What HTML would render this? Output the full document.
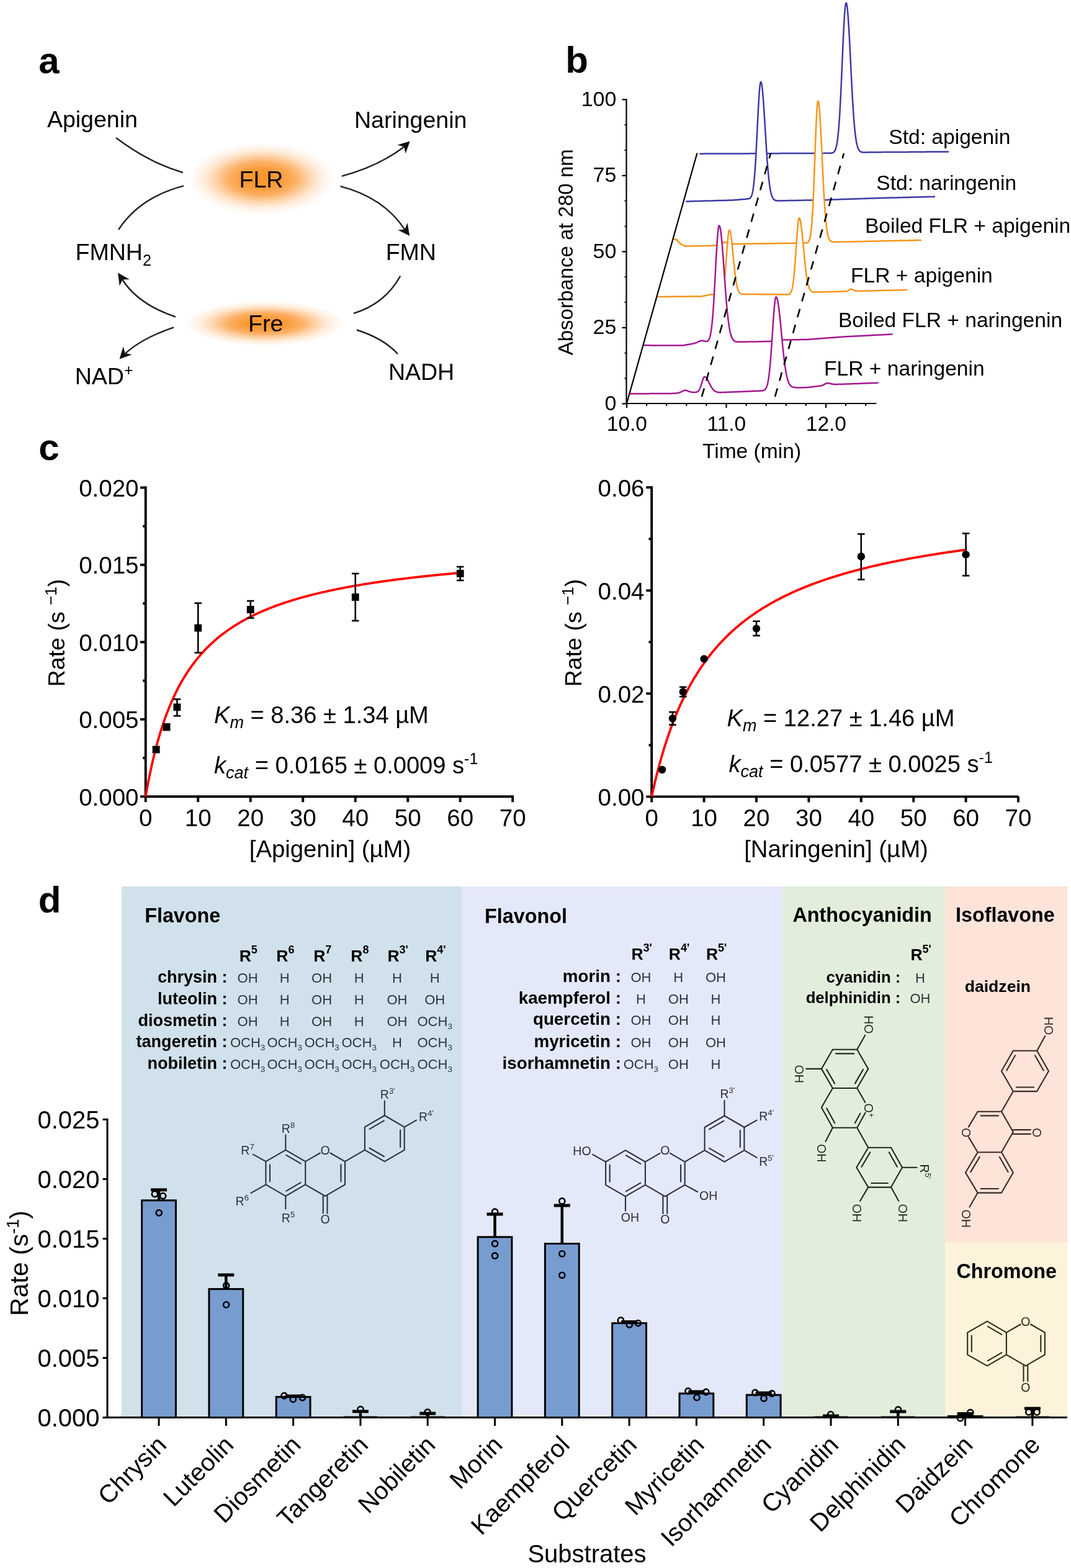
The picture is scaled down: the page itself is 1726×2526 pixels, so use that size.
<!DOCTYPE html>
<html><head><meta charset="utf-8"><title>Figure</title>
<style>
html,body{margin:0;padding:0;background:#fff;}
svg{display:block;}
text{font-family:"Liberation Sans", Arial, Helvetica, sans-serif;}
</style></head><body>
<svg width="1726" height="2526" viewBox="0 0 1726 2526">
<rect x="0" y="0" width="1726" height="2526" fill="#fff"/>
<defs>
<radialGradient id="gl" cx="0.5" cy="0.5" r="0.5">
<stop offset="0" stop-color="#fa952c" stop-opacity="1"/>
<stop offset="0.25" stop-color="#fa962e" stop-opacity="0.95"/>
<stop offset="0.45" stop-color="#fa9834" stop-opacity="0.76"/>
<stop offset="0.6" stop-color="#fb9c3e" stop-opacity="0.47"/>
<stop offset="0.75" stop-color="#fca450" stop-opacity="0.22"/>
<stop offset="0.9" stop-color="#fdb470" stop-opacity="0.07"/>
<stop offset="1" stop-color="#ffffff" stop-opacity="0"/>
</radialGradient>
</defs>
<ellipse cx="422" cy="288" rx="122" ry="60" fill="url(#gl)"/>
<ellipse cx="427" cy="521" rx="134" ry="38" fill="url(#gl)"/>
<text x="62.2" y="118.0" font-size="60" font-weight="bold">a</text>
<text x="75.9" y="205.3" font-size="37.5">Apigenin</text>
<text x="571.0" y="206.0" font-size="37.5">Naringenin</text>
<text x="385.5" y="301.8" font-size="37.5">FLR</text>
<text x="621.7" y="419.0" font-size="37.5">FMN</text>
<text x="121.6" y="418.9" font-size="37.5">FMNH<tspan font-size="25" dy="9">2</tspan></text>
<text x="400.0" y="533.5" font-size="37.5">Fre</text>
<text x="120.7" y="618.6" font-size="37.5">NAD<tspan font-size="25" dy="-14">+</tspan></text>
<text x="625.9" y="612.0" font-size="37.5">NADH</text>
<path d="M187,222 Q240,262 294.7,278" stroke="#222" stroke-width="2.4" fill="none" />
<path d="M296,299.4 Q225,318 191,370" stroke="#222" stroke-width="2.4" fill="none" />
<path d="M550.7,283.8 Q610,268 652,236" stroke="#222" stroke-width="2.4" fill="none" />
<path d="M660.7,227.4 L653.5,247.4 L651.3,236.4 L640.3,233.5 Z" fill="#111"/>
<path d="M548.5,300.2 Q618,318 652.5,370" stroke="#222" stroke-width="2.4" fill="none" />
<path d="M660.2,379.9 L641.1,370.5 L652.4,369.5 L656.5,358.9 Z" fill="#111"/>
<path d="M645.2,444.7 Q620,490 569.9,504.8" stroke="#222" stroke-width="2.4" fill="none" />
<path d="M574.8,531.5 Q618,545 641.1,570.3" stroke="#222" stroke-width="2.4" fill="none" />
<path d="M282.9,510.5 Q222,490 197,450" stroke="#222" stroke-width="2.4" fill="none" />
<path d="M190.0,439.6 L208.6,450.0 L197.3,450.4 L192.7,460.7 Z" fill="#111"/>
<path d="M280.1,527.4 Q228,545 201,570.5" stroke="#222" stroke-width="2.4" fill="none" />
<path d="M192.5,578.4 L198.7,558.0 L201.5,569.0 L212.6,571.3 Z" fill="#111"/>
<text x="911.3" y="117.0" font-size="60" font-weight="bold">b</text>
<path d="M1127.5,247.7 L1128.0,247.7 L1128.5,247.7 L1129.0,247.7 L1129.5,247.7 L1130.0,247.7 L1130.5,247.7 L1131.0,247.7 L1131.5,247.7 L1132.0,247.7 L1132.5,247.7 L1133.0,247.7 L1133.5,247.7 L1134.0,247.7 L1134.5,247.7 L1135.0,247.7 L1135.5,247.7 L1136.0,247.6 L1136.5,247.6 L1137.0,247.6 L1137.5,247.6 L1138.0,247.6 L1138.5,247.6 L1139.0,247.6 L1139.5,247.6 L1140.0,247.6 L1140.5,247.6 L1141.0,247.6 L1141.5,247.6 L1142.0,247.6 L1142.5,247.6 L1143.0,247.6 L1143.5,247.6 L1144.0,247.6 L1144.5,247.6 L1145.0,247.6 L1145.5,247.6 L1146.0,247.6 L1146.5,247.6 L1147.0,247.6 L1147.5,247.6 L1148.0,247.6 L1148.5,247.6 L1149.0,247.6 L1149.5,247.6 L1150.0,247.6 L1150.5,247.6 L1151.0,247.6 L1151.5,247.6 L1152.0,247.6 L1152.5,247.6 L1153.0,247.6 L1153.5,247.6 L1154.0,247.6 L1154.5,247.6 L1155.0,247.6 L1155.5,247.6 L1156.0,247.6 L1156.5,247.6 L1157.0,247.6 L1157.5,247.6 L1158.0,247.6 L1158.5,247.6 L1159.0,247.6 L1159.5,247.6 L1160.0,247.5 L1160.5,247.5 L1161.0,247.5 L1161.5,247.5 L1162.0,247.5 L1162.5,247.5 L1163.0,247.5 L1163.5,247.5 L1164.0,247.5 L1164.5,247.5 L1165.0,247.5 L1165.5,247.5 L1166.0,247.5 L1166.5,247.5 L1167.0,247.5 L1167.5,247.5 L1168.0,247.5 L1168.5,247.5 L1169.0,247.5 L1169.5,247.5 L1170.0,247.5 L1170.5,247.5 L1171.0,247.5 L1171.5,247.5 L1172.0,247.5 L1172.5,247.5 L1173.0,247.5 L1173.5,247.5 L1174.0,247.5 L1174.5,247.5 L1175.0,247.5 L1175.5,247.5 L1176.0,247.5 L1176.5,247.5 L1177.0,247.5 L1177.5,247.5 L1178.0,247.5 L1178.5,247.5 L1179.0,247.5 L1179.5,247.5 L1180.0,247.5 L1180.5,247.5 L1181.0,247.5 L1181.5,247.5 L1182.0,247.5 L1182.5,247.5 L1183.0,247.5 L1183.5,247.5 L1184.0,247.4 L1184.5,247.4 L1185.0,247.4 L1185.5,247.4 L1186.0,247.4 L1186.5,247.4 L1187.0,247.4 L1187.5,247.4 L1188.0,247.4 L1188.5,247.4 L1189.0,247.4 L1189.5,247.4 L1190.0,247.4 L1190.5,247.4 L1191.0,247.4 L1191.5,247.4 L1192.0,247.4 L1192.5,247.4 L1193.0,247.4 L1193.5,247.4 L1194.0,247.4 L1194.5,247.4 L1195.0,247.4 L1195.5,247.4 L1196.0,247.4 L1196.5,247.4 L1197.0,247.4 L1197.5,247.4 L1198.0,247.4 L1198.5,247.4 L1199.0,247.4 L1199.5,247.4 L1200.0,247.4 L1200.5,247.4 L1201.0,247.4 L1201.5,247.4 L1202.0,247.4 L1202.5,247.4 L1203.0,247.4 L1203.5,247.4 L1204.0,247.4 L1204.5,247.4 L1205.0,247.4 L1205.5,247.4 L1206.0,247.4 L1206.5,247.4 L1207.0,247.4 L1207.5,247.4 L1208.0,247.3 L1208.5,247.3 L1209.0,247.3 L1209.5,247.3 L1210.0,247.3 L1210.5,247.3 L1211.0,247.3 L1211.5,247.3 L1212.0,247.3 L1212.5,247.3 L1213.0,247.3 L1213.5,247.3 L1214.0,247.3 L1214.5,247.3 L1215.0,247.3 L1215.5,247.3 L1216.0,247.3 L1216.5,247.3 L1217.0,247.3 L1217.5,247.3 L1218.0,247.3 L1218.5,247.3 L1219.0,247.3 L1219.5,247.3 L1220.0,247.3 L1220.5,247.3 L1221.0,247.3 L1221.5,247.3 L1222.0,247.3 L1222.5,247.3 L1223.0,247.3 L1223.5,247.3 L1224.0,247.3 L1224.5,247.3 L1225.0,247.3 L1225.5,247.3 L1226.0,247.3 L1226.5,247.3 L1227.0,247.3 L1227.5,247.3 L1228.0,247.3 L1228.5,247.3 L1229.0,247.3 L1229.5,247.3 L1230.0,247.3 L1230.5,247.3 L1231.0,247.3 L1231.5,247.3 L1232.0,247.2 L1232.5,247.2 L1233.0,247.2 L1233.5,247.2 L1234.0,247.2 L1234.5,247.2 L1235.0,247.2 L1235.5,247.2 L1236.0,247.2 L1236.5,247.2 L1237.0,247.2 L1237.5,247.2 L1238.0,247.2 L1238.5,247.2 L1239.0,247.2 L1239.5,247.2 L1240.0,247.2 L1240.5,247.2 L1241.0,247.2 L1241.5,247.2 L1242.0,247.2 L1242.5,247.2 L1243.0,247.2 L1243.5,247.2 L1244.0,247.2 L1244.5,247.2 L1245.0,247.2 L1245.5,247.2 L1246.0,247.2 L1246.5,247.2 L1247.0,247.2 L1247.5,247.2 L1248.0,247.2 L1248.5,247.2 L1249.0,247.2 L1249.5,247.2 L1250.0,247.2 L1250.5,247.2 L1251.0,247.2 L1251.5,247.2 L1252.0,247.2 L1252.5,247.2 L1253.0,247.2 L1253.5,247.2 L1254.0,247.2 L1254.5,247.2 L1255.0,247.2 L1255.5,247.2 L1256.0,247.2 L1256.5,247.1 L1257.0,247.1 L1257.5,247.1 L1258.0,247.1 L1258.5,247.1 L1259.0,247.1 L1259.5,247.1 L1260.0,247.1 L1260.5,247.1 L1261.0,247.1 L1261.5,247.1 L1262.0,247.1 L1262.5,247.1 L1263.0,247.1 L1263.5,247.1 L1264.0,247.1 L1264.5,247.1 L1265.0,247.1 L1265.5,247.1 L1266.0,247.1 L1266.5,247.1 L1267.0,247.1 L1267.5,247.1 L1268.0,247.1 L1268.5,247.1 L1269.0,247.1 L1269.5,247.1 L1270.0,247.1 L1270.5,247.1 L1271.0,247.1 L1271.5,247.1 L1272.0,247.1 L1272.5,247.1 L1273.0,247.1 L1273.5,247.1 L1274.0,247.1 L1274.5,247.1 L1275.0,247.1 L1275.5,247.1 L1276.0,247.1 L1276.5,247.1 L1277.0,247.1 L1277.5,247.1 L1278.0,247.1 L1278.5,247.1 L1279.0,247.1 L1279.5,247.1 L1280.0,247.1 L1280.5,247.0 L1281.0,247.0 L1281.5,247.0 L1282.0,247.0 L1282.5,247.0 L1283.0,247.0 L1283.5,247.0 L1284.0,247.0 L1284.5,247.0 L1285.0,247.0 L1285.5,247.0 L1286.0,247.0 L1286.5,247.0 L1287.0,247.0 L1287.5,247.0 L1288.0,247.0 L1288.5,247.0 L1289.0,247.0 L1289.5,247.0 L1290.0,247.0 L1290.5,247.0 L1291.0,247.0 L1291.5,247.0 L1292.0,247.0 L1292.5,247.0 L1293.0,247.0 L1293.5,247.0 L1294.0,247.0 L1294.5,247.0 L1295.0,247.0 L1295.5,247.0 L1296.0,247.0 L1296.5,247.0 L1297.0,247.0 L1297.5,247.0 L1298.0,247.0 L1298.5,247.0 L1299.0,247.0 L1299.5,247.0 L1300.0,247.0 L1300.5,247.0 L1301.0,247.0 L1301.5,247.0 L1302.0,247.0 L1302.5,247.0 L1303.0,247.0 L1303.5,247.0 L1304.0,247.0 L1304.5,246.9 L1305.0,246.9 L1305.5,246.9 L1306.0,246.9 L1306.5,246.9 L1307.0,246.9 L1307.5,246.9 L1308.0,246.9 L1308.5,246.9 L1309.0,246.9 L1309.5,246.9 L1310.0,246.9 L1310.5,246.9 L1311.0,246.9 L1311.5,246.9 L1312.0,246.9 L1312.5,246.9 L1313.0,246.9 L1313.5,246.9 L1314.0,246.9 L1314.5,246.9 L1315.0,246.9 L1315.5,246.9 L1316.0,246.9 L1316.5,246.9 L1317.0,246.9 L1317.5,246.9 L1318.0,246.9 L1318.5,246.9 L1319.0,246.9 L1319.5,246.9 L1320.0,246.9 L1320.5,246.9 L1321.0,246.9 L1321.5,246.9 L1322.0,246.9 L1322.5,246.9 L1323.0,246.9 L1323.5,246.9 L1324.0,246.9 L1324.5,246.9 L1325.0,246.9 L1325.5,246.9 L1326.0,246.9 L1326.5,246.9 L1327.0,246.9 L1327.5,246.9 L1328.0,246.8 L1328.5,246.8 L1329.0,246.8 L1329.5,246.8 L1330.0,246.8 L1330.5,246.8 L1331.0,246.8 L1331.5,246.8 L1332.0,246.8 L1332.5,246.8 L1333.0,246.8 L1333.5,246.8 L1334.0,246.8 L1334.5,246.8 L1335.0,246.8 L1335.5,246.8 L1336.0,246.8 L1336.5,246.8 L1337.0,246.8 L1337.5,246.8 L1338.0,246.7 L1338.5,246.7 L1339.0,246.7 L1339.5,246.6 L1340.0,246.6 L1340.5,246.5 L1341.0,246.4 L1341.5,246.2 L1342.0,246.1 L1342.5,245.9 L1343.0,245.6 L1343.5,245.2 L1344.0,244.8 L1344.5,244.2 L1345.0,243.6 L1345.5,242.8 L1346.0,241.8 L1346.5,240.6 L1347.0,239.1 L1347.5,237.4 L1348.0,235.3 L1348.5,232.9 L1349.0,230.1 L1349.5,226.8 L1350.0,223.1 L1350.5,218.7 L1351.0,213.8 L1351.5,208.3 L1352.0,202.2 L1352.5,195.3 L1353.0,187.8 L1353.5,179.7 L1354.0,170.8 L1354.5,161.4 L1355.0,151.3 L1355.5,140.7 L1356.0,129.7 L1356.5,118.4 L1357.0,106.9 L1357.5,95.2 L1358.0,83.7 L1358.5,72.3 L1359.0,61.3 L1359.5,50.9 L1360.0,41.2 L1360.5,32.3 L1361.0,24.5 L1361.5,17.8 L1362.0,12.4 L1362.5,8.4 L1363.0,5.8 L1363.5,4.7 L1364.0,5.1 L1364.5,6.6 L1365.0,9.2 L1365.5,12.9 L1366.0,17.7 L1366.5,23.5 L1367.0,30.1 L1367.5,37.6 L1368.0,45.7 L1368.5,54.5 L1369.0,63.8 L1369.5,73.4 L1370.0,83.4 L1370.5,93.5 L1371.0,103.6 L1371.5,113.7 L1372.0,123.7 L1372.5,133.5 L1373.0,143.0 L1373.5,152.1 L1374.0,160.9 L1374.5,169.2 L1375.0,177.0 L1375.5,184.3 L1376.0,191.1 L1376.5,197.4 L1377.0,203.1 L1377.5,208.4 L1378.0,213.2 L1378.5,217.5 L1379.0,221.3 L1379.5,224.7 L1380.0,227.8 L1380.5,230.4 L1381.0,232.8 L1381.5,234.8 L1382.0,236.5 L1382.5,238.0 L1383.0,239.3 L1383.5,240.4 L1384.0,241.3 L1384.5,242.1 L1385.0,242.8 L1385.5,243.3 L1386.0,243.7 L1386.5,244.1 L1387.0,244.4 L1387.5,244.6 L1388.0,244.8 L1388.5,245.0 L1389.0,245.1 L1389.5,245.2 L1390.0,245.3 L1390.5,245.3 L1391.0,245.4 L1391.5,245.4 L1392.0,245.4 L1392.5,245.4 L1393.0,245.4 L1393.5,245.4 L1394.0,245.4 L1394.5,245.4 L1395.0,245.4 L1395.5,245.4 L1396.0,245.4 L1396.5,245.4 L1397.0,245.4 L1397.5,245.4 L1398.0,245.3 L1398.5,245.3 L1399.0,245.3 L1399.5,245.3 L1400.0,245.3 L1400.5,245.3 L1401.0,245.3 L1401.5,245.3 L1402.0,245.3 L1402.5,245.3 L1403.0,245.3 L1403.5,245.3 L1404.0,245.3 L1404.5,245.3 L1405.0,245.3 L1405.5,245.3 L1406.0,245.3 L1406.5,245.3 L1407.0,245.3 L1407.5,245.2 L1408.0,245.2 L1408.5,245.2 L1409.0,245.2 L1409.5,245.2 L1410.0,245.2 L1410.5,245.2 L1411.0,245.2 L1411.5,245.2 L1412.0,245.2 L1412.5,245.2 L1413.0,245.2 L1413.5,245.2 L1414.0,245.2 L1414.5,245.2 L1415.0,245.2 L1415.5,245.2 L1416.0,245.2 L1416.5,245.2 L1417.0,245.2 L1417.5,245.2 L1418.0,245.2 L1418.5,245.2 L1419.0,245.2 L1419.5,245.2 L1420.0,245.2 L1420.5,245.2 L1421.0,245.2 L1421.5,245.1 L1422.0,245.1 L1422.5,245.1 L1423.0,245.1 L1423.5,245.1 L1424.0,245.1 L1424.5,245.1 L1425.0,245.1 L1425.5,245.1 L1426.0,245.1 L1426.5,245.1 L1427.0,245.1 L1427.5,245.1 L1428.0,245.1 L1428.5,245.1 L1429.0,245.1 L1429.5,245.1 L1430.0,245.1 L1430.5,245.1 L1431.0,245.1 L1431.5,245.1 L1432.0,245.1 L1432.5,245.1 L1433.0,245.1 L1433.5,245.1 L1434.0,245.1 L1434.5,245.1 L1435.0,245.1 L1435.5,245.1 L1436.0,245.0 L1436.5,245.0 L1437.0,245.0 L1437.5,245.0 L1438.0,245.0 L1438.5,245.0 L1439.0,245.0 L1439.5,245.0 L1440.0,245.0 L1440.5,245.0 L1441.0,245.0 L1441.5,245.0 L1442.0,245.0 L1442.5,245.0 L1443.0,245.0 L1443.5,245.0 L1444.0,245.0 L1444.5,245.0 L1445.0,245.0 L1445.5,245.0 L1446.0,245.0 L1446.5,245.0 L1447.0,245.0 L1447.5,245.0 L1448.0,245.0 L1448.5,245.0 L1449.0,245.0 L1449.5,245.0 L1450.0,245.0 L1450.5,244.9 L1451.0,244.9 L1451.5,244.9 L1452.0,244.9 L1452.5,244.9 L1453.0,244.9 L1453.5,244.9 L1454.0,244.9 L1454.5,244.9 L1455.0,244.9 L1455.5,244.9 L1456.0,244.9 L1456.5,244.9 L1457.0,244.9 L1457.5,244.9 L1458.0,244.9 L1458.5,244.9 L1459.0,244.9 L1459.5,244.9 L1460.0,244.9 L1460.5,244.9 L1461.0,244.9 L1461.5,244.9 L1462.0,244.9 L1462.5,244.9 L1463.0,244.9 L1463.5,244.9 L1464.0,244.9 L1464.5,244.9 L1465.0,244.8 L1465.5,244.8 L1466.0,244.8 L1466.5,244.8 L1467.0,244.8 L1467.5,244.8 L1468.0,244.8 L1468.5,244.8 L1469.0,244.8 L1469.5,244.8 L1470.0,244.8 L1470.5,244.8 L1471.0,244.8 L1471.5,244.8 L1472.0,244.8 L1472.5,244.8 L1473.0,244.8 L1473.5,244.8 L1474.0,244.8 L1474.5,244.8 L1475.0,244.8 L1475.5,244.8 L1476.0,244.8 L1476.5,244.8 L1477.0,244.8 L1477.5,244.8 L1478.0,244.8 L1478.5,244.8 L1479.0,244.7 L1479.5,244.7 L1480.0,244.7 L1480.5,244.7 L1481.0,244.7 L1481.5,244.7 L1482.0,244.7 L1482.5,244.7 L1483.0,244.7 L1483.5,244.7 L1484.0,244.7 L1484.5,244.7 L1485.0,244.7 L1485.5,244.7 L1486.0,244.7 L1486.5,244.7 L1487.0,244.7 L1487.5,244.7 L1488.0,244.7 L1488.5,244.7 L1489.0,244.7 L1489.5,244.7 L1490.0,244.7 L1490.5,244.7 L1491.0,244.7 L1491.5,244.7 L1492.0,244.7 L1492.5,244.7 L1493.0,244.7 L1493.5,244.6 L1494.0,244.6 L1494.5,244.6 L1495.0,244.6 L1495.5,244.6 L1496.0,244.6 L1496.5,244.6 L1497.0,244.6 L1497.5,244.6 L1498.0,244.6 L1498.5,244.6 L1499.0,244.6 L1499.5,244.6 L1500.0,244.6 L1500.5,244.6 L1501.0,244.6 L1501.5,244.6 L1502.0,244.6 L1502.5,244.6 L1503.0,244.6 L1503.5,244.6 L1504.0,244.6 L1504.5,244.6 L1505.0,244.6 L1505.5,244.6 L1506.0,244.6 L1506.5,244.6 L1507.0,244.6 L1507.5,244.6 L1508.0,244.5 L1508.5,244.5 L1509.0,244.5 L1509.5,244.5 L1510.0,244.5 L1510.5,244.5 L1511.0,244.5 L1511.5,244.5 L1512.0,244.5 L1512.5,244.5 L1513.0,244.5 L1513.5,244.5 L1514.0,244.5 L1514.5,244.5 L1515.0,244.5 L1515.5,244.5 L1516.0,244.5 L1516.5,244.5 L1517.0,244.5 L1517.5,244.5 L1518.0,244.5 L1518.5,244.5 L1519.0,244.5 L1519.5,244.5 L1520.0,244.5 L1520.5,244.5 L1521.0,244.5 L1521.5,244.5 L1522.0,244.4 L1522.5,244.4 L1523.0,244.4 L1523.5,244.4 L1524.0,244.4 L1524.5,244.4 L1525.0,244.4 L1525.5,244.4 L1526.0,244.4 L1526.5,244.4 L1527.0,244.4 L1527.5,244.4 L1528.0,244.4 L1528.5,244.4 L1529.0,244.4 L1529.0,652 L1127.5,652 Z" fill="#fff" stroke="none"/>
<path d="M1127.5,247.7 L1128.0,247.7 L1128.5,247.7 L1129.0,247.7 L1129.5,247.7 L1130.0,247.7 L1130.5,247.7 L1131.0,247.7 L1131.5,247.7 L1132.0,247.7 L1132.5,247.7 L1133.0,247.7 L1133.5,247.7 L1134.0,247.7 L1134.5,247.7 L1135.0,247.7 L1135.5,247.7 L1136.0,247.6 L1136.5,247.6 L1137.0,247.6 L1137.5,247.6 L1138.0,247.6 L1138.5,247.6 L1139.0,247.6 L1139.5,247.6 L1140.0,247.6 L1140.5,247.6 L1141.0,247.6 L1141.5,247.6 L1142.0,247.6 L1142.5,247.6 L1143.0,247.6 L1143.5,247.6 L1144.0,247.6 L1144.5,247.6 L1145.0,247.6 L1145.5,247.6 L1146.0,247.6 L1146.5,247.6 L1147.0,247.6 L1147.5,247.6 L1148.0,247.6 L1148.5,247.6 L1149.0,247.6 L1149.5,247.6 L1150.0,247.6 L1150.5,247.6 L1151.0,247.6 L1151.5,247.6 L1152.0,247.6 L1152.5,247.6 L1153.0,247.6 L1153.5,247.6 L1154.0,247.6 L1154.5,247.6 L1155.0,247.6 L1155.5,247.6 L1156.0,247.6 L1156.5,247.6 L1157.0,247.6 L1157.5,247.6 L1158.0,247.6 L1158.5,247.6 L1159.0,247.6 L1159.5,247.6 L1160.0,247.5 L1160.5,247.5 L1161.0,247.5 L1161.5,247.5 L1162.0,247.5 L1162.5,247.5 L1163.0,247.5 L1163.5,247.5 L1164.0,247.5 L1164.5,247.5 L1165.0,247.5 L1165.5,247.5 L1166.0,247.5 L1166.5,247.5 L1167.0,247.5 L1167.5,247.5 L1168.0,247.5 L1168.5,247.5 L1169.0,247.5 L1169.5,247.5 L1170.0,247.5 L1170.5,247.5 L1171.0,247.5 L1171.5,247.5 L1172.0,247.5 L1172.5,247.5 L1173.0,247.5 L1173.5,247.5 L1174.0,247.5 L1174.5,247.5 L1175.0,247.5 L1175.5,247.5 L1176.0,247.5 L1176.5,247.5 L1177.0,247.5 L1177.5,247.5 L1178.0,247.5 L1178.5,247.5 L1179.0,247.5 L1179.5,247.5 L1180.0,247.5 L1180.5,247.5 L1181.0,247.5 L1181.5,247.5 L1182.0,247.5 L1182.5,247.5 L1183.0,247.5 L1183.5,247.5 L1184.0,247.4 L1184.5,247.4 L1185.0,247.4 L1185.5,247.4 L1186.0,247.4 L1186.5,247.4 L1187.0,247.4 L1187.5,247.4 L1188.0,247.4 L1188.5,247.4 L1189.0,247.4 L1189.5,247.4 L1190.0,247.4 L1190.5,247.4 L1191.0,247.4 L1191.5,247.4 L1192.0,247.4 L1192.5,247.4 L1193.0,247.4 L1193.5,247.4 L1194.0,247.4 L1194.5,247.4 L1195.0,247.4 L1195.5,247.4 L1196.0,247.4 L1196.5,247.4 L1197.0,247.4 L1197.5,247.4 L1198.0,247.4 L1198.5,247.4 L1199.0,247.4 L1199.5,247.4 L1200.0,247.4 L1200.5,247.4 L1201.0,247.4 L1201.5,247.4 L1202.0,247.4 L1202.5,247.4 L1203.0,247.4 L1203.5,247.4 L1204.0,247.4 L1204.5,247.4 L1205.0,247.4 L1205.5,247.4 L1206.0,247.4 L1206.5,247.4 L1207.0,247.4 L1207.5,247.4 L1208.0,247.3 L1208.5,247.3 L1209.0,247.3 L1209.5,247.3 L1210.0,247.3 L1210.5,247.3 L1211.0,247.3 L1211.5,247.3 L1212.0,247.3 L1212.5,247.3 L1213.0,247.3 L1213.5,247.3 L1214.0,247.3 L1214.5,247.3 L1215.0,247.3 L1215.5,247.3 L1216.0,247.3 L1216.5,247.3 L1217.0,247.3 L1217.5,247.3 L1218.0,247.3 L1218.5,247.3 L1219.0,247.3 L1219.5,247.3 L1220.0,247.3 L1220.5,247.3 L1221.0,247.3 L1221.5,247.3 L1222.0,247.3 L1222.5,247.3 L1223.0,247.3 L1223.5,247.3 L1224.0,247.3 L1224.5,247.3 L1225.0,247.3 L1225.5,247.3 L1226.0,247.3 L1226.5,247.3 L1227.0,247.3 L1227.5,247.3 L1228.0,247.3 L1228.5,247.3 L1229.0,247.3 L1229.5,247.3 L1230.0,247.3 L1230.5,247.3 L1231.0,247.3 L1231.5,247.3 L1232.0,247.2 L1232.5,247.2 L1233.0,247.2 L1233.5,247.2 L1234.0,247.2 L1234.5,247.2 L1235.0,247.2 L1235.5,247.2 L1236.0,247.2 L1236.5,247.2 L1237.0,247.2 L1237.5,247.2 L1238.0,247.2 L1238.5,247.2 L1239.0,247.2 L1239.5,247.2 L1240.0,247.2 L1240.5,247.2 L1241.0,247.2 L1241.5,247.2 L1242.0,247.2 L1242.5,247.2 L1243.0,247.2 L1243.5,247.2 L1244.0,247.2 L1244.5,247.2 L1245.0,247.2 L1245.5,247.2 L1246.0,247.2 L1246.5,247.2 L1247.0,247.2 L1247.5,247.2 L1248.0,247.2 L1248.5,247.2 L1249.0,247.2 L1249.5,247.2 L1250.0,247.2 L1250.5,247.2 L1251.0,247.2 L1251.5,247.2 L1252.0,247.2 L1252.5,247.2 L1253.0,247.2 L1253.5,247.2 L1254.0,247.2 L1254.5,247.2 L1255.0,247.2 L1255.5,247.2 L1256.0,247.2 L1256.5,247.1 L1257.0,247.1 L1257.5,247.1 L1258.0,247.1 L1258.5,247.1 L1259.0,247.1 L1259.5,247.1 L1260.0,247.1 L1260.5,247.1 L1261.0,247.1 L1261.5,247.1 L1262.0,247.1 L1262.5,247.1 L1263.0,247.1 L1263.5,247.1 L1264.0,247.1 L1264.5,247.1 L1265.0,247.1 L1265.5,247.1 L1266.0,247.1 L1266.5,247.1 L1267.0,247.1 L1267.5,247.1 L1268.0,247.1 L1268.5,247.1 L1269.0,247.1 L1269.5,247.1 L1270.0,247.1 L1270.5,247.1 L1271.0,247.1 L1271.5,247.1 L1272.0,247.1 L1272.5,247.1 L1273.0,247.1 L1273.5,247.1 L1274.0,247.1 L1274.5,247.1 L1275.0,247.1 L1275.5,247.1 L1276.0,247.1 L1276.5,247.1 L1277.0,247.1 L1277.5,247.1 L1278.0,247.1 L1278.5,247.1 L1279.0,247.1 L1279.5,247.1 L1280.0,247.1 L1280.5,247.0 L1281.0,247.0 L1281.5,247.0 L1282.0,247.0 L1282.5,247.0 L1283.0,247.0 L1283.5,247.0 L1284.0,247.0 L1284.5,247.0 L1285.0,247.0 L1285.5,247.0 L1286.0,247.0 L1286.5,247.0 L1287.0,247.0 L1287.5,247.0 L1288.0,247.0 L1288.5,247.0 L1289.0,247.0 L1289.5,247.0 L1290.0,247.0 L1290.5,247.0 L1291.0,247.0 L1291.5,247.0 L1292.0,247.0 L1292.5,247.0 L1293.0,247.0 L1293.5,247.0 L1294.0,247.0 L1294.5,247.0 L1295.0,247.0 L1295.5,247.0 L1296.0,247.0 L1296.5,247.0 L1297.0,247.0 L1297.5,247.0 L1298.0,247.0 L1298.5,247.0 L1299.0,247.0 L1299.5,247.0 L1300.0,247.0 L1300.5,247.0 L1301.0,247.0 L1301.5,247.0 L1302.0,247.0 L1302.5,247.0 L1303.0,247.0 L1303.5,247.0 L1304.0,247.0 L1304.5,246.9 L1305.0,246.9 L1305.5,246.9 L1306.0,246.9 L1306.5,246.9 L1307.0,246.9 L1307.5,246.9 L1308.0,246.9 L1308.5,246.9 L1309.0,246.9 L1309.5,246.9 L1310.0,246.9 L1310.5,246.9 L1311.0,246.9 L1311.5,246.9 L1312.0,246.9 L1312.5,246.9 L1313.0,246.9 L1313.5,246.9 L1314.0,246.9 L1314.5,246.9 L1315.0,246.9 L1315.5,246.9 L1316.0,246.9 L1316.5,246.9 L1317.0,246.9 L1317.5,246.9 L1318.0,246.9 L1318.5,246.9 L1319.0,246.9 L1319.5,246.9 L1320.0,246.9 L1320.5,246.9 L1321.0,246.9 L1321.5,246.9 L1322.0,246.9 L1322.5,246.9 L1323.0,246.9 L1323.5,246.9 L1324.0,246.9 L1324.5,246.9 L1325.0,246.9 L1325.5,246.9 L1326.0,246.9 L1326.5,246.9 L1327.0,246.9 L1327.5,246.9 L1328.0,246.8 L1328.5,246.8 L1329.0,246.8 L1329.5,246.8 L1330.0,246.8 L1330.5,246.8 L1331.0,246.8 L1331.5,246.8 L1332.0,246.8 L1332.5,246.8 L1333.0,246.8 L1333.5,246.8 L1334.0,246.8 L1334.5,246.8 L1335.0,246.8 L1335.5,246.8 L1336.0,246.8 L1336.5,246.8 L1337.0,246.8 L1337.5,246.8 L1338.0,246.7 L1338.5,246.7 L1339.0,246.7 L1339.5,246.6 L1340.0,246.6 L1340.5,246.5 L1341.0,246.4 L1341.5,246.2 L1342.0,246.1 L1342.5,245.9 L1343.0,245.6 L1343.5,245.2 L1344.0,244.8 L1344.5,244.2 L1345.0,243.6 L1345.5,242.8 L1346.0,241.8 L1346.5,240.6 L1347.0,239.1 L1347.5,237.4 L1348.0,235.3 L1348.5,232.9 L1349.0,230.1 L1349.5,226.8 L1350.0,223.1 L1350.5,218.7 L1351.0,213.8 L1351.5,208.3 L1352.0,202.2 L1352.5,195.3 L1353.0,187.8 L1353.5,179.7 L1354.0,170.8 L1354.5,161.4 L1355.0,151.3 L1355.5,140.7 L1356.0,129.7 L1356.5,118.4 L1357.0,106.9 L1357.5,95.2 L1358.0,83.7 L1358.5,72.3 L1359.0,61.3 L1359.5,50.9 L1360.0,41.2 L1360.5,32.3 L1361.0,24.5 L1361.5,17.8 L1362.0,12.4 L1362.5,8.4 L1363.0,5.8 L1363.5,4.7 L1364.0,5.1 L1364.5,6.6 L1365.0,9.2 L1365.5,12.9 L1366.0,17.7 L1366.5,23.5 L1367.0,30.1 L1367.5,37.6 L1368.0,45.7 L1368.5,54.5 L1369.0,63.8 L1369.5,73.4 L1370.0,83.4 L1370.5,93.5 L1371.0,103.6 L1371.5,113.7 L1372.0,123.7 L1372.5,133.5 L1373.0,143.0 L1373.5,152.1 L1374.0,160.9 L1374.5,169.2 L1375.0,177.0 L1375.5,184.3 L1376.0,191.1 L1376.5,197.4 L1377.0,203.1 L1377.5,208.4 L1378.0,213.2 L1378.5,217.5 L1379.0,221.3 L1379.5,224.7 L1380.0,227.8 L1380.5,230.4 L1381.0,232.8 L1381.5,234.8 L1382.0,236.5 L1382.5,238.0 L1383.0,239.3 L1383.5,240.4 L1384.0,241.3 L1384.5,242.1 L1385.0,242.8 L1385.5,243.3 L1386.0,243.7 L1386.5,244.1 L1387.0,244.4 L1387.5,244.6 L1388.0,244.8 L1388.5,245.0 L1389.0,245.1 L1389.5,245.2 L1390.0,245.3 L1390.5,245.3 L1391.0,245.4 L1391.5,245.4 L1392.0,245.4 L1392.5,245.4 L1393.0,245.4 L1393.5,245.4 L1394.0,245.4 L1394.5,245.4 L1395.0,245.4 L1395.5,245.4 L1396.0,245.4 L1396.5,245.4 L1397.0,245.4 L1397.5,245.4 L1398.0,245.3 L1398.5,245.3 L1399.0,245.3 L1399.5,245.3 L1400.0,245.3 L1400.5,245.3 L1401.0,245.3 L1401.5,245.3 L1402.0,245.3 L1402.5,245.3 L1403.0,245.3 L1403.5,245.3 L1404.0,245.3 L1404.5,245.3 L1405.0,245.3 L1405.5,245.3 L1406.0,245.3 L1406.5,245.3 L1407.0,245.3 L1407.5,245.2 L1408.0,245.2 L1408.5,245.2 L1409.0,245.2 L1409.5,245.2 L1410.0,245.2 L1410.5,245.2 L1411.0,245.2 L1411.5,245.2 L1412.0,245.2 L1412.5,245.2 L1413.0,245.2 L1413.5,245.2 L1414.0,245.2 L1414.5,245.2 L1415.0,245.2 L1415.5,245.2 L1416.0,245.2 L1416.5,245.2 L1417.0,245.2 L1417.5,245.2 L1418.0,245.2 L1418.5,245.2 L1419.0,245.2 L1419.5,245.2 L1420.0,245.2 L1420.5,245.2 L1421.0,245.2 L1421.5,245.1 L1422.0,245.1 L1422.5,245.1 L1423.0,245.1 L1423.5,245.1 L1424.0,245.1 L1424.5,245.1 L1425.0,245.1 L1425.5,245.1 L1426.0,245.1 L1426.5,245.1 L1427.0,245.1 L1427.5,245.1 L1428.0,245.1 L1428.5,245.1 L1429.0,245.1 L1429.5,245.1 L1430.0,245.1 L1430.5,245.1 L1431.0,245.1 L1431.5,245.1 L1432.0,245.1 L1432.5,245.1 L1433.0,245.1 L1433.5,245.1 L1434.0,245.1 L1434.5,245.1 L1435.0,245.1 L1435.5,245.1 L1436.0,245.0 L1436.5,245.0 L1437.0,245.0 L1437.5,245.0 L1438.0,245.0 L1438.5,245.0 L1439.0,245.0 L1439.5,245.0 L1440.0,245.0 L1440.5,245.0 L1441.0,245.0 L1441.5,245.0 L1442.0,245.0 L1442.5,245.0 L1443.0,245.0 L1443.5,245.0 L1444.0,245.0 L1444.5,245.0 L1445.0,245.0 L1445.5,245.0 L1446.0,245.0 L1446.5,245.0 L1447.0,245.0 L1447.5,245.0 L1448.0,245.0 L1448.5,245.0 L1449.0,245.0 L1449.5,245.0 L1450.0,245.0 L1450.5,244.9 L1451.0,244.9 L1451.5,244.9 L1452.0,244.9 L1452.5,244.9 L1453.0,244.9 L1453.5,244.9 L1454.0,244.9 L1454.5,244.9 L1455.0,244.9 L1455.5,244.9 L1456.0,244.9 L1456.5,244.9 L1457.0,244.9 L1457.5,244.9 L1458.0,244.9 L1458.5,244.9 L1459.0,244.9 L1459.5,244.9 L1460.0,244.9 L1460.5,244.9 L1461.0,244.9 L1461.5,244.9 L1462.0,244.9 L1462.5,244.9 L1463.0,244.9 L1463.5,244.9 L1464.0,244.9 L1464.5,244.9 L1465.0,244.8 L1465.5,244.8 L1466.0,244.8 L1466.5,244.8 L1467.0,244.8 L1467.5,244.8 L1468.0,244.8 L1468.5,244.8 L1469.0,244.8 L1469.5,244.8 L1470.0,244.8 L1470.5,244.8 L1471.0,244.8 L1471.5,244.8 L1472.0,244.8 L1472.5,244.8 L1473.0,244.8 L1473.5,244.8 L1474.0,244.8 L1474.5,244.8 L1475.0,244.8 L1475.5,244.8 L1476.0,244.8 L1476.5,244.8 L1477.0,244.8 L1477.5,244.8 L1478.0,244.8 L1478.5,244.8 L1479.0,244.7 L1479.5,244.7 L1480.0,244.7 L1480.5,244.7 L1481.0,244.7 L1481.5,244.7 L1482.0,244.7 L1482.5,244.7 L1483.0,244.7 L1483.5,244.7 L1484.0,244.7 L1484.5,244.7 L1485.0,244.7 L1485.5,244.7 L1486.0,244.7 L1486.5,244.7 L1487.0,244.7 L1487.5,244.7 L1488.0,244.7 L1488.5,244.7 L1489.0,244.7 L1489.5,244.7 L1490.0,244.7 L1490.5,244.7 L1491.0,244.7 L1491.5,244.7 L1492.0,244.7 L1492.5,244.7 L1493.0,244.7 L1493.5,244.6 L1494.0,244.6 L1494.5,244.6 L1495.0,244.6 L1495.5,244.6 L1496.0,244.6 L1496.5,244.6 L1497.0,244.6 L1497.5,244.6 L1498.0,244.6 L1498.5,244.6 L1499.0,244.6 L1499.5,244.6 L1500.0,244.6 L1500.5,244.6 L1501.0,244.6 L1501.5,244.6 L1502.0,244.6 L1502.5,244.6 L1503.0,244.6 L1503.5,244.6 L1504.0,244.6 L1504.5,244.6 L1505.0,244.6 L1505.5,244.6 L1506.0,244.6 L1506.5,244.6 L1507.0,244.6 L1507.5,244.6 L1508.0,244.5 L1508.5,244.5 L1509.0,244.5 L1509.5,244.5 L1510.0,244.5 L1510.5,244.5 L1511.0,244.5 L1511.5,244.5 L1512.0,244.5 L1512.5,244.5 L1513.0,244.5 L1513.5,244.5 L1514.0,244.5 L1514.5,244.5 L1515.0,244.5 L1515.5,244.5 L1516.0,244.5 L1516.5,244.5 L1517.0,244.5 L1517.5,244.5 L1518.0,244.5 L1518.5,244.5 L1519.0,244.5 L1519.5,244.5 L1520.0,244.5 L1520.5,244.5 L1521.0,244.5 L1521.5,244.5 L1522.0,244.4 L1522.5,244.4 L1523.0,244.4 L1523.5,244.4 L1524.0,244.4 L1524.5,244.4 L1525.0,244.4 L1525.5,244.4 L1526.0,244.4 L1526.5,244.4 L1527.0,244.4 L1527.5,244.4 L1528.0,244.4 L1528.5,244.4 L1529.0,244.4" fill="none" stroke="#3c3aa6" stroke-width="2.5" stroke-linejoin="round"/>
<path d="M1105.0,324.5 L1105.5,324.5 L1106.0,324.5 L1106.5,324.5 L1107.0,324.4 L1107.5,324.4 L1108.0,324.4 L1108.5,324.4 L1109.0,324.4 L1109.5,324.4 L1110.0,324.4 L1110.5,324.4 L1111.0,324.3 L1111.5,324.3 L1112.0,324.3 L1112.5,324.3 L1113.0,324.3 L1113.5,324.3 L1114.0,324.3 L1114.5,324.2 L1115.0,324.2 L1115.5,324.2 L1116.0,324.2 L1116.5,324.2 L1117.0,324.2 L1117.5,324.2 L1118.0,324.2 L1118.5,324.1 L1119.0,324.1 L1119.5,324.1 L1120.0,324.1 L1120.5,324.1 L1121.0,324.1 L1121.5,324.1 L1122.0,324.0 L1122.5,324.0 L1123.0,324.0 L1123.5,324.0 L1124.0,324.0 L1124.5,324.0 L1125.0,324.0 L1125.5,324.0 L1126.0,323.9 L1126.5,323.9 L1127.0,323.9 L1127.5,323.9 L1128.0,323.9 L1128.5,323.9 L1129.0,323.9 L1129.5,323.8 L1130.0,323.8 L1130.5,323.8 L1131.0,323.8 L1131.5,323.8 L1132.0,323.8 L1132.5,323.8 L1133.0,323.8 L1133.5,323.7 L1134.0,323.7 L1134.5,323.7 L1135.0,323.7 L1135.5,323.7 L1136.0,323.7 L1136.5,323.7 L1137.0,323.6 L1137.5,323.6 L1138.0,323.6 L1138.5,323.6 L1139.0,323.6 L1139.5,323.6 L1140.0,323.6 L1140.5,323.6 L1141.0,323.5 L1141.5,323.5 L1142.0,323.5 L1142.5,323.5 L1143.0,323.5 L1143.5,323.5 L1144.0,323.5 L1144.5,323.4 L1145.0,323.4 L1145.5,323.4 L1146.0,323.4 L1146.5,323.4 L1147.0,323.4 L1147.5,323.4 L1148.0,323.4 L1148.5,323.3 L1149.0,323.3 L1149.5,323.3 L1150.0,323.3 L1150.5,323.3 L1151.0,323.3 L1151.5,323.3 L1152.0,323.2 L1152.5,323.2 L1153.0,323.2 L1153.5,323.2 L1154.0,323.2 L1154.5,323.2 L1155.0,323.2 L1155.5,323.2 L1156.0,323.1 L1156.5,323.1 L1157.0,323.1 L1157.5,323.1 L1158.0,323.1 L1158.5,323.1 L1159.0,323.1 L1159.5,323.0 L1160.0,323.0 L1160.5,323.0 L1161.0,323.0 L1161.5,323.0 L1162.0,323.0 L1162.5,323.0 L1163.0,323.0 L1163.5,322.9 L1164.0,322.9 L1164.5,322.9 L1165.0,322.9 L1165.5,322.9 L1166.0,322.9 L1166.5,322.9 L1167.0,322.8 L1167.5,322.8 L1168.0,322.8 L1168.5,322.8 L1169.0,322.8 L1169.5,322.8 L1170.0,322.8 L1170.5,322.8 L1171.0,322.7 L1171.5,322.7 L1172.0,322.7 L1172.5,322.7 L1173.0,322.7 L1173.5,322.7 L1174.0,322.7 L1174.5,322.6 L1175.0,322.6 L1175.5,322.6 L1176.0,322.6 L1176.5,322.6 L1177.0,322.6 L1177.5,322.6 L1178.0,322.6 L1178.5,322.5 L1179.0,322.5 L1179.5,322.5 L1180.0,322.5 L1180.5,322.5 L1181.0,322.4 L1181.5,322.4 L1182.0,322.3 L1182.5,322.3 L1183.0,322.3 L1183.5,322.2 L1184.0,322.2 L1184.5,322.1 L1185.0,322.1 L1185.5,322.1 L1186.0,322.0 L1186.5,322.0 L1187.0,321.9 L1187.5,321.9 L1188.0,321.9 L1188.5,321.8 L1189.0,321.8 L1189.5,321.7 L1190.0,321.7 L1190.5,321.7 L1191.0,321.6 L1191.5,321.6 L1192.0,321.5 L1192.5,321.5 L1193.0,321.5 L1193.5,321.4 L1194.0,321.4 L1194.5,321.3 L1195.0,321.3 L1195.5,321.3 L1196.0,321.2 L1196.5,321.2 L1197.0,321.1 L1197.5,321.1 L1198.0,321.1 L1198.5,321.0 L1199.0,321.0 L1199.5,320.9 L1200.0,320.9 L1200.5,320.9 L1201.0,320.8 L1201.5,320.8 L1202.0,320.7 L1202.5,320.7 L1203.0,320.6 L1203.5,320.6 L1204.0,320.5 L1204.5,320.4 L1205.0,320.3 L1205.5,320.3 L1206.0,320.3 L1206.5,320.2 L1207.0,320.1 L1207.5,319.9 L1208.0,319.7 L1208.5,319.4 L1209.0,319.0 L1209.5,318.5 L1210.0,317.8 L1210.5,316.9 L1211.0,315.9 L1211.5,314.6 L1212.0,313.0 L1212.5,311.0 L1213.0,308.7 L1213.5,306.0 L1214.0,302.7 L1214.5,298.9 L1215.0,294.5 L1215.5,289.5 L1216.0,283.9 L1216.5,277.6 L1217.0,270.6 L1217.5,262.9 L1218.0,254.6 L1218.5,245.8 L1219.0,236.4 L1219.5,226.6 L1220.0,216.5 L1220.5,206.3 L1221.0,196.1 L1221.5,186.0 L1222.0,176.3 L1222.5,167.1 L1223.0,158.7 L1223.5,151.1 L1224.0,144.7 L1224.5,139.4 L1225.0,135.5 L1225.5,133.0 L1226.0,131.9 L1226.5,132.2 L1227.0,133.5 L1227.5,135.8 L1228.0,138.9 L1228.5,142.9 L1229.0,147.7 L1229.5,153.3 L1230.0,159.5 L1230.5,166.3 L1231.0,173.5 L1231.5,181.2 L1232.0,189.1 L1232.5,197.2 L1233.0,205.5 L1233.5,213.7 L1234.0,221.9 L1234.5,230.0 L1235.0,237.8 L1235.5,245.4 L1236.0,252.7 L1236.5,259.6 L1237.0,266.1 L1237.5,272.2 L1238.0,277.9 L1238.5,283.2 L1239.0,288.0 L1239.5,292.4 L1240.0,296.4 L1240.5,300.0 L1241.0,303.2 L1241.5,306.0 L1242.0,308.6 L1242.5,310.8 L1243.0,312.7 L1243.5,314.4 L1244.0,315.9 L1244.5,317.1 L1245.0,318.2 L1245.5,319.1 L1246.0,319.9 L1246.5,320.5 L1247.0,321.1 L1247.5,321.6 L1248.0,321.9 L1248.5,322.3 L1249.0,322.5 L1249.5,322.8 L1250.0,322.9 L1250.5,323.1 L1251.0,323.1 L1251.5,323.2 L1252.0,323.3 L1252.5,323.3 L1253.0,323.3 L1253.5,323.3 L1254.0,323.4 L1254.5,323.4 L1255.0,323.4 L1255.5,323.4 L1256.0,323.4 L1256.5,323.4 L1257.0,323.4 L1257.5,323.4 L1258.0,323.3 L1258.5,323.3 L1259.0,323.3 L1259.5,323.3 L1260.0,323.3 L1260.5,323.3 L1261.0,323.3 L1261.5,323.3 L1262.0,323.3 L1262.5,323.3 L1263.0,323.3 L1263.5,323.2 L1264.0,323.2 L1264.5,323.2 L1265.0,323.2 L1265.5,323.2 L1266.0,323.2 L1266.5,323.2 L1267.0,323.2 L1267.5,323.2 L1268.0,323.2 L1268.5,323.2 L1269.0,323.1 L1269.5,323.1 L1270.0,323.1 L1270.5,323.1 L1271.0,323.1 L1271.5,323.1 L1272.0,323.1 L1272.5,323.1 L1273.0,323.1 L1273.5,323.1 L1274.0,323.0 L1274.5,323.0 L1275.0,323.0 L1275.5,323.0 L1276.0,323.0 L1276.5,323.0 L1277.0,323.0 L1277.5,323.0 L1278.0,323.0 L1278.5,323.0 L1279.0,323.0 L1279.5,322.9 L1280.0,322.9 L1280.5,322.9 L1281.0,322.9 L1281.5,322.9 L1282.0,322.9 L1282.5,322.9 L1283.0,322.9 L1283.5,322.9 L1284.0,322.9 L1284.5,322.9 L1285.0,322.8 L1285.5,322.8 L1286.0,322.8 L1286.5,322.8 L1287.0,322.8 L1287.5,322.8 L1288.0,322.8 L1288.5,322.8 L1289.0,322.8 L1289.5,322.8 L1290.0,322.8 L1290.5,322.7 L1291.0,322.7 L1291.5,322.7 L1292.0,322.7 L1292.5,322.7 L1293.0,322.7 L1293.5,322.7 L1294.0,322.7 L1294.5,322.7 L1295.0,322.7 L1295.5,322.6 L1296.0,322.6 L1296.5,322.6 L1297.0,322.6 L1297.5,322.6 L1298.0,322.6 L1298.5,322.6 L1299.0,322.6 L1299.5,322.6 L1300.0,322.6 L1300.5,322.6 L1301.0,322.5 L1301.5,322.5 L1302.0,322.5 L1302.5,322.5 L1303.0,322.5 L1303.5,322.5 L1304.0,322.5 L1304.5,322.5 L1305.0,322.5 L1305.5,322.5 L1306.0,322.4 L1306.5,322.4 L1307.0,322.4 L1307.5,322.4 L1308.0,322.4 L1308.5,322.4 L1309.0,322.4 L1309.5,322.4 L1310.0,322.4 L1310.5,322.4 L1311.0,322.4 L1311.5,322.3 L1312.0,322.3 L1312.5,322.3 L1313.0,322.3 L1313.5,322.3 L1314.0,322.3 L1314.5,322.3 L1315.0,322.3 L1315.5,322.3 L1316.0,322.3 L1316.5,322.3 L1317.0,322.2 L1317.5,322.2 L1318.0,322.2 L1318.5,322.2 L1319.0,322.2 L1319.5,322.2 L1320.0,322.2 L1320.5,322.2 L1321.0,322.2 L1321.5,322.2 L1322.0,322.1 L1322.5,322.1 L1323.0,322.1 L1323.5,322.1 L1324.0,322.1 L1324.5,322.1 L1325.0,322.1 L1325.5,322.1 L1326.0,322.1 L1326.5,322.1 L1327.0,322.1 L1327.5,322.0 L1328.0,322.0 L1328.5,322.0 L1329.0,322.0 L1329.5,322.0 L1330.0,322.0 L1330.5,322.0 L1331.0,322.0 L1331.5,321.9 L1332.0,321.9 L1332.5,321.9 L1333.0,321.9 L1333.5,321.9 L1334.0,321.9 L1334.5,321.9 L1335.0,321.8 L1335.5,321.8 L1336.0,321.8 L1336.5,321.8 L1337.0,321.8 L1337.5,321.8 L1338.0,321.7 L1338.5,321.7 L1339.0,321.7 L1339.5,321.7 L1340.0,321.7 L1340.5,321.6 L1341.0,321.6 L1341.5,321.6 L1342.0,321.6 L1342.5,321.6 L1343.0,321.6 L1343.5,321.6 L1344.0,321.5 L1344.5,321.5 L1345.0,321.5 L1345.5,321.5 L1346.0,321.5 L1346.5,321.4 L1347.0,321.4 L1347.5,321.4 L1348.0,321.4 L1348.5,321.4 L1349.0,321.4 L1349.5,321.4 L1350.0,321.3 L1350.5,321.3 L1351.0,321.3 L1351.5,321.3 L1352.0,321.3 L1352.5,321.2 L1353.0,321.2 L1353.5,321.2 L1354.0,321.2 L1354.5,321.2 L1355.0,321.2 L1355.5,321.1 L1356.0,321.1 L1356.5,321.1 L1357.0,321.1 L1357.5,321.1 L1358.0,321.1 L1358.5,321.1 L1359.0,321.0 L1359.5,321.0 L1360.0,321.0 L1360.5,321.0 L1361.0,321.0 L1361.5,320.9 L1362.0,320.9 L1362.5,320.9 L1363.0,320.9 L1363.5,320.9 L1364.0,320.9 L1364.5,320.9 L1365.0,320.8 L1365.5,320.8 L1366.0,320.8 L1366.5,320.8 L1367.0,320.8 L1367.5,320.8 L1368.0,320.7 L1368.5,320.7 L1369.0,320.7 L1369.5,320.7 L1370.0,320.7 L1370.5,320.6 L1371.0,320.6 L1371.5,320.6 L1372.0,320.6 L1372.5,320.6 L1373.0,320.6 L1373.5,320.6 L1374.0,320.5 L1374.5,320.5 L1375.0,320.5 L1375.5,320.5 L1376.0,320.5 L1376.5,320.4 L1377.0,320.4 L1377.5,320.4 L1378.0,320.4 L1378.5,320.4 L1379.0,320.4 L1379.5,320.4 L1380.0,320.3 L1380.5,320.3 L1381.0,320.3 L1381.5,320.3 L1382.0,320.3 L1382.5,320.2 L1383.0,320.2 L1383.5,320.2 L1384.0,320.2 L1384.5,320.2 L1385.0,320.2 L1385.5,320.1 L1386.0,320.1 L1386.5,320.1 L1387.0,320.1 L1387.5,320.1 L1388.0,320.1 L1388.5,320.1 L1389.0,320.0 L1389.5,320.0 L1390.0,320.0 L1390.5,320.0 L1391.0,320.0 L1391.5,319.9 L1392.0,319.9 L1392.5,319.9 L1393.0,319.9 L1393.5,319.9 L1394.0,319.9 L1394.5,319.9 L1395.0,319.8 L1395.5,319.8 L1396.0,319.8 L1396.5,319.8 L1397.0,319.8 L1397.5,319.8 L1398.0,319.7 L1398.5,319.7 L1399.0,319.7 L1399.5,319.7 L1400.0,319.7 L1400.5,319.6 L1401.0,319.6 L1401.5,319.6 L1402.0,319.6 L1402.5,319.6 L1403.0,319.6 L1403.5,319.6 L1404.0,319.5 L1404.5,319.5 L1405.0,319.5 L1405.5,319.5 L1406.0,319.5 L1406.5,319.4 L1407.0,319.4 L1407.5,319.4 L1408.0,319.4 L1408.5,319.4 L1409.0,319.4 L1409.5,319.4 L1410.0,319.3 L1410.5,319.3 L1411.0,319.3 L1411.5,319.3 L1412.0,319.3 L1412.5,319.2 L1413.0,319.2 L1413.5,319.2 L1414.0,319.2 L1414.5,319.2 L1415.0,319.2 L1415.5,319.1 L1416.0,319.1 L1416.5,319.1 L1417.0,319.1 L1417.5,319.1 L1418.0,319.1 L1418.5,319.1 L1419.0,319.0 L1419.5,319.0 L1420.0,319.0 L1420.5,319.0 L1421.0,319.0 L1421.5,319.0 L1422.0,318.9 L1422.5,318.9 L1423.0,318.9 L1423.5,318.9 L1424.0,318.9 L1424.5,318.9 L1425.0,318.9 L1425.5,318.9 L1426.0,318.8 L1426.5,318.8 L1427.0,318.8 L1427.5,318.8 L1428.0,318.8 L1428.5,318.8 L1429.0,318.8 L1429.5,318.8 L1430.0,318.7 L1430.5,318.7 L1431.0,318.7 L1431.5,318.7 L1432.0,318.7 L1432.5,318.7 L1433.0,318.7 L1433.5,318.7 L1434.0,318.6 L1434.5,318.6 L1435.0,318.6 L1435.5,318.6 L1436.0,318.6 L1436.5,318.6 L1437.0,318.6 L1437.5,318.6 L1438.0,318.5 L1438.5,318.5 L1439.0,318.5 L1439.5,318.5 L1440.0,318.5 L1440.5,318.5 L1441.0,318.5 L1441.5,318.5 L1442.0,318.4 L1442.5,318.4 L1443.0,318.4 L1443.5,318.4 L1444.0,318.4 L1444.5,318.4 L1445.0,318.4 L1445.5,318.4 L1446.0,318.3 L1446.5,318.3 L1447.0,318.3 L1447.5,318.3 L1448.0,318.3 L1448.5,318.3 L1449.0,318.3 L1449.5,318.3 L1450.0,318.2 L1450.5,318.2 L1451.0,318.2 L1451.5,318.2 L1452.0,318.2 L1452.5,318.2 L1453.0,318.2 L1453.5,318.2 L1454.0,318.1 L1454.5,318.1 L1455.0,318.1 L1455.5,318.1 L1456.0,318.1 L1456.5,318.1 L1457.0,318.1 L1457.5,318.1 L1458.0,318.0 L1458.5,318.0 L1459.0,318.0 L1459.5,318.0 L1460.0,318.0 L1460.5,318.0 L1461.0,318.0 L1461.5,318.0 L1462.0,317.9 L1462.5,317.9 L1463.0,317.9 L1463.5,317.9 L1464.0,317.9 L1464.5,317.9 L1465.0,317.9 L1465.5,317.8 L1466.0,317.8 L1466.5,317.8 L1467.0,317.8 L1467.5,317.8 L1468.0,317.8 L1468.5,317.8 L1469.0,317.8 L1469.5,317.7 L1470.0,317.7 L1470.5,317.7 L1471.0,317.7 L1471.5,317.7 L1472.0,317.7 L1472.5,317.7 L1473.0,317.7 L1473.5,317.6 L1474.0,317.6 L1474.5,317.6 L1475.0,317.6 L1475.5,317.6 L1476.0,317.6 L1476.5,317.6 L1477.0,317.6 L1477.5,317.5 L1478.0,317.5 L1478.5,317.5 L1479.0,317.5 L1479.5,317.5 L1480.0,317.5 L1480.5,317.5 L1481.0,317.5 L1481.5,317.4 L1482.0,317.4 L1482.5,317.4 L1483.0,317.4 L1483.5,317.4 L1484.0,317.4 L1484.5,317.4 L1485.0,317.4 L1485.5,317.3 L1486.0,317.3 L1486.5,317.3 L1487.0,317.3 L1487.5,317.3 L1488.0,317.3 L1488.5,317.3 L1489.0,317.3 L1489.5,317.2 L1490.0,317.2 L1490.5,317.2 L1491.0,317.2 L1491.5,317.2 L1492.0,317.2 L1492.5,317.2 L1493.0,317.2 L1493.5,317.1 L1494.0,317.1 L1494.5,317.1 L1495.0,317.1 L1495.5,317.1 L1496.0,317.1 L1496.5,317.1 L1497.0,317.1 L1497.5,317.0 L1498.0,317.0 L1498.5,317.0 L1499.0,317.0 L1499.5,317.0 L1500.0,317.0 L1500.5,317.0 L1501.0,317.0 L1501.5,316.9 L1502.0,316.9 L1502.5,316.9 L1503.0,316.9 L1503.5,316.9 L1504.0,316.9 L1504.5,316.9 L1505.0,316.9 L1505.5,316.8 L1506.0,316.8 L1506.5,316.8 L1507.0,316.8 L1507.0,652 L1105.0,652 Z" fill="#fff" stroke="none"/>
<path d="M1105.0,324.5 L1105.5,324.5 L1106.0,324.5 L1106.5,324.5 L1107.0,324.4 L1107.5,324.4 L1108.0,324.4 L1108.5,324.4 L1109.0,324.4 L1109.5,324.4 L1110.0,324.4 L1110.5,324.4 L1111.0,324.3 L1111.5,324.3 L1112.0,324.3 L1112.5,324.3 L1113.0,324.3 L1113.5,324.3 L1114.0,324.3 L1114.5,324.2 L1115.0,324.2 L1115.5,324.2 L1116.0,324.2 L1116.5,324.2 L1117.0,324.2 L1117.5,324.2 L1118.0,324.2 L1118.5,324.1 L1119.0,324.1 L1119.5,324.1 L1120.0,324.1 L1120.5,324.1 L1121.0,324.1 L1121.5,324.1 L1122.0,324.0 L1122.5,324.0 L1123.0,324.0 L1123.5,324.0 L1124.0,324.0 L1124.5,324.0 L1125.0,324.0 L1125.5,324.0 L1126.0,323.9 L1126.5,323.9 L1127.0,323.9 L1127.5,323.9 L1128.0,323.9 L1128.5,323.9 L1129.0,323.9 L1129.5,323.8 L1130.0,323.8 L1130.5,323.8 L1131.0,323.8 L1131.5,323.8 L1132.0,323.8 L1132.5,323.8 L1133.0,323.8 L1133.5,323.7 L1134.0,323.7 L1134.5,323.7 L1135.0,323.7 L1135.5,323.7 L1136.0,323.7 L1136.5,323.7 L1137.0,323.6 L1137.5,323.6 L1138.0,323.6 L1138.5,323.6 L1139.0,323.6 L1139.5,323.6 L1140.0,323.6 L1140.5,323.6 L1141.0,323.5 L1141.5,323.5 L1142.0,323.5 L1142.5,323.5 L1143.0,323.5 L1143.5,323.5 L1144.0,323.5 L1144.5,323.4 L1145.0,323.4 L1145.5,323.4 L1146.0,323.4 L1146.5,323.4 L1147.0,323.4 L1147.5,323.4 L1148.0,323.4 L1148.5,323.3 L1149.0,323.3 L1149.5,323.3 L1150.0,323.3 L1150.5,323.3 L1151.0,323.3 L1151.5,323.3 L1152.0,323.2 L1152.5,323.2 L1153.0,323.2 L1153.5,323.2 L1154.0,323.2 L1154.5,323.2 L1155.0,323.2 L1155.5,323.2 L1156.0,323.1 L1156.5,323.1 L1157.0,323.1 L1157.5,323.1 L1158.0,323.1 L1158.5,323.1 L1159.0,323.1 L1159.5,323.0 L1160.0,323.0 L1160.5,323.0 L1161.0,323.0 L1161.5,323.0 L1162.0,323.0 L1162.5,323.0 L1163.0,323.0 L1163.5,322.9 L1164.0,322.9 L1164.5,322.9 L1165.0,322.9 L1165.5,322.9 L1166.0,322.9 L1166.5,322.9 L1167.0,322.8 L1167.5,322.8 L1168.0,322.8 L1168.5,322.8 L1169.0,322.8 L1169.5,322.8 L1170.0,322.8 L1170.5,322.8 L1171.0,322.7 L1171.5,322.7 L1172.0,322.7 L1172.5,322.7 L1173.0,322.7 L1173.5,322.7 L1174.0,322.7 L1174.5,322.6 L1175.0,322.6 L1175.5,322.6 L1176.0,322.6 L1176.5,322.6 L1177.0,322.6 L1177.5,322.6 L1178.0,322.6 L1178.5,322.5 L1179.0,322.5 L1179.5,322.5 L1180.0,322.5 L1180.5,322.5 L1181.0,322.4 L1181.5,322.4 L1182.0,322.3 L1182.5,322.3 L1183.0,322.3 L1183.5,322.2 L1184.0,322.2 L1184.5,322.1 L1185.0,322.1 L1185.5,322.1 L1186.0,322.0 L1186.5,322.0 L1187.0,321.9 L1187.5,321.9 L1188.0,321.9 L1188.5,321.8 L1189.0,321.8 L1189.5,321.7 L1190.0,321.7 L1190.5,321.7 L1191.0,321.6 L1191.5,321.6 L1192.0,321.5 L1192.5,321.5 L1193.0,321.5 L1193.5,321.4 L1194.0,321.4 L1194.5,321.3 L1195.0,321.3 L1195.5,321.3 L1196.0,321.2 L1196.5,321.2 L1197.0,321.1 L1197.5,321.1 L1198.0,321.1 L1198.5,321.0 L1199.0,321.0 L1199.5,320.9 L1200.0,320.9 L1200.5,320.9 L1201.0,320.8 L1201.5,320.8 L1202.0,320.7 L1202.5,320.7 L1203.0,320.6 L1203.5,320.6 L1204.0,320.5 L1204.5,320.4 L1205.0,320.3 L1205.5,320.3 L1206.0,320.3 L1206.5,320.2 L1207.0,320.1 L1207.5,319.9 L1208.0,319.7 L1208.5,319.4 L1209.0,319.0 L1209.5,318.5 L1210.0,317.8 L1210.5,316.9 L1211.0,315.9 L1211.5,314.6 L1212.0,313.0 L1212.5,311.0 L1213.0,308.7 L1213.5,306.0 L1214.0,302.7 L1214.5,298.9 L1215.0,294.5 L1215.5,289.5 L1216.0,283.9 L1216.5,277.6 L1217.0,270.6 L1217.5,262.9 L1218.0,254.6 L1218.5,245.8 L1219.0,236.4 L1219.5,226.6 L1220.0,216.5 L1220.5,206.3 L1221.0,196.1 L1221.5,186.0 L1222.0,176.3 L1222.5,167.1 L1223.0,158.7 L1223.5,151.1 L1224.0,144.7 L1224.5,139.4 L1225.0,135.5 L1225.5,133.0 L1226.0,131.9 L1226.5,132.2 L1227.0,133.5 L1227.5,135.8 L1228.0,138.9 L1228.5,142.9 L1229.0,147.7 L1229.5,153.3 L1230.0,159.5 L1230.5,166.3 L1231.0,173.5 L1231.5,181.2 L1232.0,189.1 L1232.5,197.2 L1233.0,205.5 L1233.5,213.7 L1234.0,221.9 L1234.5,230.0 L1235.0,237.8 L1235.5,245.4 L1236.0,252.7 L1236.5,259.6 L1237.0,266.1 L1237.5,272.2 L1238.0,277.9 L1238.5,283.2 L1239.0,288.0 L1239.5,292.4 L1240.0,296.4 L1240.5,300.0 L1241.0,303.2 L1241.5,306.0 L1242.0,308.6 L1242.5,310.8 L1243.0,312.7 L1243.5,314.4 L1244.0,315.9 L1244.5,317.1 L1245.0,318.2 L1245.5,319.1 L1246.0,319.9 L1246.5,320.5 L1247.0,321.1 L1247.5,321.6 L1248.0,321.9 L1248.5,322.3 L1249.0,322.5 L1249.5,322.8 L1250.0,322.9 L1250.5,323.1 L1251.0,323.1 L1251.5,323.2 L1252.0,323.3 L1252.5,323.3 L1253.0,323.3 L1253.5,323.3 L1254.0,323.4 L1254.5,323.4 L1255.0,323.4 L1255.5,323.4 L1256.0,323.4 L1256.5,323.4 L1257.0,323.4 L1257.5,323.4 L1258.0,323.3 L1258.5,323.3 L1259.0,323.3 L1259.5,323.3 L1260.0,323.3 L1260.5,323.3 L1261.0,323.3 L1261.5,323.3 L1262.0,323.3 L1262.5,323.3 L1263.0,323.3 L1263.5,323.2 L1264.0,323.2 L1264.5,323.2 L1265.0,323.2 L1265.5,323.2 L1266.0,323.2 L1266.5,323.2 L1267.0,323.2 L1267.5,323.2 L1268.0,323.2 L1268.5,323.2 L1269.0,323.1 L1269.5,323.1 L1270.0,323.1 L1270.5,323.1 L1271.0,323.1 L1271.5,323.1 L1272.0,323.1 L1272.5,323.1 L1273.0,323.1 L1273.5,323.1 L1274.0,323.0 L1274.5,323.0 L1275.0,323.0 L1275.5,323.0 L1276.0,323.0 L1276.5,323.0 L1277.0,323.0 L1277.5,323.0 L1278.0,323.0 L1278.5,323.0 L1279.0,323.0 L1279.5,322.9 L1280.0,322.9 L1280.5,322.9 L1281.0,322.9 L1281.5,322.9 L1282.0,322.9 L1282.5,322.9 L1283.0,322.9 L1283.5,322.9 L1284.0,322.9 L1284.5,322.9 L1285.0,322.8 L1285.5,322.8 L1286.0,322.8 L1286.5,322.8 L1287.0,322.8 L1287.5,322.8 L1288.0,322.8 L1288.5,322.8 L1289.0,322.8 L1289.5,322.8 L1290.0,322.8 L1290.5,322.7 L1291.0,322.7 L1291.5,322.7 L1292.0,322.7 L1292.5,322.7 L1293.0,322.7 L1293.5,322.7 L1294.0,322.7 L1294.5,322.7 L1295.0,322.7 L1295.5,322.6 L1296.0,322.6 L1296.5,322.6 L1297.0,322.6 L1297.5,322.6 L1298.0,322.6 L1298.5,322.6 L1299.0,322.6 L1299.5,322.6 L1300.0,322.6 L1300.5,322.6 L1301.0,322.5 L1301.5,322.5 L1302.0,322.5 L1302.5,322.5 L1303.0,322.5 L1303.5,322.5 L1304.0,322.5 L1304.5,322.5 L1305.0,322.5 L1305.5,322.5 L1306.0,322.4 L1306.5,322.4 L1307.0,322.4 L1307.5,322.4 L1308.0,322.4 L1308.5,322.4 L1309.0,322.4 L1309.5,322.4 L1310.0,322.4 L1310.5,322.4 L1311.0,322.4 L1311.5,322.3 L1312.0,322.3 L1312.5,322.3 L1313.0,322.3 L1313.5,322.3 L1314.0,322.3 L1314.5,322.3 L1315.0,322.3 L1315.5,322.3 L1316.0,322.3 L1316.5,322.3 L1317.0,322.2 L1317.5,322.2 L1318.0,322.2 L1318.5,322.2 L1319.0,322.2 L1319.5,322.2 L1320.0,322.2 L1320.5,322.2 L1321.0,322.2 L1321.5,322.2 L1322.0,322.1 L1322.5,322.1 L1323.0,322.1 L1323.5,322.1 L1324.0,322.1 L1324.5,322.1 L1325.0,322.1 L1325.5,322.1 L1326.0,322.1 L1326.5,322.1 L1327.0,322.1 L1327.5,322.0 L1328.0,322.0 L1328.5,322.0 L1329.0,322.0 L1329.5,322.0 L1330.0,322.0 L1330.5,322.0 L1331.0,322.0 L1331.5,321.9 L1332.0,321.9 L1332.5,321.9 L1333.0,321.9 L1333.5,321.9 L1334.0,321.9 L1334.5,321.9 L1335.0,321.8 L1335.5,321.8 L1336.0,321.8 L1336.5,321.8 L1337.0,321.8 L1337.5,321.8 L1338.0,321.7 L1338.5,321.7 L1339.0,321.7 L1339.5,321.7 L1340.0,321.7 L1340.5,321.6 L1341.0,321.6 L1341.5,321.6 L1342.0,321.6 L1342.5,321.6 L1343.0,321.6 L1343.5,321.6 L1344.0,321.5 L1344.5,321.5 L1345.0,321.5 L1345.5,321.5 L1346.0,321.5 L1346.5,321.4 L1347.0,321.4 L1347.5,321.4 L1348.0,321.4 L1348.5,321.4 L1349.0,321.4 L1349.5,321.4 L1350.0,321.3 L1350.5,321.3 L1351.0,321.3 L1351.5,321.3 L1352.0,321.3 L1352.5,321.2 L1353.0,321.2 L1353.5,321.2 L1354.0,321.2 L1354.5,321.2 L1355.0,321.2 L1355.5,321.1 L1356.0,321.1 L1356.5,321.1 L1357.0,321.1 L1357.5,321.1 L1358.0,321.1 L1358.5,321.1 L1359.0,321.0 L1359.5,321.0 L1360.0,321.0 L1360.5,321.0 L1361.0,321.0 L1361.5,320.9 L1362.0,320.9 L1362.5,320.9 L1363.0,320.9 L1363.5,320.9 L1364.0,320.9 L1364.5,320.9 L1365.0,320.8 L1365.5,320.8 L1366.0,320.8 L1366.5,320.8 L1367.0,320.8 L1367.5,320.8 L1368.0,320.7 L1368.5,320.7 L1369.0,320.7 L1369.5,320.7 L1370.0,320.7 L1370.5,320.6 L1371.0,320.6 L1371.5,320.6 L1372.0,320.6 L1372.5,320.6 L1373.0,320.6 L1373.5,320.6 L1374.0,320.5 L1374.5,320.5 L1375.0,320.5 L1375.5,320.5 L1376.0,320.5 L1376.5,320.4 L1377.0,320.4 L1377.5,320.4 L1378.0,320.4 L1378.5,320.4 L1379.0,320.4 L1379.5,320.4 L1380.0,320.3 L1380.5,320.3 L1381.0,320.3 L1381.5,320.3 L1382.0,320.3 L1382.5,320.2 L1383.0,320.2 L1383.5,320.2 L1384.0,320.2 L1384.5,320.2 L1385.0,320.2 L1385.5,320.1 L1386.0,320.1 L1386.5,320.1 L1387.0,320.1 L1387.5,320.1 L1388.0,320.1 L1388.5,320.1 L1389.0,320.0 L1389.5,320.0 L1390.0,320.0 L1390.5,320.0 L1391.0,320.0 L1391.5,319.9 L1392.0,319.9 L1392.5,319.9 L1393.0,319.9 L1393.5,319.9 L1394.0,319.9 L1394.5,319.9 L1395.0,319.8 L1395.5,319.8 L1396.0,319.8 L1396.5,319.8 L1397.0,319.8 L1397.5,319.8 L1398.0,319.7 L1398.5,319.7 L1399.0,319.7 L1399.5,319.7 L1400.0,319.7 L1400.5,319.6 L1401.0,319.6 L1401.5,319.6 L1402.0,319.6 L1402.5,319.6 L1403.0,319.6 L1403.5,319.6 L1404.0,319.5 L1404.5,319.5 L1405.0,319.5 L1405.5,319.5 L1406.0,319.5 L1406.5,319.4 L1407.0,319.4 L1407.5,319.4 L1408.0,319.4 L1408.5,319.4 L1409.0,319.4 L1409.5,319.4 L1410.0,319.3 L1410.5,319.3 L1411.0,319.3 L1411.5,319.3 L1412.0,319.3 L1412.5,319.2 L1413.0,319.2 L1413.5,319.2 L1414.0,319.2 L1414.5,319.2 L1415.0,319.2 L1415.5,319.1 L1416.0,319.1 L1416.5,319.1 L1417.0,319.1 L1417.5,319.1 L1418.0,319.1 L1418.5,319.1 L1419.0,319.0 L1419.5,319.0 L1420.0,319.0 L1420.5,319.0 L1421.0,319.0 L1421.5,319.0 L1422.0,318.9 L1422.5,318.9 L1423.0,318.9 L1423.5,318.9 L1424.0,318.9 L1424.5,318.9 L1425.0,318.9 L1425.5,318.9 L1426.0,318.8 L1426.5,318.8 L1427.0,318.8 L1427.5,318.8 L1428.0,318.8 L1428.5,318.8 L1429.0,318.8 L1429.5,318.8 L1430.0,318.7 L1430.5,318.7 L1431.0,318.7 L1431.5,318.7 L1432.0,318.7 L1432.5,318.7 L1433.0,318.7 L1433.5,318.7 L1434.0,318.6 L1434.5,318.6 L1435.0,318.6 L1435.5,318.6 L1436.0,318.6 L1436.5,318.6 L1437.0,318.6 L1437.5,318.6 L1438.0,318.5 L1438.5,318.5 L1439.0,318.5 L1439.5,318.5 L1440.0,318.5 L1440.5,318.5 L1441.0,318.5 L1441.5,318.5 L1442.0,318.4 L1442.5,318.4 L1443.0,318.4 L1443.5,318.4 L1444.0,318.4 L1444.5,318.4 L1445.0,318.4 L1445.5,318.4 L1446.0,318.3 L1446.5,318.3 L1447.0,318.3 L1447.5,318.3 L1448.0,318.3 L1448.5,318.3 L1449.0,318.3 L1449.5,318.3 L1450.0,318.2 L1450.5,318.2 L1451.0,318.2 L1451.5,318.2 L1452.0,318.2 L1452.5,318.2 L1453.0,318.2 L1453.5,318.2 L1454.0,318.1 L1454.5,318.1 L1455.0,318.1 L1455.5,318.1 L1456.0,318.1 L1456.5,318.1 L1457.0,318.1 L1457.5,318.1 L1458.0,318.0 L1458.5,318.0 L1459.0,318.0 L1459.5,318.0 L1460.0,318.0 L1460.5,318.0 L1461.0,318.0 L1461.5,318.0 L1462.0,317.9 L1462.5,317.9 L1463.0,317.9 L1463.5,317.9 L1464.0,317.9 L1464.5,317.9 L1465.0,317.9 L1465.5,317.8 L1466.0,317.8 L1466.5,317.8 L1467.0,317.8 L1467.5,317.8 L1468.0,317.8 L1468.5,317.8 L1469.0,317.8 L1469.5,317.7 L1470.0,317.7 L1470.5,317.7 L1471.0,317.7 L1471.5,317.7 L1472.0,317.7 L1472.5,317.7 L1473.0,317.7 L1473.5,317.6 L1474.0,317.6 L1474.5,317.6 L1475.0,317.6 L1475.5,317.6 L1476.0,317.6 L1476.5,317.6 L1477.0,317.6 L1477.5,317.5 L1478.0,317.5 L1478.5,317.5 L1479.0,317.5 L1479.5,317.5 L1480.0,317.5 L1480.5,317.5 L1481.0,317.5 L1481.5,317.4 L1482.0,317.4 L1482.5,317.4 L1483.0,317.4 L1483.5,317.4 L1484.0,317.4 L1484.5,317.4 L1485.0,317.4 L1485.5,317.3 L1486.0,317.3 L1486.5,317.3 L1487.0,317.3 L1487.5,317.3 L1488.0,317.3 L1488.5,317.3 L1489.0,317.3 L1489.5,317.2 L1490.0,317.2 L1490.5,317.2 L1491.0,317.2 L1491.5,317.2 L1492.0,317.2 L1492.5,317.2 L1493.0,317.2 L1493.5,317.1 L1494.0,317.1 L1494.5,317.1 L1495.0,317.1 L1495.5,317.1 L1496.0,317.1 L1496.5,317.1 L1497.0,317.1 L1497.5,317.0 L1498.0,317.0 L1498.5,317.0 L1499.0,317.0 L1499.5,317.0 L1500.0,317.0 L1500.5,317.0 L1501.0,317.0 L1501.5,316.9 L1502.0,316.9 L1502.5,316.9 L1503.0,316.9 L1503.5,316.9 L1504.0,316.9 L1504.5,316.9 L1505.0,316.9 L1505.5,316.8 L1506.0,316.8 L1506.5,316.8 L1507.0,316.8" fill="none" stroke="#3c3aa6" stroke-width="2.5" stroke-linejoin="round"/>
<path d="M1084.0,384.5 L1084.5,384.6 L1085.0,384.8 L1085.5,384.9 L1086.0,385.0 L1086.5,385.1 L1087.0,385.2 L1087.5,385.4 L1088.0,385.5 L1088.5,385.6 L1089.0,385.8 L1089.5,385.9 L1090.0,386.0 L1090.5,386.5 L1091.0,387.0 L1091.5,387.5 L1092.0,388.0 L1092.5,388.5 L1093.0,389.0 L1093.5,389.5 L1094.0,390.0 L1094.5,390.5 L1095.0,391.0 L1095.5,391.5 L1096.0,392.0 L1096.5,392.5 L1097.0,393.0 L1097.5,393.2 L1098.0,393.5 L1098.5,393.8 L1099.0,394.0 L1099.5,394.2 L1100.0,394.5 L1100.5,394.8 L1101.0,395.0 L1101.5,395.2 L1102.0,395.5 L1102.5,395.8 L1103.0,396.0 L1103.5,396.2 L1104.0,396.5 L1104.5,396.5 L1105.0,396.5 L1105.5,396.5 L1106.0,396.5 L1106.5,396.5 L1107.0,396.5 L1107.5,396.5 L1108.0,396.5 L1108.5,396.4 L1109.0,396.4 L1109.5,396.4 L1110.0,396.4 L1110.5,396.4 L1111.0,396.4 L1111.5,396.4 L1112.0,396.4 L1112.5,396.4 L1113.0,396.4 L1113.5,396.4 L1114.0,396.4 L1114.5,396.4 L1115.0,396.4 L1115.5,396.4 L1116.0,396.4 L1116.5,396.3 L1117.0,396.3 L1117.5,396.3 L1118.0,396.3 L1118.5,396.3 L1119.0,396.3 L1119.5,396.3 L1120.0,396.3 L1120.5,396.3 L1121.0,396.3 L1121.5,396.3 L1122.0,396.3 L1122.5,396.3 L1123.0,396.3 L1123.5,396.3 L1124.0,396.3 L1124.5,396.2 L1125.0,396.2 L1125.5,396.2 L1126.0,396.2 L1126.5,396.2 L1127.0,396.2 L1127.5,396.2 L1128.0,396.2 L1128.5,396.2 L1129.0,396.2 L1129.5,396.2 L1130.0,396.2 L1130.5,396.2 L1131.0,396.2 L1131.5,396.2 L1132.0,396.2 L1132.5,396.2 L1133.0,396.1 L1133.5,396.1 L1134.0,396.1 L1134.5,396.1 L1135.0,396.1 L1135.5,396.1 L1136.0,396.1 L1136.5,396.1 L1137.0,396.1 L1137.5,396.1 L1138.0,396.1 L1138.5,396.1 L1139.0,396.1 L1139.5,396.1 L1140.0,396.1 L1140.5,396.1 L1141.0,396.0 L1141.5,396.0 L1142.0,396.0 L1142.5,396.0 L1143.0,396.0 L1143.5,396.0 L1144.0,396.0 L1144.5,396.0 L1145.0,396.0 L1145.5,395.9 L1146.0,395.9 L1146.5,395.8 L1147.0,395.8 L1147.5,395.7 L1148.0,395.7 L1148.5,395.6 L1149.0,395.6 L1149.5,395.5 L1150.0,395.5 L1150.5,395.4 L1151.0,395.4 L1151.5,395.3 L1152.0,395.3 L1152.5,395.2 L1153.0,395.2 L1153.5,395.1 L1154.0,395.1 L1154.5,395.0 L1155.0,395.0 L1155.5,394.9 L1156.0,394.9 L1156.5,394.8 L1157.0,394.8 L1157.5,394.7 L1158.0,394.7 L1158.5,394.6 L1159.0,394.6 L1159.5,394.5 L1160.0,394.4 L1160.5,394.3 L1161.0,394.2 L1161.5,394.0 L1162.0,393.8 L1162.5,393.6 L1163.0,393.3 L1163.5,393.0 L1164.0,392.6 L1164.5,392.2 L1165.0,391.8 L1165.5,391.3 L1166.0,390.9 L1166.5,390.6 L1167.0,390.3 L1167.5,390.1 L1168.0,390.0 L1168.5,390.0 L1169.0,390.2 L1169.5,390.4 L1170.0,390.7 L1170.5,391.0 L1171.0,391.4 L1171.5,391.8 L1172.0,392.1 L1172.5,392.5 L1173.0,392.7 L1173.5,392.9 L1174.0,393.1 L1174.5,393.2 L1175.0,393.3 L1175.5,393.4 L1176.0,393.4 L1176.5,393.4 L1177.0,393.4 L1177.5,393.4 L1178.0,393.4 L1178.5,393.4 L1179.0,393.4 L1179.5,393.3 L1180.0,393.3 L1180.5,393.3 L1181.0,393.2 L1181.5,393.2 L1182.0,393.2 L1182.5,393.1 L1183.0,393.1 L1183.5,393.1 L1184.0,393.1 L1184.5,393.0 L1185.0,393.0 L1185.5,393.0 L1186.0,393.0 L1186.5,393.0 L1187.0,393.0 L1187.5,393.0 L1188.0,393.0 L1188.5,393.0 L1189.0,392.9 L1189.5,392.9 L1190.0,392.9 L1190.5,392.9 L1191.0,392.9 L1191.5,392.9 L1192.0,392.9 L1192.5,392.9 L1193.0,392.9 L1193.5,392.9 L1194.0,392.9 L1194.5,392.9 L1195.0,392.9 L1195.5,392.9 L1196.0,392.9 L1196.5,392.9 L1197.0,392.8 L1197.5,392.8 L1198.0,392.8 L1198.5,392.8 L1199.0,392.8 L1199.5,392.8 L1200.0,392.8 L1200.5,392.8 L1201.0,392.8 L1201.5,392.8 L1202.0,392.8 L1202.5,392.8 L1203.0,392.8 L1203.5,392.8 L1204.0,392.8 L1204.5,392.7 L1205.0,392.7 L1205.5,392.7 L1206.0,392.7 L1206.5,392.7 L1207.0,392.7 L1207.5,392.7 L1208.0,392.7 L1208.5,392.7 L1209.0,392.7 L1209.5,392.7 L1210.0,392.7 L1210.5,392.7 L1211.0,392.7 L1211.5,392.7 L1212.0,392.6 L1212.5,392.6 L1213.0,392.6 L1213.5,392.6 L1214.0,392.6 L1214.5,392.6 L1215.0,392.6 L1215.5,392.6 L1216.0,392.6 L1216.5,392.6 L1217.0,392.6 L1217.5,392.6 L1218.0,392.6 L1218.5,392.6 L1219.0,392.6 L1219.5,392.6 L1220.0,392.5 L1220.5,392.5 L1221.0,392.5 L1221.5,392.5 L1222.0,392.5 L1222.5,392.5 L1223.0,392.5 L1223.5,392.5 L1224.0,392.5 L1224.5,392.5 L1225.0,392.5 L1225.5,392.5 L1226.0,392.5 L1226.5,392.5 L1227.0,392.5 L1227.5,392.4 L1228.0,392.4 L1228.5,392.4 L1229.0,392.4 L1229.5,392.4 L1230.0,392.4 L1230.5,392.4 L1231.0,392.4 L1231.5,392.4 L1232.0,392.4 L1232.5,392.4 L1233.0,392.4 L1233.5,392.4 L1234.0,392.4 L1234.5,392.4 L1235.0,392.3 L1235.5,392.3 L1236.0,392.3 L1236.5,392.3 L1237.0,392.3 L1237.5,392.3 L1238.0,392.3 L1238.5,392.3 L1239.0,392.3 L1239.5,392.3 L1240.0,392.3 L1240.5,392.3 L1241.0,392.3 L1241.5,392.3 L1242.0,392.3 L1242.5,392.2 L1243.0,392.2 L1243.5,392.2 L1244.0,392.2 L1244.5,392.2 L1245.0,392.2 L1245.5,392.2 L1246.0,392.2 L1246.5,392.2 L1247.0,392.2 L1247.5,392.2 L1248.0,392.2 L1248.5,392.2 L1249.0,392.2 L1249.5,392.2 L1250.0,392.2 L1250.5,392.1 L1251.0,392.1 L1251.5,392.1 L1252.0,392.1 L1252.5,392.1 L1253.0,392.1 L1253.5,392.1 L1254.0,392.1 L1254.5,392.1 L1255.0,392.1 L1255.5,392.1 L1256.0,392.1 L1256.5,392.1 L1257.0,392.1 L1257.5,392.1 L1258.0,392.0 L1258.5,392.0 L1259.0,392.0 L1259.5,392.0 L1260.0,392.0 L1260.5,392.0 L1261.0,392.0 L1261.5,392.0 L1262.0,392.0 L1262.5,392.0 L1263.0,392.0 L1263.5,392.0 L1264.0,392.0 L1264.5,392.0 L1265.0,392.0 L1265.5,391.9 L1266.0,391.9 L1266.5,391.9 L1267.0,391.9 L1267.5,391.9 L1268.0,391.9 L1268.5,391.9 L1269.0,391.9 L1269.5,391.9 L1270.0,391.9 L1270.5,391.9 L1271.0,391.9 L1271.5,391.9 L1272.0,391.9 L1272.5,391.9 L1273.0,391.9 L1273.5,391.8 L1274.0,391.8 L1274.5,391.8 L1275.0,391.8 L1275.5,391.8 L1276.0,391.8 L1276.5,391.8 L1277.0,391.8 L1277.5,391.8 L1278.0,391.8 L1278.5,391.8 L1279.0,391.8 L1279.5,391.8 L1280.0,391.8 L1280.5,391.8 L1281.0,391.7 L1281.5,391.7 L1282.0,391.7 L1282.5,391.7 L1283.0,391.7 L1283.5,391.7 L1284.0,391.7 L1284.5,391.7 L1285.0,391.7 L1285.5,391.7 L1286.0,391.7 L1286.5,391.7 L1287.0,391.7 L1287.5,391.7 L1288.0,391.7 L1288.5,391.6 L1289.0,391.6 L1289.5,391.6 L1290.0,391.6 L1290.5,391.6 L1291.0,391.6 L1291.5,391.6 L1292.0,391.6 L1292.5,391.6 L1293.0,391.6 L1293.5,391.6 L1294.0,391.6 L1294.5,391.6 L1295.0,391.6 L1295.5,391.6 L1296.0,391.5 L1296.5,391.5 L1297.0,391.5 L1297.5,391.5 L1298.0,391.5 L1298.5,391.4 L1299.0,391.4 L1299.5,391.3 L1300.0,391.2 L1300.5,391.1 L1301.0,390.9 L1301.5,390.6 L1302.0,390.3 L1302.5,389.9 L1303.0,389.3 L1303.5,388.5 L1304.0,387.5 L1304.5,386.3 L1305.0,384.7 L1305.5,382.7 L1306.0,380.2 L1306.5,377.2 L1307.0,373.5 L1307.5,369.1 L1308.0,363.9 L1308.5,357.8 L1309.0,350.7 L1309.5,342.7 L1310.0,333.6 L1310.5,323.6 L1311.0,312.6 L1311.5,300.6 L1312.0,288.0 L1312.5,274.7 L1313.0,261.0 L1313.5,247.2 L1314.0,233.5 L1314.5,220.1 L1315.0,207.6 L1315.5,196.0 L1316.0,185.8 L1316.5,177.2 L1317.0,170.4 L1317.5,165.7 L1318.0,163.2 L1318.5,162.9 L1319.0,164.1 L1319.5,166.6 L1320.0,170.4 L1320.5,175.4 L1321.0,181.6 L1321.5,188.7 L1322.0,196.8 L1322.5,205.6 L1323.0,215.1 L1323.5,225.1 L1324.0,235.4 L1324.5,245.9 L1325.0,256.5 L1325.5,267.1 L1326.0,277.5 L1326.5,287.6 L1327.0,297.4 L1327.5,306.7 L1328.0,315.6 L1328.5,323.9 L1329.0,331.6 L1329.5,338.7 L1330.0,345.3 L1330.5,351.2 L1331.0,356.5 L1331.5,361.3 L1332.0,365.6 L1332.5,369.3 L1333.0,372.6 L1333.5,375.4 L1334.0,377.9 L1334.5,380.0 L1335.0,381.8 L1335.5,383.3 L1336.0,384.6 L1336.5,385.6 L1337.0,386.5 L1337.5,387.2 L1338.0,387.8 L1338.5,388.2 L1339.0,388.6 L1339.5,388.9 L1340.0,389.1 L1340.5,389.3 L1341.0,389.5 L1341.5,389.6 L1342.0,389.7 L1342.5,389.7 L1343.0,389.8 L1343.5,389.8 L1344.0,389.8 L1344.5,389.8 L1345.0,389.8 L1345.5,389.8 L1346.0,389.8 L1346.5,389.8 L1347.0,389.8 L1347.5,389.8 L1348.0,389.8 L1348.5,389.8 L1349.0,389.8 L1349.5,389.8 L1350.0,389.8 L1350.5,389.8 L1351.0,389.8 L1351.5,389.8 L1352.0,389.7 L1352.5,389.7 L1353.0,389.7 L1353.5,389.7 L1354.0,389.7 L1354.5,389.7 L1355.0,389.7 L1355.5,389.7 L1356.0,389.7 L1356.5,389.6 L1357.0,389.6 L1357.5,389.6 L1358.0,389.6 L1358.5,389.6 L1359.0,389.6 L1359.5,389.6 L1360.0,389.6 L1360.5,389.6 L1361.0,389.6 L1361.5,389.5 L1362.0,389.5 L1362.5,389.5 L1363.0,389.5 L1363.5,389.5 L1364.0,389.5 L1364.5,389.5 L1365.0,389.5 L1365.5,389.5 L1366.0,389.4 L1366.5,389.4 L1367.0,389.4 L1367.5,389.4 L1368.0,389.4 L1368.5,389.4 L1369.0,389.4 L1369.5,389.4 L1370.0,389.4 L1370.5,389.3 L1371.0,389.3 L1371.5,389.3 L1372.0,389.3 L1372.5,389.3 L1373.0,389.3 L1373.5,389.3 L1374.0,389.3 L1374.5,389.3 L1375.0,389.3 L1375.5,389.2 L1376.0,389.2 L1376.5,389.2 L1377.0,389.2 L1377.5,389.2 L1378.0,389.2 L1378.5,389.2 L1379.0,389.2 L1379.5,389.2 L1380.0,389.1 L1380.5,389.1 L1381.0,389.1 L1381.5,389.1 L1382.0,389.1 L1382.5,389.1 L1383.0,389.1 L1383.5,389.1 L1384.0,389.1 L1384.5,389.0 L1385.0,389.0 L1385.5,389.0 L1386.0,389.0 L1386.5,389.0 L1387.0,389.0 L1387.5,389.0 L1388.0,389.0 L1388.5,389.0 L1389.0,389.0 L1389.5,388.9 L1390.0,388.9 L1390.5,388.9 L1391.0,388.9 L1391.5,388.9 L1392.0,388.9 L1392.5,388.9 L1393.0,388.9 L1393.5,388.9 L1394.0,388.8 L1394.5,388.8 L1395.0,388.8 L1395.5,388.8 L1396.0,388.8 L1396.5,388.8 L1397.0,388.8 L1397.5,388.8 L1398.0,388.8 L1398.5,388.7 L1399.0,388.7 L1399.5,388.7 L1400.0,388.7 L1400.5,388.7 L1401.0,388.7 L1401.5,388.7 L1402.0,388.7 L1402.5,388.7 L1403.0,388.7 L1403.5,388.6 L1404.0,388.6 L1404.5,388.6 L1405.0,388.6 L1405.5,388.6 L1406.0,388.6 L1406.5,388.6 L1407.0,388.6 L1407.5,388.6 L1408.0,388.5 L1408.5,388.5 L1409.0,388.5 L1409.5,388.5 L1410.0,388.5 L1410.5,388.5 L1411.0,388.5 L1411.5,388.5 L1412.0,388.5 L1412.5,388.4 L1413.0,388.4 L1413.5,388.4 L1414.0,388.4 L1414.5,388.4 L1415.0,388.4 L1415.5,388.4 L1416.0,388.4 L1416.5,388.4 L1417.0,388.4 L1417.5,388.3 L1418.0,388.3 L1418.5,388.3 L1419.0,388.3 L1419.5,388.3 L1420.0,388.3 L1420.5,388.3 L1421.0,388.3 L1421.5,388.3 L1422.0,388.2 L1422.5,388.2 L1423.0,388.2 L1423.5,388.2 L1424.0,388.2 L1424.5,388.2 L1425.0,388.2 L1425.5,388.2 L1426.0,388.2 L1426.5,388.2 L1427.0,388.1 L1427.5,388.1 L1428.0,388.1 L1428.5,388.1 L1429.0,388.1 L1429.5,388.1 L1430.0,388.1 L1430.5,388.1 L1431.0,388.1 L1431.5,388.0 L1432.0,388.0 L1432.5,388.0 L1433.0,388.0 L1433.5,388.0 L1434.0,388.0 L1434.5,388.0 L1435.0,388.0 L1435.5,388.0 L1436.0,387.9 L1436.5,387.9 L1437.0,387.9 L1437.5,387.9 L1438.0,387.9 L1438.5,387.9 L1439.0,387.9 L1439.5,387.9 L1440.0,387.9 L1440.5,387.9 L1441.0,387.8 L1441.5,387.8 L1442.0,387.8 L1442.5,387.8 L1443.0,387.8 L1443.5,387.8 L1444.0,387.8 L1444.5,387.8 L1445.0,387.8 L1445.5,387.7 L1446.0,387.7 L1446.5,387.7 L1447.0,387.7 L1447.5,387.7 L1448.0,387.7 L1448.5,387.7 L1449.0,387.7 L1449.5,387.7 L1450.0,387.6 L1450.5,387.6 L1451.0,387.6 L1451.5,387.6 L1452.0,387.6 L1452.5,387.6 L1453.0,387.6 L1453.5,387.6 L1454.0,387.6 L1454.5,387.6 L1455.0,387.5 L1455.5,387.5 L1456.0,387.5 L1456.5,387.5 L1457.0,387.5 L1457.5,387.5 L1458.0,387.5 L1458.5,387.5 L1459.0,387.5 L1459.5,387.4 L1460.0,387.4 L1460.5,387.4 L1461.0,387.4 L1461.5,387.4 L1462.0,387.4 L1462.5,387.4 L1463.0,387.4 L1463.5,387.4 L1464.0,387.3 L1464.5,387.3 L1465.0,387.3 L1465.5,387.3 L1466.0,387.3 L1466.5,387.3 L1467.0,387.3 L1467.5,387.3 L1468.0,387.3 L1468.5,387.3 L1469.0,387.2 L1469.5,387.2 L1470.0,387.2 L1470.5,387.2 L1471.0,387.2 L1471.5,387.2 L1472.0,387.2 L1472.5,387.2 L1473.0,387.2 L1473.5,387.1 L1474.0,387.1 L1474.5,387.1 L1475.0,387.1 L1475.5,387.1 L1476.0,387.1 L1476.5,387.1 L1477.0,387.1 L1477.5,387.1 L1478.0,387.0 L1478.5,387.0 L1479.0,387.0 L1479.5,387.0 L1480.0,387.0 L1480.5,387.0 L1481.0,387.0 L1481.5,387.0 L1482.0,387.0 L1482.5,387.0 L1483.0,386.9 L1483.5,386.9 L1484.0,386.9 L1484.5,386.9 L1485.0,386.9 L1485.0,652 L1084.0,652 Z" fill="#fff" stroke="none"/>
<path d="M1084.0,384.5 L1084.5,384.6 L1085.0,384.8 L1085.5,384.9 L1086.0,385.0 L1086.5,385.1 L1087.0,385.2 L1087.5,385.4 L1088.0,385.5 L1088.5,385.6 L1089.0,385.8 L1089.5,385.9 L1090.0,386.0 L1090.5,386.5 L1091.0,387.0 L1091.5,387.5 L1092.0,388.0 L1092.5,388.5 L1093.0,389.0 L1093.5,389.5 L1094.0,390.0 L1094.5,390.5 L1095.0,391.0 L1095.5,391.5 L1096.0,392.0 L1096.5,392.5 L1097.0,393.0 L1097.5,393.2 L1098.0,393.5 L1098.5,393.8 L1099.0,394.0 L1099.5,394.2 L1100.0,394.5 L1100.5,394.8 L1101.0,395.0 L1101.5,395.2 L1102.0,395.5 L1102.5,395.8 L1103.0,396.0 L1103.5,396.2 L1104.0,396.5 L1104.5,396.5 L1105.0,396.5 L1105.5,396.5 L1106.0,396.5 L1106.5,396.5 L1107.0,396.5 L1107.5,396.5 L1108.0,396.5 L1108.5,396.4 L1109.0,396.4 L1109.5,396.4 L1110.0,396.4 L1110.5,396.4 L1111.0,396.4 L1111.5,396.4 L1112.0,396.4 L1112.5,396.4 L1113.0,396.4 L1113.5,396.4 L1114.0,396.4 L1114.5,396.4 L1115.0,396.4 L1115.5,396.4 L1116.0,396.4 L1116.5,396.3 L1117.0,396.3 L1117.5,396.3 L1118.0,396.3 L1118.5,396.3 L1119.0,396.3 L1119.5,396.3 L1120.0,396.3 L1120.5,396.3 L1121.0,396.3 L1121.5,396.3 L1122.0,396.3 L1122.5,396.3 L1123.0,396.3 L1123.5,396.3 L1124.0,396.3 L1124.5,396.2 L1125.0,396.2 L1125.5,396.2 L1126.0,396.2 L1126.5,396.2 L1127.0,396.2 L1127.5,396.2 L1128.0,396.2 L1128.5,396.2 L1129.0,396.2 L1129.5,396.2 L1130.0,396.2 L1130.5,396.2 L1131.0,396.2 L1131.5,396.2 L1132.0,396.2 L1132.5,396.2 L1133.0,396.1 L1133.5,396.1 L1134.0,396.1 L1134.5,396.1 L1135.0,396.1 L1135.5,396.1 L1136.0,396.1 L1136.5,396.1 L1137.0,396.1 L1137.5,396.1 L1138.0,396.1 L1138.5,396.1 L1139.0,396.1 L1139.5,396.1 L1140.0,396.1 L1140.5,396.1 L1141.0,396.0 L1141.5,396.0 L1142.0,396.0 L1142.5,396.0 L1143.0,396.0 L1143.5,396.0 L1144.0,396.0 L1144.5,396.0 L1145.0,396.0 L1145.5,395.9 L1146.0,395.9 L1146.5,395.8 L1147.0,395.8 L1147.5,395.7 L1148.0,395.7 L1148.5,395.6 L1149.0,395.6 L1149.5,395.5 L1150.0,395.5 L1150.5,395.4 L1151.0,395.4 L1151.5,395.3 L1152.0,395.3 L1152.5,395.2 L1153.0,395.2 L1153.5,395.1 L1154.0,395.1 L1154.5,395.0 L1155.0,395.0 L1155.5,394.9 L1156.0,394.9 L1156.5,394.8 L1157.0,394.8 L1157.5,394.7 L1158.0,394.7 L1158.5,394.6 L1159.0,394.6 L1159.5,394.5 L1160.0,394.4 L1160.5,394.3 L1161.0,394.2 L1161.5,394.0 L1162.0,393.8 L1162.5,393.6 L1163.0,393.3 L1163.5,393.0 L1164.0,392.6 L1164.5,392.2 L1165.0,391.8 L1165.5,391.3 L1166.0,390.9 L1166.5,390.6 L1167.0,390.3 L1167.5,390.1 L1168.0,390.0 L1168.5,390.0 L1169.0,390.2 L1169.5,390.4 L1170.0,390.7 L1170.5,391.0 L1171.0,391.4 L1171.5,391.8 L1172.0,392.1 L1172.5,392.5 L1173.0,392.7 L1173.5,392.9 L1174.0,393.1 L1174.5,393.2 L1175.0,393.3 L1175.5,393.4 L1176.0,393.4 L1176.5,393.4 L1177.0,393.4 L1177.5,393.4 L1178.0,393.4 L1178.5,393.4 L1179.0,393.4 L1179.5,393.3 L1180.0,393.3 L1180.5,393.3 L1181.0,393.2 L1181.5,393.2 L1182.0,393.2 L1182.5,393.1 L1183.0,393.1 L1183.5,393.1 L1184.0,393.1 L1184.5,393.0 L1185.0,393.0 L1185.5,393.0 L1186.0,393.0 L1186.5,393.0 L1187.0,393.0 L1187.5,393.0 L1188.0,393.0 L1188.5,393.0 L1189.0,392.9 L1189.5,392.9 L1190.0,392.9 L1190.5,392.9 L1191.0,392.9 L1191.5,392.9 L1192.0,392.9 L1192.5,392.9 L1193.0,392.9 L1193.5,392.9 L1194.0,392.9 L1194.5,392.9 L1195.0,392.9 L1195.5,392.9 L1196.0,392.9 L1196.5,392.9 L1197.0,392.8 L1197.5,392.8 L1198.0,392.8 L1198.5,392.8 L1199.0,392.8 L1199.5,392.8 L1200.0,392.8 L1200.5,392.8 L1201.0,392.8 L1201.5,392.8 L1202.0,392.8 L1202.5,392.8 L1203.0,392.8 L1203.5,392.8 L1204.0,392.8 L1204.5,392.7 L1205.0,392.7 L1205.5,392.7 L1206.0,392.7 L1206.5,392.7 L1207.0,392.7 L1207.5,392.7 L1208.0,392.7 L1208.5,392.7 L1209.0,392.7 L1209.5,392.7 L1210.0,392.7 L1210.5,392.7 L1211.0,392.7 L1211.5,392.7 L1212.0,392.6 L1212.5,392.6 L1213.0,392.6 L1213.5,392.6 L1214.0,392.6 L1214.5,392.6 L1215.0,392.6 L1215.5,392.6 L1216.0,392.6 L1216.5,392.6 L1217.0,392.6 L1217.5,392.6 L1218.0,392.6 L1218.5,392.6 L1219.0,392.6 L1219.5,392.6 L1220.0,392.5 L1220.5,392.5 L1221.0,392.5 L1221.5,392.5 L1222.0,392.5 L1222.5,392.5 L1223.0,392.5 L1223.5,392.5 L1224.0,392.5 L1224.5,392.5 L1225.0,392.5 L1225.5,392.5 L1226.0,392.5 L1226.5,392.5 L1227.0,392.5 L1227.5,392.4 L1228.0,392.4 L1228.5,392.4 L1229.0,392.4 L1229.5,392.4 L1230.0,392.4 L1230.5,392.4 L1231.0,392.4 L1231.5,392.4 L1232.0,392.4 L1232.5,392.4 L1233.0,392.4 L1233.5,392.4 L1234.0,392.4 L1234.5,392.4 L1235.0,392.3 L1235.5,392.3 L1236.0,392.3 L1236.5,392.3 L1237.0,392.3 L1237.5,392.3 L1238.0,392.3 L1238.5,392.3 L1239.0,392.3 L1239.5,392.3 L1240.0,392.3 L1240.5,392.3 L1241.0,392.3 L1241.5,392.3 L1242.0,392.3 L1242.5,392.2 L1243.0,392.2 L1243.5,392.2 L1244.0,392.2 L1244.5,392.2 L1245.0,392.2 L1245.5,392.2 L1246.0,392.2 L1246.5,392.2 L1247.0,392.2 L1247.5,392.2 L1248.0,392.2 L1248.5,392.2 L1249.0,392.2 L1249.5,392.2 L1250.0,392.2 L1250.5,392.1 L1251.0,392.1 L1251.5,392.1 L1252.0,392.1 L1252.5,392.1 L1253.0,392.1 L1253.5,392.1 L1254.0,392.1 L1254.5,392.1 L1255.0,392.1 L1255.5,392.1 L1256.0,392.1 L1256.5,392.1 L1257.0,392.1 L1257.5,392.1 L1258.0,392.0 L1258.5,392.0 L1259.0,392.0 L1259.5,392.0 L1260.0,392.0 L1260.5,392.0 L1261.0,392.0 L1261.5,392.0 L1262.0,392.0 L1262.5,392.0 L1263.0,392.0 L1263.5,392.0 L1264.0,392.0 L1264.5,392.0 L1265.0,392.0 L1265.5,391.9 L1266.0,391.9 L1266.5,391.9 L1267.0,391.9 L1267.5,391.9 L1268.0,391.9 L1268.5,391.9 L1269.0,391.9 L1269.5,391.9 L1270.0,391.9 L1270.5,391.9 L1271.0,391.9 L1271.5,391.9 L1272.0,391.9 L1272.5,391.9 L1273.0,391.9 L1273.5,391.8 L1274.0,391.8 L1274.5,391.8 L1275.0,391.8 L1275.5,391.8 L1276.0,391.8 L1276.5,391.8 L1277.0,391.8 L1277.5,391.8 L1278.0,391.8 L1278.5,391.8 L1279.0,391.8 L1279.5,391.8 L1280.0,391.8 L1280.5,391.8 L1281.0,391.7 L1281.5,391.7 L1282.0,391.7 L1282.5,391.7 L1283.0,391.7 L1283.5,391.7 L1284.0,391.7 L1284.5,391.7 L1285.0,391.7 L1285.5,391.7 L1286.0,391.7 L1286.5,391.7 L1287.0,391.7 L1287.5,391.7 L1288.0,391.7 L1288.5,391.6 L1289.0,391.6 L1289.5,391.6 L1290.0,391.6 L1290.5,391.6 L1291.0,391.6 L1291.5,391.6 L1292.0,391.6 L1292.5,391.6 L1293.0,391.6 L1293.5,391.6 L1294.0,391.6 L1294.5,391.6 L1295.0,391.6 L1295.5,391.6 L1296.0,391.5 L1296.5,391.5 L1297.0,391.5 L1297.5,391.5 L1298.0,391.5 L1298.5,391.4 L1299.0,391.4 L1299.5,391.3 L1300.0,391.2 L1300.5,391.1 L1301.0,390.9 L1301.5,390.6 L1302.0,390.3 L1302.5,389.9 L1303.0,389.3 L1303.5,388.5 L1304.0,387.5 L1304.5,386.3 L1305.0,384.7 L1305.5,382.7 L1306.0,380.2 L1306.5,377.2 L1307.0,373.5 L1307.5,369.1 L1308.0,363.9 L1308.5,357.8 L1309.0,350.7 L1309.5,342.7 L1310.0,333.6 L1310.5,323.6 L1311.0,312.6 L1311.5,300.6 L1312.0,288.0 L1312.5,274.7 L1313.0,261.0 L1313.5,247.2 L1314.0,233.5 L1314.5,220.1 L1315.0,207.6 L1315.5,196.0 L1316.0,185.8 L1316.5,177.2 L1317.0,170.4 L1317.5,165.7 L1318.0,163.2 L1318.5,162.9 L1319.0,164.1 L1319.5,166.6 L1320.0,170.4 L1320.5,175.4 L1321.0,181.6 L1321.5,188.7 L1322.0,196.8 L1322.5,205.6 L1323.0,215.1 L1323.5,225.1 L1324.0,235.4 L1324.5,245.9 L1325.0,256.5 L1325.5,267.1 L1326.0,277.5 L1326.5,287.6 L1327.0,297.4 L1327.5,306.7 L1328.0,315.6 L1328.5,323.9 L1329.0,331.6 L1329.5,338.7 L1330.0,345.3 L1330.5,351.2 L1331.0,356.5 L1331.5,361.3 L1332.0,365.6 L1332.5,369.3 L1333.0,372.6 L1333.5,375.4 L1334.0,377.9 L1334.5,380.0 L1335.0,381.8 L1335.5,383.3 L1336.0,384.6 L1336.5,385.6 L1337.0,386.5 L1337.5,387.2 L1338.0,387.8 L1338.5,388.2 L1339.0,388.6 L1339.5,388.9 L1340.0,389.1 L1340.5,389.3 L1341.0,389.5 L1341.5,389.6 L1342.0,389.7 L1342.5,389.7 L1343.0,389.8 L1343.5,389.8 L1344.0,389.8 L1344.5,389.8 L1345.0,389.8 L1345.5,389.8 L1346.0,389.8 L1346.5,389.8 L1347.0,389.8 L1347.5,389.8 L1348.0,389.8 L1348.5,389.8 L1349.0,389.8 L1349.5,389.8 L1350.0,389.8 L1350.5,389.8 L1351.0,389.8 L1351.5,389.8 L1352.0,389.7 L1352.5,389.7 L1353.0,389.7 L1353.5,389.7 L1354.0,389.7 L1354.5,389.7 L1355.0,389.7 L1355.5,389.7 L1356.0,389.7 L1356.5,389.6 L1357.0,389.6 L1357.5,389.6 L1358.0,389.6 L1358.5,389.6 L1359.0,389.6 L1359.5,389.6 L1360.0,389.6 L1360.5,389.6 L1361.0,389.6 L1361.5,389.5 L1362.0,389.5 L1362.5,389.5 L1363.0,389.5 L1363.5,389.5 L1364.0,389.5 L1364.5,389.5 L1365.0,389.5 L1365.5,389.5 L1366.0,389.4 L1366.5,389.4 L1367.0,389.4 L1367.5,389.4 L1368.0,389.4 L1368.5,389.4 L1369.0,389.4 L1369.5,389.4 L1370.0,389.4 L1370.5,389.3 L1371.0,389.3 L1371.5,389.3 L1372.0,389.3 L1372.5,389.3 L1373.0,389.3 L1373.5,389.3 L1374.0,389.3 L1374.5,389.3 L1375.0,389.3 L1375.5,389.2 L1376.0,389.2 L1376.5,389.2 L1377.0,389.2 L1377.5,389.2 L1378.0,389.2 L1378.5,389.2 L1379.0,389.2 L1379.5,389.2 L1380.0,389.1 L1380.5,389.1 L1381.0,389.1 L1381.5,389.1 L1382.0,389.1 L1382.5,389.1 L1383.0,389.1 L1383.5,389.1 L1384.0,389.1 L1384.5,389.0 L1385.0,389.0 L1385.5,389.0 L1386.0,389.0 L1386.5,389.0 L1387.0,389.0 L1387.5,389.0 L1388.0,389.0 L1388.5,389.0 L1389.0,389.0 L1389.5,388.9 L1390.0,388.9 L1390.5,388.9 L1391.0,388.9 L1391.5,388.9 L1392.0,388.9 L1392.5,388.9 L1393.0,388.9 L1393.5,388.9 L1394.0,388.8 L1394.5,388.8 L1395.0,388.8 L1395.5,388.8 L1396.0,388.8 L1396.5,388.8 L1397.0,388.8 L1397.5,388.8 L1398.0,388.8 L1398.5,388.7 L1399.0,388.7 L1399.5,388.7 L1400.0,388.7 L1400.5,388.7 L1401.0,388.7 L1401.5,388.7 L1402.0,388.7 L1402.5,388.7 L1403.0,388.7 L1403.5,388.6 L1404.0,388.6 L1404.5,388.6 L1405.0,388.6 L1405.5,388.6 L1406.0,388.6 L1406.5,388.6 L1407.0,388.6 L1407.5,388.6 L1408.0,388.5 L1408.5,388.5 L1409.0,388.5 L1409.5,388.5 L1410.0,388.5 L1410.5,388.5 L1411.0,388.5 L1411.5,388.5 L1412.0,388.5 L1412.5,388.4 L1413.0,388.4 L1413.5,388.4 L1414.0,388.4 L1414.5,388.4 L1415.0,388.4 L1415.5,388.4 L1416.0,388.4 L1416.5,388.4 L1417.0,388.4 L1417.5,388.3 L1418.0,388.3 L1418.5,388.3 L1419.0,388.3 L1419.5,388.3 L1420.0,388.3 L1420.5,388.3 L1421.0,388.3 L1421.5,388.3 L1422.0,388.2 L1422.5,388.2 L1423.0,388.2 L1423.5,388.2 L1424.0,388.2 L1424.5,388.2 L1425.0,388.2 L1425.5,388.2 L1426.0,388.2 L1426.5,388.2 L1427.0,388.1 L1427.5,388.1 L1428.0,388.1 L1428.5,388.1 L1429.0,388.1 L1429.5,388.1 L1430.0,388.1 L1430.5,388.1 L1431.0,388.1 L1431.5,388.0 L1432.0,388.0 L1432.5,388.0 L1433.0,388.0 L1433.5,388.0 L1434.0,388.0 L1434.5,388.0 L1435.0,388.0 L1435.5,388.0 L1436.0,387.9 L1436.5,387.9 L1437.0,387.9 L1437.5,387.9 L1438.0,387.9 L1438.5,387.9 L1439.0,387.9 L1439.5,387.9 L1440.0,387.9 L1440.5,387.9 L1441.0,387.8 L1441.5,387.8 L1442.0,387.8 L1442.5,387.8 L1443.0,387.8 L1443.5,387.8 L1444.0,387.8 L1444.5,387.8 L1445.0,387.8 L1445.5,387.7 L1446.0,387.7 L1446.5,387.7 L1447.0,387.7 L1447.5,387.7 L1448.0,387.7 L1448.5,387.7 L1449.0,387.7 L1449.5,387.7 L1450.0,387.6 L1450.5,387.6 L1451.0,387.6 L1451.5,387.6 L1452.0,387.6 L1452.5,387.6 L1453.0,387.6 L1453.5,387.6 L1454.0,387.6 L1454.5,387.6 L1455.0,387.5 L1455.5,387.5 L1456.0,387.5 L1456.5,387.5 L1457.0,387.5 L1457.5,387.5 L1458.0,387.5 L1458.5,387.5 L1459.0,387.5 L1459.5,387.4 L1460.0,387.4 L1460.5,387.4 L1461.0,387.4 L1461.5,387.4 L1462.0,387.4 L1462.5,387.4 L1463.0,387.4 L1463.5,387.4 L1464.0,387.3 L1464.5,387.3 L1465.0,387.3 L1465.5,387.3 L1466.0,387.3 L1466.5,387.3 L1467.0,387.3 L1467.5,387.3 L1468.0,387.3 L1468.5,387.3 L1469.0,387.2 L1469.5,387.2 L1470.0,387.2 L1470.5,387.2 L1471.0,387.2 L1471.5,387.2 L1472.0,387.2 L1472.5,387.2 L1473.0,387.2 L1473.5,387.1 L1474.0,387.1 L1474.5,387.1 L1475.0,387.1 L1475.5,387.1 L1476.0,387.1 L1476.5,387.1 L1477.0,387.1 L1477.5,387.1 L1478.0,387.0 L1478.5,387.0 L1479.0,387.0 L1479.5,387.0 L1480.0,387.0 L1480.5,387.0 L1481.0,387.0 L1481.5,387.0 L1482.0,387.0 L1482.5,387.0 L1483.0,386.9 L1483.5,386.9 L1484.0,386.9 L1484.5,386.9 L1485.0,386.9" fill="none" stroke="#f7941d" stroke-width="2.5" stroke-linejoin="round"/>
<path d="M1058.7,478.0 L1059.2,478.0 L1059.7,478.0 L1060.2,478.0 L1060.7,478.0 L1061.2,478.0 L1061.7,478.0 L1062.2,478.0 L1062.7,478.0 L1063.2,478.0 L1063.7,478.0 L1064.2,478.0 L1064.7,478.0 L1065.2,478.0 L1065.7,478.0 L1066.2,477.9 L1066.7,477.9 L1067.2,477.9 L1067.7,477.9 L1068.2,477.9 L1068.7,477.9 L1069.2,477.9 L1069.7,477.9 L1070.2,477.9 L1070.7,477.9 L1071.2,477.9 L1071.7,477.9 L1072.2,477.9 L1072.7,477.9 L1073.2,477.9 L1073.7,477.9 L1074.2,477.9 L1074.7,477.9 L1075.2,477.9 L1075.7,477.9 L1076.2,477.9 L1076.7,477.9 L1077.2,477.9 L1077.7,477.9 L1078.2,477.9 L1078.7,477.9 L1079.2,477.9 L1079.7,477.9 L1080.2,477.8 L1080.7,477.8 L1081.2,477.8 L1081.7,477.8 L1082.2,477.8 L1082.7,477.8 L1083.2,477.8 L1083.7,477.8 L1084.2,477.8 L1084.7,477.8 L1085.2,477.8 L1085.7,477.8 L1086.2,477.8 L1086.7,477.8 L1087.2,477.8 L1087.7,477.8 L1088.2,477.8 L1088.7,477.8 L1089.2,477.8 L1089.7,477.8 L1090.2,477.8 L1090.7,477.8 L1091.2,477.8 L1091.7,477.8 L1092.2,477.8 L1092.7,477.8 L1093.2,477.8 L1093.7,477.8 L1094.2,477.8 L1094.7,477.7 L1095.2,477.7 L1095.7,477.7 L1096.2,477.7 L1096.7,477.7 L1097.2,477.7 L1097.7,477.7 L1098.2,477.7 L1098.7,477.7 L1099.2,477.7 L1099.7,477.7 L1100.2,477.7 L1100.7,477.7 L1101.2,477.7 L1101.7,477.7 L1102.2,477.7 L1102.7,477.7 L1103.2,477.7 L1103.7,477.7 L1104.2,477.7 L1104.7,477.7 L1105.2,477.7 L1105.7,477.7 L1106.2,477.7 L1106.7,477.7 L1107.2,477.7 L1107.7,477.7 L1108.2,477.7 L1108.7,477.6 L1109.2,477.6 L1109.7,477.6 L1110.2,477.6 L1110.7,477.6 L1111.2,477.6 L1111.7,477.6 L1112.2,477.6 L1112.7,477.6 L1113.2,477.6 L1113.7,477.6 L1114.2,477.6 L1114.7,477.6 L1115.2,477.6 L1115.7,477.6 L1116.2,477.6 L1116.7,477.6 L1117.2,477.6 L1117.7,477.6 L1118.2,477.6 L1118.7,477.6 L1119.2,477.6 L1119.7,477.6 L1120.2,477.6 L1120.7,477.6 L1121.2,477.6 L1121.7,477.6 L1122.2,477.6 L1122.7,477.6 L1123.2,477.5 L1123.7,477.5 L1124.2,477.5 L1124.7,477.5 L1125.2,477.5 L1125.7,477.5 L1126.2,477.5 L1126.7,477.5 L1127.2,477.5 L1127.7,477.5 L1128.2,477.5 L1128.7,477.5 L1129.2,477.5 L1129.7,477.5 L1130.2,477.5 L1130.7,477.4 L1131.2,477.3 L1131.7,477.2 L1132.2,477.1 L1132.7,477.0 L1133.2,476.9 L1133.7,476.8 L1134.2,476.7 L1134.7,476.6 L1135.2,476.5 L1135.7,476.4 L1136.2,476.3 L1136.7,476.2 L1137.2,476.1 L1137.7,476.1 L1138.2,476.0 L1138.7,475.9 L1139.2,475.8 L1139.7,475.7 L1140.2,475.6 L1140.7,475.5 L1141.2,475.4 L1141.7,475.3 L1142.2,475.2 L1142.7,475.1 L1143.2,475.0 L1143.7,474.9 L1144.2,474.8 L1144.7,474.7 L1145.2,474.6 L1145.7,474.6 L1146.2,474.5 L1146.7,474.5 L1147.2,474.5 L1147.7,474.5 L1148.2,474.5 L1148.7,474.5 L1149.2,474.5 L1149.7,474.5 L1150.2,474.5 L1150.7,474.5 L1151.2,474.5 L1151.7,474.4 L1152.2,474.4 L1152.7,474.4 L1153.2,474.4 L1153.7,474.4 L1154.2,474.4 L1154.7,474.4 L1155.2,474.4 L1155.7,474.4 L1156.2,474.4 L1156.7,474.4 L1157.2,474.4 L1157.7,474.3 L1158.2,474.3 L1158.7,474.3 L1159.2,474.2 L1159.7,474.1 L1160.2,474.0 L1160.7,473.8 L1161.2,473.5 L1161.7,473.2 L1162.2,472.8 L1162.7,472.2 L1163.2,471.4 L1163.7,470.5 L1164.2,469.3 L1164.7,467.8 L1165.2,465.9 L1165.7,463.6 L1166.2,460.9 L1166.7,457.7 L1167.2,454.0 L1167.7,449.7 L1168.2,444.9 L1168.7,439.6 L1169.2,433.8 L1169.7,427.5 L1170.2,421.0 L1170.7,414.2 L1171.2,407.4 L1171.7,400.7 L1172.2,394.2 L1172.7,388.3 L1173.2,382.9 L1173.7,378.4 L1174.2,374.8 L1174.7,372.3 L1175.2,370.9 L1175.7,370.8 L1176.2,371.4 L1176.7,372.8 L1177.2,374.8 L1177.7,377.4 L1178.2,380.7 L1178.7,384.4 L1179.2,388.6 L1179.7,393.2 L1180.2,398.0 L1180.7,403.1 L1181.2,408.3 L1181.7,413.5 L1182.2,418.7 L1182.7,423.8 L1183.2,428.7 L1183.7,433.5 L1184.2,438.0 L1184.7,442.2 L1185.2,446.1 L1185.7,449.7 L1186.2,453.0 L1186.7,456.0 L1187.2,458.7 L1187.7,461.0 L1188.2,463.1 L1188.7,464.9 L1189.2,466.5 L1189.7,467.8 L1190.2,468.9 L1190.7,469.9 L1191.2,470.7 L1191.7,471.4 L1192.2,471.9 L1192.7,472.4 L1193.2,472.7 L1193.7,473.0 L1194.2,473.2 L1194.7,473.4 L1195.2,473.6 L1195.7,473.7 L1196.2,473.8 L1196.7,473.8 L1197.2,473.9 L1197.7,473.9 L1198.2,473.9 L1198.7,474.0 L1199.2,474.0 L1199.7,474.0 L1200.2,474.0 L1200.7,474.0 L1201.2,474.0 L1201.7,474.0 L1202.2,474.0 L1202.7,474.0 L1203.2,474.0 L1203.7,474.0 L1204.2,474.0 L1204.7,474.0 L1205.2,474.0 L1205.7,474.0 L1206.2,474.0 L1206.7,474.0 L1207.2,474.0 L1207.7,474.1 L1208.2,474.1 L1208.7,474.1 L1209.2,474.1 L1209.7,474.1 L1210.2,474.1 L1210.7,474.1 L1211.2,474.1 L1211.7,474.1 L1212.2,474.1 L1212.7,474.1 L1213.2,474.1 L1213.7,474.1 L1214.2,474.1 L1214.7,474.1 L1215.2,474.1 L1215.7,474.1 L1216.2,474.1 L1216.7,474.1 L1217.2,474.1 L1217.7,474.1 L1218.2,474.1 L1218.7,474.1 L1219.2,474.1 L1219.7,474.1 L1220.2,474.1 L1220.7,474.1 L1221.2,474.1 L1221.7,474.2 L1222.2,474.2 L1222.7,474.2 L1223.2,474.2 L1223.7,474.2 L1224.2,474.2 L1224.7,474.2 L1225.2,474.2 L1225.7,474.2 L1226.2,474.2 L1226.7,474.2 L1227.2,474.2 L1227.7,474.2 L1228.2,474.2 L1228.7,474.2 L1229.2,474.2 L1229.7,474.2 L1230.2,474.2 L1230.7,474.2 L1231.2,474.2 L1231.7,474.2 L1232.2,474.2 L1232.7,474.2 L1233.2,474.2 L1233.7,474.2 L1234.2,474.2 L1234.7,474.2 L1235.2,474.2 L1235.7,474.2 L1236.2,474.3 L1236.7,474.3 L1237.2,474.3 L1237.7,474.3 L1238.2,474.3 L1238.7,474.3 L1239.2,474.3 L1239.7,474.3 L1240.2,474.3 L1240.7,474.3 L1241.2,474.3 L1241.7,474.3 L1242.2,474.3 L1242.7,474.3 L1243.2,474.3 L1243.7,474.3 L1244.2,474.3 L1244.7,474.3 L1245.2,474.3 L1245.7,474.3 L1246.2,474.3 L1246.7,474.3 L1247.2,474.3 L1247.7,474.3 L1248.2,474.3 L1248.7,474.3 L1249.2,474.3 L1249.7,474.3 L1250.2,474.3 L1250.7,474.4 L1251.2,474.4 L1251.7,474.4 L1252.2,474.4 L1252.7,474.4 L1253.2,474.4 L1253.7,474.4 L1254.2,474.4 L1254.7,474.4 L1255.2,474.4 L1255.7,474.4 L1256.2,474.4 L1256.7,474.4 L1257.2,474.4 L1257.7,474.4 L1258.2,474.4 L1258.7,474.4 L1259.2,474.4 L1259.7,474.4 L1260.2,474.4 L1260.7,474.4 L1261.2,474.4 L1261.7,474.4 L1262.2,474.4 L1262.7,474.4 L1263.2,474.4 L1263.7,474.4 L1264.2,474.4 L1264.7,474.4 L1265.2,474.4 L1265.7,474.5 L1266.2,474.5 L1266.7,474.4 L1267.2,474.4 L1267.7,474.4 L1268.2,474.4 L1268.7,474.4 L1269.2,474.4 L1269.7,474.3 L1270.2,474.3 L1270.7,474.2 L1271.2,474.1 L1271.7,473.9 L1272.2,473.7 L1272.7,473.3 L1273.2,472.9 L1273.7,472.3 L1274.2,471.6 L1274.7,470.7 L1275.2,469.6 L1275.7,468.2 L1276.2,466.5 L1276.7,464.5 L1277.2,462.2 L1277.7,459.3 L1278.2,456.0 L1278.7,452.2 L1279.2,447.9 L1279.7,443.0 L1280.2,437.6 L1280.7,431.7 L1281.2,425.3 L1281.7,418.5 L1282.2,411.4 L1282.7,404.1 L1283.2,396.7 L1283.7,389.3 L1284.2,382.2 L1284.7,375.4 L1285.2,369.2 L1285.7,363.7 L1286.2,359.1 L1286.7,355.5 L1287.2,352.9 L1287.7,351.5 L1288.2,351.3 L1288.7,351.9 L1289.2,353.0 L1289.7,354.8 L1290.2,357.2 L1290.7,360.2 L1291.2,363.7 L1291.7,367.6 L1292.2,371.9 L1292.7,376.6 L1293.2,381.5 L1293.7,386.7 L1294.2,391.9 L1294.7,397.3 L1295.2,402.7 L1295.7,408.0 L1296.2,413.2 L1296.7,418.3 L1297.2,423.1 L1297.7,427.8 L1298.2,432.2 L1298.7,436.4 L1299.2,440.3 L1299.7,443.9 L1300.2,447.2 L1300.7,450.2 L1301.2,453.0 L1301.7,455.5 L1302.2,457.7 L1302.7,459.6 L1303.2,461.3 L1303.7,462.9 L1304.2,464.2 L1304.7,465.3 L1305.2,466.3 L1305.7,467.1 L1306.2,467.8 L1306.7,468.4 L1307.2,468.9 L1307.7,469.3 L1308.2,469.6 L1308.7,469.9 L1309.2,470.1 L1309.7,470.3 L1310.2,470.4 L1310.7,470.5 L1311.2,470.6 L1311.7,470.6 L1312.2,470.7 L1312.7,470.7 L1313.2,470.7 L1313.7,470.7 L1314.2,470.7 L1314.7,470.7 L1315.2,470.7 L1315.7,470.7 L1316.2,470.7 L1316.7,470.6 L1317.2,470.6 L1317.7,470.6 L1318.2,470.6 L1318.7,470.6 L1319.2,470.5 L1319.7,470.5 L1320.2,470.5 L1320.7,470.5 L1321.2,470.5 L1321.7,470.5 L1322.2,470.4 L1322.7,470.4 L1323.2,470.4 L1323.7,470.4 L1324.2,470.4 L1324.7,470.4 L1325.2,470.4 L1325.7,470.4 L1326.2,470.3 L1326.7,470.3 L1327.2,470.3 L1327.7,470.3 L1328.2,470.3 L1328.7,470.3 L1329.2,470.3 L1329.7,470.3 L1330.2,470.2 L1330.7,470.2 L1331.2,470.2 L1331.7,470.2 L1332.2,470.2 L1332.7,470.2 L1333.2,470.2 L1333.7,470.2 L1334.2,470.2 L1334.7,470.1 L1335.2,470.1 L1335.7,470.1 L1336.2,470.1 L1336.7,470.1 L1337.2,470.1 L1337.7,470.1 L1338.2,470.1 L1338.7,470.0 L1339.2,470.0 L1339.7,470.0 L1340.2,470.0 L1340.7,470.0 L1341.2,470.0 L1341.7,470.0 L1342.2,470.0 L1342.7,469.9 L1343.2,469.9 L1343.7,469.9 L1344.2,469.9 L1344.7,469.9 L1345.2,469.9 L1345.7,469.9 L1346.2,469.9 L1346.7,469.8 L1347.2,469.8 L1347.7,469.8 L1348.2,469.8 L1348.7,469.8 L1349.2,469.8 L1349.7,469.8 L1350.2,469.8 L1350.7,469.7 L1351.2,469.7 L1351.7,469.7 L1352.2,469.7 L1352.7,469.7 L1353.2,469.7 L1353.7,469.7 L1354.2,469.7 L1354.7,469.6 L1355.2,469.6 L1355.7,469.6 L1356.2,469.6 L1356.7,469.6 L1357.2,469.6 L1357.7,469.6 L1358.2,469.6 L1358.7,469.5 L1359.2,469.5 L1359.7,469.5 L1360.2,469.5 L1360.7,469.5 L1361.2,469.5 L1361.7,469.4 L1362.2,469.4 L1362.7,469.4 L1363.2,469.3 L1363.7,469.2 L1364.2,469.1 L1364.7,469.0 L1365.2,468.8 L1365.7,468.6 L1366.2,468.4 L1366.7,468.1 L1367.2,467.8 L1367.7,467.4 L1368.2,467.1 L1368.7,466.7 L1369.2,466.4 L1369.7,466.1 L1370.2,465.9 L1370.7,465.8 L1371.2,465.7 L1371.7,465.8 L1372.2,465.9 L1372.7,466.0 L1373.2,466.2 L1373.7,466.4 L1374.2,466.6 L1374.7,466.9 L1375.2,467.1 L1375.7,467.4 L1376.2,467.6 L1376.7,467.8 L1377.2,468.0 L1377.7,468.2 L1378.2,468.4 L1378.7,468.5 L1379.2,468.6 L1379.7,468.7 L1380.2,468.8 L1380.7,468.8 L1381.2,468.9 L1381.7,468.9 L1382.2,468.9 L1382.7,468.9 L1383.2,468.9 L1383.7,468.9 L1384.2,468.9 L1384.7,468.9 L1385.2,468.9 L1385.7,468.9 L1386.2,468.9 L1386.7,468.9 L1387.2,468.8 L1387.7,468.8 L1388.2,468.8 L1388.7,468.8 L1389.2,468.8 L1389.7,468.8 L1390.2,468.8 L1390.7,468.8 L1391.2,468.7 L1391.7,468.7 L1392.2,468.7 L1392.7,468.7 L1393.2,468.7 L1393.7,468.7 L1394.2,468.7 L1394.7,468.7 L1395.2,468.7 L1395.7,468.6 L1396.2,468.6 L1396.7,468.6 L1397.2,468.6 L1397.7,468.6 L1398.2,468.6 L1398.7,468.6 L1399.2,468.6 L1399.7,468.5 L1400.2,468.5 L1400.7,468.5 L1401.2,468.5 L1401.7,468.5 L1402.2,468.5 L1402.7,468.5 L1403.2,468.5 L1403.7,468.4 L1404.2,468.4 L1404.7,468.4 L1405.2,468.4 L1405.7,468.4 L1406.2,468.4 L1406.7,468.4 L1407.2,468.4 L1407.7,468.3 L1408.2,468.3 L1408.7,468.3 L1409.2,468.3 L1409.7,468.3 L1410.2,468.3 L1410.7,468.3 L1411.2,468.3 L1411.7,468.2 L1412.2,468.2 L1412.7,468.2 L1413.2,468.2 L1413.7,468.2 L1414.2,468.2 L1414.7,468.2 L1415.2,468.2 L1415.7,468.1 L1416.2,468.1 L1416.7,468.1 L1417.2,468.1 L1417.7,468.1 L1418.2,468.1 L1418.7,468.1 L1419.2,468.1 L1419.7,468.0 L1420.2,468.0 L1420.7,468.0 L1421.2,468.0 L1421.7,468.0 L1422.2,468.0 L1422.7,468.0 L1423.2,468.0 L1423.7,467.9 L1424.2,467.9 L1424.7,467.9 L1425.2,467.9 L1425.7,467.9 L1426.2,467.9 L1426.7,467.9 L1427.2,467.9 L1427.7,467.9 L1428.2,467.8 L1428.7,467.8 L1429.2,467.8 L1429.7,467.8 L1430.2,467.8 L1430.7,467.8 L1431.2,467.8 L1431.7,467.8 L1432.2,467.7 L1432.7,467.7 L1433.2,467.7 L1433.7,467.7 L1434.2,467.7 L1434.7,467.7 L1435.2,467.7 L1435.7,467.7 L1436.2,467.6 L1436.7,467.6 L1437.2,467.6 L1437.7,467.6 L1438.2,467.6 L1438.7,467.6 L1439.2,467.6 L1439.7,467.6 L1440.2,467.5 L1440.7,467.5 L1441.2,467.5 L1441.7,467.5 L1442.2,467.5 L1442.7,467.5 L1443.2,467.5 L1443.7,467.5 L1444.2,467.4 L1444.7,467.4 L1445.2,467.4 L1445.7,467.4 L1446.2,467.4 L1446.7,467.4 L1447.2,467.4 L1447.7,467.4 L1448.2,467.3 L1448.7,467.3 L1449.2,467.3 L1449.7,467.3 L1450.2,467.3 L1450.7,467.3 L1451.2,467.3 L1451.7,467.3 L1452.2,467.2 L1452.7,467.2 L1453.2,467.2 L1453.7,467.2 L1454.2,467.2 L1454.7,467.2 L1455.2,467.2 L1455.7,467.2 L1456.2,467.2 L1456.7,467.1 L1457.2,467.1 L1457.7,467.1 L1458.2,467.1 L1458.7,467.1 L1459.2,467.1 L1459.7,467.1 L1460.2,467.1 L1460.7,467.0 L1461.2,467.0 L1461.7,467.0 L1462.2,467.0 L1462.3,652 L1058.7,652 Z" fill="#fff" stroke="none"/>
<path d="M1058.7,478.0 L1059.2,478.0 L1059.7,478.0 L1060.2,478.0 L1060.7,478.0 L1061.2,478.0 L1061.7,478.0 L1062.2,478.0 L1062.7,478.0 L1063.2,478.0 L1063.7,478.0 L1064.2,478.0 L1064.7,478.0 L1065.2,478.0 L1065.7,478.0 L1066.2,477.9 L1066.7,477.9 L1067.2,477.9 L1067.7,477.9 L1068.2,477.9 L1068.7,477.9 L1069.2,477.9 L1069.7,477.9 L1070.2,477.9 L1070.7,477.9 L1071.2,477.9 L1071.7,477.9 L1072.2,477.9 L1072.7,477.9 L1073.2,477.9 L1073.7,477.9 L1074.2,477.9 L1074.7,477.9 L1075.2,477.9 L1075.7,477.9 L1076.2,477.9 L1076.7,477.9 L1077.2,477.9 L1077.7,477.9 L1078.2,477.9 L1078.7,477.9 L1079.2,477.9 L1079.7,477.9 L1080.2,477.8 L1080.7,477.8 L1081.2,477.8 L1081.7,477.8 L1082.2,477.8 L1082.7,477.8 L1083.2,477.8 L1083.7,477.8 L1084.2,477.8 L1084.7,477.8 L1085.2,477.8 L1085.7,477.8 L1086.2,477.8 L1086.7,477.8 L1087.2,477.8 L1087.7,477.8 L1088.2,477.8 L1088.7,477.8 L1089.2,477.8 L1089.7,477.8 L1090.2,477.8 L1090.7,477.8 L1091.2,477.8 L1091.7,477.8 L1092.2,477.8 L1092.7,477.8 L1093.2,477.8 L1093.7,477.8 L1094.2,477.8 L1094.7,477.7 L1095.2,477.7 L1095.7,477.7 L1096.2,477.7 L1096.7,477.7 L1097.2,477.7 L1097.7,477.7 L1098.2,477.7 L1098.7,477.7 L1099.2,477.7 L1099.7,477.7 L1100.2,477.7 L1100.7,477.7 L1101.2,477.7 L1101.7,477.7 L1102.2,477.7 L1102.7,477.7 L1103.2,477.7 L1103.7,477.7 L1104.2,477.7 L1104.7,477.7 L1105.2,477.7 L1105.7,477.7 L1106.2,477.7 L1106.7,477.7 L1107.2,477.7 L1107.7,477.7 L1108.2,477.7 L1108.7,477.6 L1109.2,477.6 L1109.7,477.6 L1110.2,477.6 L1110.7,477.6 L1111.2,477.6 L1111.7,477.6 L1112.2,477.6 L1112.7,477.6 L1113.2,477.6 L1113.7,477.6 L1114.2,477.6 L1114.7,477.6 L1115.2,477.6 L1115.7,477.6 L1116.2,477.6 L1116.7,477.6 L1117.2,477.6 L1117.7,477.6 L1118.2,477.6 L1118.7,477.6 L1119.2,477.6 L1119.7,477.6 L1120.2,477.6 L1120.7,477.6 L1121.2,477.6 L1121.7,477.6 L1122.2,477.6 L1122.7,477.6 L1123.2,477.5 L1123.7,477.5 L1124.2,477.5 L1124.7,477.5 L1125.2,477.5 L1125.7,477.5 L1126.2,477.5 L1126.7,477.5 L1127.2,477.5 L1127.7,477.5 L1128.2,477.5 L1128.7,477.5 L1129.2,477.5 L1129.7,477.5 L1130.2,477.5 L1130.7,477.4 L1131.2,477.3 L1131.7,477.2 L1132.2,477.1 L1132.7,477.0 L1133.2,476.9 L1133.7,476.8 L1134.2,476.7 L1134.7,476.6 L1135.2,476.5 L1135.7,476.4 L1136.2,476.3 L1136.7,476.2 L1137.2,476.1 L1137.7,476.1 L1138.2,476.0 L1138.7,475.9 L1139.2,475.8 L1139.7,475.7 L1140.2,475.6 L1140.7,475.5 L1141.2,475.4 L1141.7,475.3 L1142.2,475.2 L1142.7,475.1 L1143.2,475.0 L1143.7,474.9 L1144.2,474.8 L1144.7,474.7 L1145.2,474.6 L1145.7,474.6 L1146.2,474.5 L1146.7,474.5 L1147.2,474.5 L1147.7,474.5 L1148.2,474.5 L1148.7,474.5 L1149.2,474.5 L1149.7,474.5 L1150.2,474.5 L1150.7,474.5 L1151.2,474.5 L1151.7,474.4 L1152.2,474.4 L1152.7,474.4 L1153.2,474.4 L1153.7,474.4 L1154.2,474.4 L1154.7,474.4 L1155.2,474.4 L1155.7,474.4 L1156.2,474.4 L1156.7,474.4 L1157.2,474.4 L1157.7,474.3 L1158.2,474.3 L1158.7,474.3 L1159.2,474.2 L1159.7,474.1 L1160.2,474.0 L1160.7,473.8 L1161.2,473.5 L1161.7,473.2 L1162.2,472.8 L1162.7,472.2 L1163.2,471.4 L1163.7,470.5 L1164.2,469.3 L1164.7,467.8 L1165.2,465.9 L1165.7,463.6 L1166.2,460.9 L1166.7,457.7 L1167.2,454.0 L1167.7,449.7 L1168.2,444.9 L1168.7,439.6 L1169.2,433.8 L1169.7,427.5 L1170.2,421.0 L1170.7,414.2 L1171.2,407.4 L1171.7,400.7 L1172.2,394.2 L1172.7,388.3 L1173.2,382.9 L1173.7,378.4 L1174.2,374.8 L1174.7,372.3 L1175.2,370.9 L1175.7,370.8 L1176.2,371.4 L1176.7,372.8 L1177.2,374.8 L1177.7,377.4 L1178.2,380.7 L1178.7,384.4 L1179.2,388.6 L1179.7,393.2 L1180.2,398.0 L1180.7,403.1 L1181.2,408.3 L1181.7,413.5 L1182.2,418.7 L1182.7,423.8 L1183.2,428.7 L1183.7,433.5 L1184.2,438.0 L1184.7,442.2 L1185.2,446.1 L1185.7,449.7 L1186.2,453.0 L1186.7,456.0 L1187.2,458.7 L1187.7,461.0 L1188.2,463.1 L1188.7,464.9 L1189.2,466.5 L1189.7,467.8 L1190.2,468.9 L1190.7,469.9 L1191.2,470.7 L1191.7,471.4 L1192.2,471.9 L1192.7,472.4 L1193.2,472.7 L1193.7,473.0 L1194.2,473.2 L1194.7,473.4 L1195.2,473.6 L1195.7,473.7 L1196.2,473.8 L1196.7,473.8 L1197.2,473.9 L1197.7,473.9 L1198.2,473.9 L1198.7,474.0 L1199.2,474.0 L1199.7,474.0 L1200.2,474.0 L1200.7,474.0 L1201.2,474.0 L1201.7,474.0 L1202.2,474.0 L1202.7,474.0 L1203.2,474.0 L1203.7,474.0 L1204.2,474.0 L1204.7,474.0 L1205.2,474.0 L1205.7,474.0 L1206.2,474.0 L1206.7,474.0 L1207.2,474.0 L1207.7,474.1 L1208.2,474.1 L1208.7,474.1 L1209.2,474.1 L1209.7,474.1 L1210.2,474.1 L1210.7,474.1 L1211.2,474.1 L1211.7,474.1 L1212.2,474.1 L1212.7,474.1 L1213.2,474.1 L1213.7,474.1 L1214.2,474.1 L1214.7,474.1 L1215.2,474.1 L1215.7,474.1 L1216.2,474.1 L1216.7,474.1 L1217.2,474.1 L1217.7,474.1 L1218.2,474.1 L1218.7,474.1 L1219.2,474.1 L1219.7,474.1 L1220.2,474.1 L1220.7,474.1 L1221.2,474.1 L1221.7,474.2 L1222.2,474.2 L1222.7,474.2 L1223.2,474.2 L1223.7,474.2 L1224.2,474.2 L1224.7,474.2 L1225.2,474.2 L1225.7,474.2 L1226.2,474.2 L1226.7,474.2 L1227.2,474.2 L1227.7,474.2 L1228.2,474.2 L1228.7,474.2 L1229.2,474.2 L1229.7,474.2 L1230.2,474.2 L1230.7,474.2 L1231.2,474.2 L1231.7,474.2 L1232.2,474.2 L1232.7,474.2 L1233.2,474.2 L1233.7,474.2 L1234.2,474.2 L1234.7,474.2 L1235.2,474.2 L1235.7,474.2 L1236.2,474.3 L1236.7,474.3 L1237.2,474.3 L1237.7,474.3 L1238.2,474.3 L1238.7,474.3 L1239.2,474.3 L1239.7,474.3 L1240.2,474.3 L1240.7,474.3 L1241.2,474.3 L1241.7,474.3 L1242.2,474.3 L1242.7,474.3 L1243.2,474.3 L1243.7,474.3 L1244.2,474.3 L1244.7,474.3 L1245.2,474.3 L1245.7,474.3 L1246.2,474.3 L1246.7,474.3 L1247.2,474.3 L1247.7,474.3 L1248.2,474.3 L1248.7,474.3 L1249.2,474.3 L1249.7,474.3 L1250.2,474.3 L1250.7,474.4 L1251.2,474.4 L1251.7,474.4 L1252.2,474.4 L1252.7,474.4 L1253.2,474.4 L1253.7,474.4 L1254.2,474.4 L1254.7,474.4 L1255.2,474.4 L1255.7,474.4 L1256.2,474.4 L1256.7,474.4 L1257.2,474.4 L1257.7,474.4 L1258.2,474.4 L1258.7,474.4 L1259.2,474.4 L1259.7,474.4 L1260.2,474.4 L1260.7,474.4 L1261.2,474.4 L1261.7,474.4 L1262.2,474.4 L1262.7,474.4 L1263.2,474.4 L1263.7,474.4 L1264.2,474.4 L1264.7,474.4 L1265.2,474.4 L1265.7,474.5 L1266.2,474.5 L1266.7,474.4 L1267.2,474.4 L1267.7,474.4 L1268.2,474.4 L1268.7,474.4 L1269.2,474.4 L1269.7,474.3 L1270.2,474.3 L1270.7,474.2 L1271.2,474.1 L1271.7,473.9 L1272.2,473.7 L1272.7,473.3 L1273.2,472.9 L1273.7,472.3 L1274.2,471.6 L1274.7,470.7 L1275.2,469.6 L1275.7,468.2 L1276.2,466.5 L1276.7,464.5 L1277.2,462.2 L1277.7,459.3 L1278.2,456.0 L1278.7,452.2 L1279.2,447.9 L1279.7,443.0 L1280.2,437.6 L1280.7,431.7 L1281.2,425.3 L1281.7,418.5 L1282.2,411.4 L1282.7,404.1 L1283.2,396.7 L1283.7,389.3 L1284.2,382.2 L1284.7,375.4 L1285.2,369.2 L1285.7,363.7 L1286.2,359.1 L1286.7,355.5 L1287.2,352.9 L1287.7,351.5 L1288.2,351.3 L1288.7,351.9 L1289.2,353.0 L1289.7,354.8 L1290.2,357.2 L1290.7,360.2 L1291.2,363.7 L1291.7,367.6 L1292.2,371.9 L1292.7,376.6 L1293.2,381.5 L1293.7,386.7 L1294.2,391.9 L1294.7,397.3 L1295.2,402.7 L1295.7,408.0 L1296.2,413.2 L1296.7,418.3 L1297.2,423.1 L1297.7,427.8 L1298.2,432.2 L1298.7,436.4 L1299.2,440.3 L1299.7,443.9 L1300.2,447.2 L1300.7,450.2 L1301.2,453.0 L1301.7,455.5 L1302.2,457.7 L1302.7,459.6 L1303.2,461.3 L1303.7,462.9 L1304.2,464.2 L1304.7,465.3 L1305.2,466.3 L1305.7,467.1 L1306.2,467.8 L1306.7,468.4 L1307.2,468.9 L1307.7,469.3 L1308.2,469.6 L1308.7,469.9 L1309.2,470.1 L1309.7,470.3 L1310.2,470.4 L1310.7,470.5 L1311.2,470.6 L1311.7,470.6 L1312.2,470.7 L1312.7,470.7 L1313.2,470.7 L1313.7,470.7 L1314.2,470.7 L1314.7,470.7 L1315.2,470.7 L1315.7,470.7 L1316.2,470.7 L1316.7,470.6 L1317.2,470.6 L1317.7,470.6 L1318.2,470.6 L1318.7,470.6 L1319.2,470.5 L1319.7,470.5 L1320.2,470.5 L1320.7,470.5 L1321.2,470.5 L1321.7,470.5 L1322.2,470.4 L1322.7,470.4 L1323.2,470.4 L1323.7,470.4 L1324.2,470.4 L1324.7,470.4 L1325.2,470.4 L1325.7,470.4 L1326.2,470.3 L1326.7,470.3 L1327.2,470.3 L1327.7,470.3 L1328.2,470.3 L1328.7,470.3 L1329.2,470.3 L1329.7,470.3 L1330.2,470.2 L1330.7,470.2 L1331.2,470.2 L1331.7,470.2 L1332.2,470.2 L1332.7,470.2 L1333.2,470.2 L1333.7,470.2 L1334.2,470.2 L1334.7,470.1 L1335.2,470.1 L1335.7,470.1 L1336.2,470.1 L1336.7,470.1 L1337.2,470.1 L1337.7,470.1 L1338.2,470.1 L1338.7,470.0 L1339.2,470.0 L1339.7,470.0 L1340.2,470.0 L1340.7,470.0 L1341.2,470.0 L1341.7,470.0 L1342.2,470.0 L1342.7,469.9 L1343.2,469.9 L1343.7,469.9 L1344.2,469.9 L1344.7,469.9 L1345.2,469.9 L1345.7,469.9 L1346.2,469.9 L1346.7,469.8 L1347.2,469.8 L1347.7,469.8 L1348.2,469.8 L1348.7,469.8 L1349.2,469.8 L1349.7,469.8 L1350.2,469.8 L1350.7,469.7 L1351.2,469.7 L1351.7,469.7 L1352.2,469.7 L1352.7,469.7 L1353.2,469.7 L1353.7,469.7 L1354.2,469.7 L1354.7,469.6 L1355.2,469.6 L1355.7,469.6 L1356.2,469.6 L1356.7,469.6 L1357.2,469.6 L1357.7,469.6 L1358.2,469.6 L1358.7,469.5 L1359.2,469.5 L1359.7,469.5 L1360.2,469.5 L1360.7,469.5 L1361.2,469.5 L1361.7,469.4 L1362.2,469.4 L1362.7,469.4 L1363.2,469.3 L1363.7,469.2 L1364.2,469.1 L1364.7,469.0 L1365.2,468.8 L1365.7,468.6 L1366.2,468.4 L1366.7,468.1 L1367.2,467.8 L1367.7,467.4 L1368.2,467.1 L1368.7,466.7 L1369.2,466.4 L1369.7,466.1 L1370.2,465.9 L1370.7,465.8 L1371.2,465.7 L1371.7,465.8 L1372.2,465.9 L1372.7,466.0 L1373.2,466.2 L1373.7,466.4 L1374.2,466.6 L1374.7,466.9 L1375.2,467.1 L1375.7,467.4 L1376.2,467.6 L1376.7,467.8 L1377.2,468.0 L1377.7,468.2 L1378.2,468.4 L1378.7,468.5 L1379.2,468.6 L1379.7,468.7 L1380.2,468.8 L1380.7,468.8 L1381.2,468.9 L1381.7,468.9 L1382.2,468.9 L1382.7,468.9 L1383.2,468.9 L1383.7,468.9 L1384.2,468.9 L1384.7,468.9 L1385.2,468.9 L1385.7,468.9 L1386.2,468.9 L1386.7,468.9 L1387.2,468.8 L1387.7,468.8 L1388.2,468.8 L1388.7,468.8 L1389.2,468.8 L1389.7,468.8 L1390.2,468.8 L1390.7,468.8 L1391.2,468.7 L1391.7,468.7 L1392.2,468.7 L1392.7,468.7 L1393.2,468.7 L1393.7,468.7 L1394.2,468.7 L1394.7,468.7 L1395.2,468.7 L1395.7,468.6 L1396.2,468.6 L1396.7,468.6 L1397.2,468.6 L1397.7,468.6 L1398.2,468.6 L1398.7,468.6 L1399.2,468.6 L1399.7,468.5 L1400.2,468.5 L1400.7,468.5 L1401.2,468.5 L1401.7,468.5 L1402.2,468.5 L1402.7,468.5 L1403.2,468.5 L1403.7,468.4 L1404.2,468.4 L1404.7,468.4 L1405.2,468.4 L1405.7,468.4 L1406.2,468.4 L1406.7,468.4 L1407.2,468.4 L1407.7,468.3 L1408.2,468.3 L1408.7,468.3 L1409.2,468.3 L1409.7,468.3 L1410.2,468.3 L1410.7,468.3 L1411.2,468.3 L1411.7,468.2 L1412.2,468.2 L1412.7,468.2 L1413.2,468.2 L1413.7,468.2 L1414.2,468.2 L1414.7,468.2 L1415.2,468.2 L1415.7,468.1 L1416.2,468.1 L1416.7,468.1 L1417.2,468.1 L1417.7,468.1 L1418.2,468.1 L1418.7,468.1 L1419.2,468.1 L1419.7,468.0 L1420.2,468.0 L1420.7,468.0 L1421.2,468.0 L1421.7,468.0 L1422.2,468.0 L1422.7,468.0 L1423.2,468.0 L1423.7,467.9 L1424.2,467.9 L1424.7,467.9 L1425.2,467.9 L1425.7,467.9 L1426.2,467.9 L1426.7,467.9 L1427.2,467.9 L1427.7,467.9 L1428.2,467.8 L1428.7,467.8 L1429.2,467.8 L1429.7,467.8 L1430.2,467.8 L1430.7,467.8 L1431.2,467.8 L1431.7,467.8 L1432.2,467.7 L1432.7,467.7 L1433.2,467.7 L1433.7,467.7 L1434.2,467.7 L1434.7,467.7 L1435.2,467.7 L1435.7,467.7 L1436.2,467.6 L1436.7,467.6 L1437.2,467.6 L1437.7,467.6 L1438.2,467.6 L1438.7,467.6 L1439.2,467.6 L1439.7,467.6 L1440.2,467.5 L1440.7,467.5 L1441.2,467.5 L1441.7,467.5 L1442.2,467.5 L1442.7,467.5 L1443.2,467.5 L1443.7,467.5 L1444.2,467.4 L1444.7,467.4 L1445.2,467.4 L1445.7,467.4 L1446.2,467.4 L1446.7,467.4 L1447.2,467.4 L1447.7,467.4 L1448.2,467.3 L1448.7,467.3 L1449.2,467.3 L1449.7,467.3 L1450.2,467.3 L1450.7,467.3 L1451.2,467.3 L1451.7,467.3 L1452.2,467.2 L1452.7,467.2 L1453.2,467.2 L1453.7,467.2 L1454.2,467.2 L1454.7,467.2 L1455.2,467.2 L1455.7,467.2 L1456.2,467.2 L1456.7,467.1 L1457.2,467.1 L1457.7,467.1 L1458.2,467.1 L1458.7,467.1 L1459.2,467.1 L1459.7,467.1 L1460.2,467.1 L1460.7,467.0 L1461.2,467.0 L1461.7,467.0 L1462.2,467.0" fill="none" stroke="#f7941d" stroke-width="2.5" stroke-linejoin="round"/>
<path d="M1036.2,556.3 L1036.7,556.3 L1037.2,556.3 L1037.7,556.3 L1038.2,556.3 L1038.7,556.3 L1039.2,556.3 L1039.7,556.3 L1040.2,556.3 L1040.7,556.3 L1041.2,556.3 L1041.7,556.3 L1042.2,556.3 L1042.7,556.3 L1043.2,556.3 L1043.7,556.3 L1044.2,556.3 L1044.7,556.3 L1045.2,556.3 L1045.7,556.3 L1046.2,556.3 L1046.7,556.3 L1047.2,556.4 L1047.7,556.4 L1048.2,556.4 L1048.7,556.4 L1049.2,556.4 L1049.7,556.4 L1050.2,556.4 L1050.7,556.4 L1051.2,556.4 L1051.7,556.4 L1052.2,556.4 L1052.7,556.4 L1053.2,556.4 L1053.7,556.4 L1054.2,556.4 L1054.7,556.4 L1055.2,556.4 L1055.7,556.4 L1056.2,556.4 L1056.7,556.4 L1057.2,556.4 L1057.7,556.4 L1058.2,556.4 L1058.7,556.4 L1059.2,556.4 L1059.7,556.4 L1060.2,556.4 L1060.7,556.4 L1061.2,556.4 L1061.7,556.4 L1062.2,556.4 L1062.7,556.4 L1063.2,556.4 L1063.7,556.4 L1064.2,556.4 L1064.7,556.4 L1065.2,556.4 L1065.7,556.4 L1066.2,556.4 L1066.7,556.4 L1067.2,556.4 L1067.7,556.4 L1068.2,556.5 L1068.7,556.5 L1069.2,556.5 L1069.7,556.5 L1070.2,556.5 L1070.7,556.5 L1071.2,556.5 L1071.7,556.5 L1072.2,556.5 L1072.7,556.5 L1073.2,556.5 L1073.7,556.5 L1074.2,556.5 L1074.7,556.5 L1075.2,556.5 L1075.7,556.5 L1076.2,556.5 L1076.7,556.5 L1077.2,556.5 L1077.7,556.5 L1078.2,556.5 L1078.7,556.5 L1079.2,556.5 L1079.7,556.5 L1080.2,556.5 L1080.7,556.5 L1081.2,556.5 L1081.7,556.5 L1082.2,556.5 L1082.7,556.5 L1083.2,556.5 L1083.7,556.5 L1084.2,556.5 L1084.7,556.5 L1085.2,556.5 L1085.7,556.5 L1086.2,556.5 L1086.7,556.5 L1087.2,556.5 L1087.7,556.5 L1088.2,556.5 L1088.7,556.5 L1089.2,556.5 L1089.7,556.6 L1090.2,556.6 L1090.7,556.6 L1091.2,556.6 L1091.7,556.6 L1092.2,556.6 L1092.7,556.6 L1093.2,556.6 L1093.7,556.6 L1094.2,556.6 L1094.7,556.6 L1095.2,556.6 L1095.7,556.6 L1096.2,556.6 L1096.7,556.6 L1097.2,556.6 L1097.7,556.6 L1098.2,556.6 L1098.7,556.6 L1099.2,556.6 L1099.7,556.6 L1100.2,556.6 L1100.7,556.5 L1101.2,556.4 L1101.7,556.3 L1102.2,556.2 L1102.7,556.1 L1103.2,556.0 L1103.7,555.9 L1104.2,555.9 L1104.7,555.8 L1105.2,555.7 L1105.7,555.6 L1106.2,555.5 L1106.7,555.4 L1107.2,555.3 L1107.7,555.2 L1108.2,555.1 L1108.7,555.1 L1109.2,555.0 L1109.7,554.9 L1110.2,554.8 L1110.7,554.7 L1111.2,554.6 L1111.7,554.5 L1112.2,554.4 L1112.7,554.3 L1113.2,554.3 L1113.7,554.2 L1114.2,554.1 L1114.7,554.0 L1115.2,553.9 L1115.7,553.8 L1116.2,553.7 L1116.7,553.6 L1117.2,553.5 L1117.7,553.4 L1118.2,553.3 L1118.7,553.1 L1119.2,553.0 L1119.7,552.9 L1120.2,552.7 L1120.7,552.6 L1121.2,552.4 L1121.7,552.2 L1122.2,552.0 L1122.7,551.8 L1123.2,551.6 L1123.7,551.4 L1124.2,551.1 L1124.7,550.9 L1125.2,550.6 L1125.7,550.3 L1126.2,550.1 L1126.7,549.9 L1127.2,549.7 L1127.7,549.5 L1128.2,549.4 L1128.7,549.2 L1129.2,549.1 L1129.7,549.0 L1130.2,548.9 L1130.7,548.9 L1131.2,548.8 L1131.7,548.8 L1132.2,548.9 L1132.7,548.9 L1133.2,549.0 L1133.7,549.1 L1134.2,549.3 L1134.7,549.4 L1135.2,549.5 L1135.7,549.7 L1136.2,549.8 L1136.7,549.9 L1137.2,550.0 L1137.7,550.1 L1138.2,550.1 L1138.7,550.1 L1139.2,550.0 L1139.7,549.8 L1140.2,549.6 L1140.7,549.3 L1141.2,548.8 L1141.7,548.3 L1142.2,547.5 L1142.7,546.6 L1143.2,545.5 L1143.7,544.1 L1144.2,542.4 L1144.7,540.4 L1145.2,538.1 L1145.7,535.3 L1146.2,532.1 L1146.7,528.4 L1147.2,524.2 L1147.7,519.5 L1148.2,514.2 L1148.7,508.3 L1149.2,501.9 L1149.7,494.9 L1150.2,487.3 L1150.7,479.2 L1151.2,470.6 L1151.7,461.7 L1152.2,452.5 L1152.7,443.0 L1153.2,433.5 L1153.7,424.1 L1154.2,414.8 L1154.7,405.9 L1155.2,397.5 L1155.7,389.7 L1156.2,382.7 L1156.7,376.6 L1157.2,371.6 L1157.7,367.7 L1158.2,365.0 L1158.7,363.5 L1159.2,363.4 L1159.7,364.0 L1160.2,365.4 L1160.7,367.5 L1161.2,370.3 L1161.7,373.7 L1162.2,377.7 L1162.7,382.3 L1163.2,387.5 L1163.7,393.0 L1164.2,399.0 L1164.7,405.4 L1165.2,412.0 L1165.7,418.8 L1166.2,425.8 L1166.7,432.9 L1167.2,440.0 L1167.7,447.1 L1168.2,454.1 L1168.7,461.0 L1169.2,467.8 L1169.7,474.3 L1170.2,480.6 L1170.7,486.6 L1171.2,492.4 L1171.7,497.8 L1172.2,503.0 L1172.7,507.8 L1173.2,512.2 L1173.7,516.4 L1174.2,520.2 L1174.7,523.7 L1175.2,526.9 L1175.7,529.8 L1176.2,532.5 L1176.7,534.8 L1177.2,537.0 L1177.7,538.8 L1178.2,540.5 L1178.7,542.0 L1179.2,543.3 L1179.7,544.4 L1180.2,545.4 L1180.7,546.3 L1181.2,547.0 L1181.7,547.7 L1182.2,548.2 L1182.7,548.7 L1183.2,549.1 L1183.7,549.4 L1184.2,549.7 L1184.7,549.9 L1185.2,550.1 L1185.7,550.3 L1186.2,550.4 L1186.7,550.5 L1187.2,550.6 L1187.7,550.6 L1188.2,550.7 L1188.7,550.7 L1189.2,550.8 L1189.7,550.8 L1190.2,550.8 L1190.7,550.8 L1191.2,550.8 L1191.7,550.8 L1192.2,550.8 L1192.7,550.8 L1193.2,550.8 L1193.7,550.8 L1194.2,550.8 L1194.7,550.8 L1195.2,550.8 L1195.7,550.8 L1196.2,550.8 L1196.7,550.8 L1197.2,550.8 L1197.7,550.8 L1198.2,550.8 L1198.7,550.8 L1199.2,550.7 L1199.7,550.7 L1200.2,550.7 L1200.7,550.7 L1201.2,550.7 L1201.7,550.7 L1202.2,550.7 L1202.7,550.7 L1203.2,550.7 L1203.7,550.7 L1204.2,550.7 L1204.7,550.6 L1205.2,550.6 L1205.7,550.6 L1206.2,550.6 L1206.7,550.6 L1207.2,550.6 L1207.7,550.6 L1208.2,550.6 L1208.7,550.6 L1209.2,550.6 L1209.7,550.6 L1210.2,550.5 L1210.7,550.5 L1211.2,550.5 L1211.7,550.5 L1212.2,550.5 L1212.7,550.5 L1213.2,550.5 L1213.7,550.5 L1214.2,550.5 L1214.7,550.5 L1215.2,550.5 L1215.7,550.4 L1216.2,550.4 L1216.7,550.4 L1217.2,550.4 L1217.7,550.4 L1218.2,550.4 L1218.7,550.4 L1219.2,550.4 L1219.7,550.4 L1220.2,550.4 L1220.7,550.4 L1221.2,550.3 L1221.7,550.3 L1222.2,550.3 L1222.7,550.3 L1223.2,550.3 L1223.7,550.3 L1224.2,550.3 L1224.7,550.3 L1225.2,550.3 L1225.7,550.3 L1226.2,550.3 L1226.7,550.2 L1227.2,550.2 L1227.7,550.2 L1228.2,550.2 L1228.7,550.2 L1229.2,550.2 L1229.7,550.2 L1230.2,550.2 L1230.7,550.2 L1231.2,550.2 L1231.7,550.2 L1232.2,550.1 L1232.7,550.1 L1233.2,550.1 L1233.7,550.1 L1234.2,550.1 L1234.7,550.1 L1235.2,550.1 L1235.7,550.1 L1236.2,550.1 L1236.7,550.1 L1237.2,550.1 L1237.7,550.0 L1238.2,550.0 L1238.7,550.0 L1239.2,550.0 L1239.7,550.0 L1240.2,550.0 L1240.7,549.9 L1241.2,549.9 L1241.7,549.8 L1242.2,549.8 L1242.7,549.7 L1243.2,549.7 L1243.7,549.6 L1244.2,549.5 L1244.7,549.5 L1245.2,549.4 L1245.7,549.4 L1246.2,549.3 L1246.7,549.3 L1247.2,549.2 L1247.7,549.2 L1248.2,549.1 L1248.7,549.1 L1249.2,549.0 L1249.7,548.9 L1250.2,548.9 L1250.7,548.8 L1251.2,548.8 L1251.7,548.7 L1252.2,548.7 L1252.7,548.6 L1253.2,548.6 L1253.7,548.5 L1254.2,548.5 L1254.7,548.4 L1255.2,548.3 L1255.7,548.3 L1256.2,548.2 L1256.7,548.2 L1257.2,548.1 L1257.7,548.1 L1258.2,548.0 L1258.7,548.0 L1259.2,547.9 L1259.7,547.9 L1260.2,547.8 L1260.7,547.7 L1261.2,547.7 L1261.7,547.6 L1262.2,547.6 L1262.7,547.6 L1263.2,547.6 L1263.7,547.6 L1264.2,547.6 L1264.7,547.6 L1265.2,547.5 L1265.7,547.5 L1266.2,547.5 L1266.7,547.5 L1267.2,547.5 L1267.7,547.5 L1268.2,547.5 L1268.7,547.5 L1269.2,547.5 L1269.7,547.5 L1270.2,547.5 L1270.7,547.5 L1271.2,547.5 L1271.7,547.4 L1272.2,547.4 L1272.7,547.4 L1273.2,547.4 L1273.7,547.4 L1274.2,547.4 L1274.7,547.4 L1275.2,547.4 L1275.7,547.4 L1276.2,547.4 L1276.7,547.4 L1277.2,547.4 L1277.7,547.4 L1278.2,547.3 L1278.7,547.3 L1279.2,547.3 L1279.7,547.3 L1280.2,547.3 L1280.7,547.3 L1281.2,547.3 L1281.7,547.3 L1282.2,547.3 L1282.7,547.3 L1283.2,547.3 L1283.7,547.3 L1284.2,547.2 L1284.7,547.2 L1285.2,547.2 L1285.7,547.2 L1286.2,547.2 L1286.7,547.2 L1287.2,547.2 L1287.7,547.2 L1288.2,547.2 L1288.7,547.2 L1289.2,547.2 L1289.7,547.2 L1290.2,547.2 L1290.7,547.1 L1291.2,547.1 L1291.7,547.1 L1292.2,547.1 L1292.7,547.1 L1293.2,547.1 L1293.7,547.1 L1294.2,547.1 L1294.7,547.1 L1295.2,547.1 L1295.7,547.1 L1296.2,547.1 L1296.7,547.1 L1297.2,547.0 L1297.7,547.0 L1298.2,547.0 L1298.7,547.0 L1299.2,547.0 L1299.7,547.0 L1300.2,547.0 L1300.7,546.9 L1301.2,546.9 L1301.7,546.9 L1302.2,546.8 L1302.7,546.8 L1303.2,546.8 L1303.7,546.7 L1304.2,546.7 L1304.7,546.6 L1305.2,546.6 L1305.7,546.6 L1306.2,546.5 L1306.7,546.5 L1307.2,546.5 L1307.7,546.4 L1308.2,546.4 L1308.7,546.3 L1309.2,546.3 L1309.7,546.3 L1310.2,546.2 L1310.7,546.2 L1311.2,546.2 L1311.7,546.1 L1312.2,546.1 L1312.7,546.0 L1313.2,546.0 L1313.7,546.0 L1314.2,545.9 L1314.7,545.9 L1315.2,545.9 L1315.7,545.8 L1316.2,545.8 L1316.7,545.7 L1317.2,545.7 L1317.7,545.7 L1318.2,545.6 L1318.7,545.6 L1319.2,545.6 L1319.7,545.5 L1320.2,545.5 L1320.7,545.4 L1321.2,545.4 L1321.7,545.4 L1322.2,545.3 L1322.7,545.3 L1323.2,545.3 L1323.7,545.2 L1324.2,545.2 L1324.7,545.1 L1325.2,545.1 L1325.7,545.1 L1326.2,545.0 L1326.7,545.0 L1327.2,545.0 L1327.7,544.9 L1328.2,544.9 L1328.7,544.8 L1329.2,544.8 L1329.7,544.8 L1330.2,544.7 L1330.7,544.7 L1331.2,544.7 L1331.7,544.6 L1332.2,544.6 L1332.7,544.5 L1333.2,544.5 L1333.7,544.5 L1334.2,544.4 L1334.7,544.4 L1335.2,544.4 L1335.7,544.3 L1336.2,544.3 L1336.7,544.2 L1337.2,544.2 L1337.7,544.2 L1338.2,544.1 L1338.7,544.1 L1339.2,544.1 L1339.7,544.0 L1340.2,544.0 L1340.7,543.9 L1341.2,543.9 L1341.7,543.9 L1342.2,543.8 L1342.7,543.8 L1343.2,543.8 L1343.7,543.7 L1344.2,543.7 L1344.7,543.6 L1345.2,543.6 L1345.7,543.6 L1346.2,543.5 L1346.7,543.5 L1347.2,543.5 L1347.7,543.4 L1348.2,543.4 L1348.7,543.3 L1349.2,543.3 L1349.7,543.3 L1350.2,543.2 L1350.7,543.2 L1351.2,543.2 L1351.7,543.1 L1352.2,543.1 L1352.7,543.0 L1353.2,543.0 L1353.7,543.0 L1354.2,542.9 L1354.7,542.9 L1355.2,542.9 L1355.7,542.8 L1356.2,542.8 L1356.7,542.7 L1357.2,542.7 L1357.7,542.7 L1358.2,542.6 L1358.7,542.6 L1359.2,542.6 L1359.7,542.5 L1360.2,542.5 L1360.7,542.5 L1361.2,542.4 L1361.7,542.4 L1362.2,542.4 L1362.7,542.4 L1363.2,542.3 L1363.7,542.3 L1364.2,542.3 L1364.7,542.3 L1365.2,542.2 L1365.7,542.2 L1366.2,542.2 L1366.7,542.2 L1367.2,542.1 L1367.7,542.1 L1368.2,542.1 L1368.7,542.0 L1369.2,542.0 L1369.7,542.0 L1370.2,542.0 L1370.7,541.9 L1371.2,541.9 L1371.7,541.9 L1372.2,541.9 L1372.7,541.8 L1373.2,541.8 L1373.7,541.8 L1374.2,541.8 L1374.7,541.7 L1375.2,541.7 L1375.7,541.7 L1376.2,541.7 L1376.7,541.6 L1377.2,541.6 L1377.7,541.6 L1378.2,541.6 L1378.7,541.5 L1379.2,541.5 L1379.7,541.5 L1380.2,541.5 L1380.7,541.4 L1381.2,541.4 L1381.7,541.4 L1382.2,541.3 L1382.7,541.3 L1383.2,541.3 L1383.7,541.3 L1384.2,541.2 L1384.7,541.2 L1385.2,541.2 L1385.7,541.2 L1386.2,541.1 L1386.7,541.1 L1387.2,541.1 L1387.7,541.1 L1388.2,541.0 L1388.7,541.0 L1389.2,541.0 L1389.7,541.0 L1390.2,540.9 L1390.7,540.9 L1391.2,540.9 L1391.7,540.9 L1392.2,540.8 L1392.7,540.8 L1393.2,540.8 L1393.7,540.8 L1394.2,540.7 L1394.7,540.7 L1395.2,540.7 L1395.7,540.6 L1396.2,540.6 L1396.7,540.6 L1397.2,540.6 L1397.7,540.5 L1398.2,540.5 L1398.7,540.5 L1399.2,540.5 L1399.7,540.4 L1400.2,540.4 L1400.7,540.4 L1401.2,540.4 L1401.7,540.3 L1402.2,540.3 L1402.7,540.3 L1403.2,540.3 L1403.7,540.2 L1404.2,540.2 L1404.7,540.2 L1405.2,540.2 L1405.7,540.1 L1406.2,540.1 L1406.7,540.1 L1407.2,540.1 L1407.7,540.0 L1408.2,540.0 L1408.7,540.0 L1409.2,539.9 L1409.7,539.9 L1410.2,539.9 L1410.7,539.9 L1411.2,539.8 L1411.7,539.8 L1412.2,539.8 L1412.7,539.8 L1413.2,539.7 L1413.7,539.7 L1414.2,539.7 L1414.7,539.7 L1415.2,539.6 L1415.7,539.6 L1416.2,539.6 L1416.7,539.6 L1417.2,539.5 L1417.7,539.5 L1418.2,539.5 L1418.7,539.5 L1419.2,539.4 L1419.7,539.4 L1420.2,539.4 L1420.7,539.3 L1421.2,539.3 L1421.7,539.3 L1422.2,539.3 L1422.7,539.2 L1423.2,539.2 L1423.7,539.2 L1424.2,539.2 L1424.7,539.1 L1425.2,539.1 L1425.7,539.1 L1426.2,539.1 L1426.7,539.0 L1427.2,539.0 L1427.7,539.0 L1428.2,539.0 L1428.7,538.9 L1429.2,538.9 L1429.7,538.9 L1430.2,538.9 L1430.7,538.8 L1431.2,538.8 L1431.7,538.8 L1432.2,538.8 L1432.7,538.7 L1433.2,538.7 L1433.7,538.7 L1434.2,538.6 L1434.7,538.6 L1435.2,538.6 L1435.7,538.6 L1436.2,538.5 L1436.7,538.5 L1437.2,538.5 L1437.7,538.5 L1438.2,538.4 L1438.7,538.4 L1439.0,652 L1036.2,652 Z" fill="#fff" stroke="none"/>
<path d="M1036.2,556.3 L1036.7,556.3 L1037.2,556.3 L1037.7,556.3 L1038.2,556.3 L1038.7,556.3 L1039.2,556.3 L1039.7,556.3 L1040.2,556.3 L1040.7,556.3 L1041.2,556.3 L1041.7,556.3 L1042.2,556.3 L1042.7,556.3 L1043.2,556.3 L1043.7,556.3 L1044.2,556.3 L1044.7,556.3 L1045.2,556.3 L1045.7,556.3 L1046.2,556.3 L1046.7,556.3 L1047.2,556.4 L1047.7,556.4 L1048.2,556.4 L1048.7,556.4 L1049.2,556.4 L1049.7,556.4 L1050.2,556.4 L1050.7,556.4 L1051.2,556.4 L1051.7,556.4 L1052.2,556.4 L1052.7,556.4 L1053.2,556.4 L1053.7,556.4 L1054.2,556.4 L1054.7,556.4 L1055.2,556.4 L1055.7,556.4 L1056.2,556.4 L1056.7,556.4 L1057.2,556.4 L1057.7,556.4 L1058.2,556.4 L1058.7,556.4 L1059.2,556.4 L1059.7,556.4 L1060.2,556.4 L1060.7,556.4 L1061.2,556.4 L1061.7,556.4 L1062.2,556.4 L1062.7,556.4 L1063.2,556.4 L1063.7,556.4 L1064.2,556.4 L1064.7,556.4 L1065.2,556.4 L1065.7,556.4 L1066.2,556.4 L1066.7,556.4 L1067.2,556.4 L1067.7,556.4 L1068.2,556.5 L1068.7,556.5 L1069.2,556.5 L1069.7,556.5 L1070.2,556.5 L1070.7,556.5 L1071.2,556.5 L1071.7,556.5 L1072.2,556.5 L1072.7,556.5 L1073.2,556.5 L1073.7,556.5 L1074.2,556.5 L1074.7,556.5 L1075.2,556.5 L1075.7,556.5 L1076.2,556.5 L1076.7,556.5 L1077.2,556.5 L1077.7,556.5 L1078.2,556.5 L1078.7,556.5 L1079.2,556.5 L1079.7,556.5 L1080.2,556.5 L1080.7,556.5 L1081.2,556.5 L1081.7,556.5 L1082.2,556.5 L1082.7,556.5 L1083.2,556.5 L1083.7,556.5 L1084.2,556.5 L1084.7,556.5 L1085.2,556.5 L1085.7,556.5 L1086.2,556.5 L1086.7,556.5 L1087.2,556.5 L1087.7,556.5 L1088.2,556.5 L1088.7,556.5 L1089.2,556.5 L1089.7,556.6 L1090.2,556.6 L1090.7,556.6 L1091.2,556.6 L1091.7,556.6 L1092.2,556.6 L1092.7,556.6 L1093.2,556.6 L1093.7,556.6 L1094.2,556.6 L1094.7,556.6 L1095.2,556.6 L1095.7,556.6 L1096.2,556.6 L1096.7,556.6 L1097.2,556.6 L1097.7,556.6 L1098.2,556.6 L1098.7,556.6 L1099.2,556.6 L1099.7,556.6 L1100.2,556.6 L1100.7,556.5 L1101.2,556.4 L1101.7,556.3 L1102.2,556.2 L1102.7,556.1 L1103.2,556.0 L1103.7,555.9 L1104.2,555.9 L1104.7,555.8 L1105.2,555.7 L1105.7,555.6 L1106.2,555.5 L1106.7,555.4 L1107.2,555.3 L1107.7,555.2 L1108.2,555.1 L1108.7,555.1 L1109.2,555.0 L1109.7,554.9 L1110.2,554.8 L1110.7,554.7 L1111.2,554.6 L1111.7,554.5 L1112.2,554.4 L1112.7,554.3 L1113.2,554.3 L1113.7,554.2 L1114.2,554.1 L1114.7,554.0 L1115.2,553.9 L1115.7,553.8 L1116.2,553.7 L1116.7,553.6 L1117.2,553.5 L1117.7,553.4 L1118.2,553.3 L1118.7,553.1 L1119.2,553.0 L1119.7,552.9 L1120.2,552.7 L1120.7,552.6 L1121.2,552.4 L1121.7,552.2 L1122.2,552.0 L1122.7,551.8 L1123.2,551.6 L1123.7,551.4 L1124.2,551.1 L1124.7,550.9 L1125.2,550.6 L1125.7,550.3 L1126.2,550.1 L1126.7,549.9 L1127.2,549.7 L1127.7,549.5 L1128.2,549.4 L1128.7,549.2 L1129.2,549.1 L1129.7,549.0 L1130.2,548.9 L1130.7,548.9 L1131.2,548.8 L1131.7,548.8 L1132.2,548.9 L1132.7,548.9 L1133.2,549.0 L1133.7,549.1 L1134.2,549.3 L1134.7,549.4 L1135.2,549.5 L1135.7,549.7 L1136.2,549.8 L1136.7,549.9 L1137.2,550.0 L1137.7,550.1 L1138.2,550.1 L1138.7,550.1 L1139.2,550.0 L1139.7,549.8 L1140.2,549.6 L1140.7,549.3 L1141.2,548.8 L1141.7,548.3 L1142.2,547.5 L1142.7,546.6 L1143.2,545.5 L1143.7,544.1 L1144.2,542.4 L1144.7,540.4 L1145.2,538.1 L1145.7,535.3 L1146.2,532.1 L1146.7,528.4 L1147.2,524.2 L1147.7,519.5 L1148.2,514.2 L1148.7,508.3 L1149.2,501.9 L1149.7,494.9 L1150.2,487.3 L1150.7,479.2 L1151.2,470.6 L1151.7,461.7 L1152.2,452.5 L1152.7,443.0 L1153.2,433.5 L1153.7,424.1 L1154.2,414.8 L1154.7,405.9 L1155.2,397.5 L1155.7,389.7 L1156.2,382.7 L1156.7,376.6 L1157.2,371.6 L1157.7,367.7 L1158.2,365.0 L1158.7,363.5 L1159.2,363.4 L1159.7,364.0 L1160.2,365.4 L1160.7,367.5 L1161.2,370.3 L1161.7,373.7 L1162.2,377.7 L1162.7,382.3 L1163.2,387.5 L1163.7,393.0 L1164.2,399.0 L1164.7,405.4 L1165.2,412.0 L1165.7,418.8 L1166.2,425.8 L1166.7,432.9 L1167.2,440.0 L1167.7,447.1 L1168.2,454.1 L1168.7,461.0 L1169.2,467.8 L1169.7,474.3 L1170.2,480.6 L1170.7,486.6 L1171.2,492.4 L1171.7,497.8 L1172.2,503.0 L1172.7,507.8 L1173.2,512.2 L1173.7,516.4 L1174.2,520.2 L1174.7,523.7 L1175.2,526.9 L1175.7,529.8 L1176.2,532.5 L1176.7,534.8 L1177.2,537.0 L1177.7,538.8 L1178.2,540.5 L1178.7,542.0 L1179.2,543.3 L1179.7,544.4 L1180.2,545.4 L1180.7,546.3 L1181.2,547.0 L1181.7,547.7 L1182.2,548.2 L1182.7,548.7 L1183.2,549.1 L1183.7,549.4 L1184.2,549.7 L1184.7,549.9 L1185.2,550.1 L1185.7,550.3 L1186.2,550.4 L1186.7,550.5 L1187.2,550.6 L1187.7,550.6 L1188.2,550.7 L1188.7,550.7 L1189.2,550.8 L1189.7,550.8 L1190.2,550.8 L1190.7,550.8 L1191.2,550.8 L1191.7,550.8 L1192.2,550.8 L1192.7,550.8 L1193.2,550.8 L1193.7,550.8 L1194.2,550.8 L1194.7,550.8 L1195.2,550.8 L1195.7,550.8 L1196.2,550.8 L1196.7,550.8 L1197.2,550.8 L1197.7,550.8 L1198.2,550.8 L1198.7,550.8 L1199.2,550.7 L1199.7,550.7 L1200.2,550.7 L1200.7,550.7 L1201.2,550.7 L1201.7,550.7 L1202.2,550.7 L1202.7,550.7 L1203.2,550.7 L1203.7,550.7 L1204.2,550.7 L1204.7,550.6 L1205.2,550.6 L1205.7,550.6 L1206.2,550.6 L1206.7,550.6 L1207.2,550.6 L1207.7,550.6 L1208.2,550.6 L1208.7,550.6 L1209.2,550.6 L1209.7,550.6 L1210.2,550.5 L1210.7,550.5 L1211.2,550.5 L1211.7,550.5 L1212.2,550.5 L1212.7,550.5 L1213.2,550.5 L1213.7,550.5 L1214.2,550.5 L1214.7,550.5 L1215.2,550.5 L1215.7,550.4 L1216.2,550.4 L1216.7,550.4 L1217.2,550.4 L1217.7,550.4 L1218.2,550.4 L1218.7,550.4 L1219.2,550.4 L1219.7,550.4 L1220.2,550.4 L1220.7,550.4 L1221.2,550.3 L1221.7,550.3 L1222.2,550.3 L1222.7,550.3 L1223.2,550.3 L1223.7,550.3 L1224.2,550.3 L1224.7,550.3 L1225.2,550.3 L1225.7,550.3 L1226.2,550.3 L1226.7,550.2 L1227.2,550.2 L1227.7,550.2 L1228.2,550.2 L1228.7,550.2 L1229.2,550.2 L1229.7,550.2 L1230.2,550.2 L1230.7,550.2 L1231.2,550.2 L1231.7,550.2 L1232.2,550.1 L1232.7,550.1 L1233.2,550.1 L1233.7,550.1 L1234.2,550.1 L1234.7,550.1 L1235.2,550.1 L1235.7,550.1 L1236.2,550.1 L1236.7,550.1 L1237.2,550.1 L1237.7,550.0 L1238.2,550.0 L1238.7,550.0 L1239.2,550.0 L1239.7,550.0 L1240.2,550.0 L1240.7,549.9 L1241.2,549.9 L1241.7,549.8 L1242.2,549.8 L1242.7,549.7 L1243.2,549.7 L1243.7,549.6 L1244.2,549.5 L1244.7,549.5 L1245.2,549.4 L1245.7,549.4 L1246.2,549.3 L1246.7,549.3 L1247.2,549.2 L1247.7,549.2 L1248.2,549.1 L1248.7,549.1 L1249.2,549.0 L1249.7,548.9 L1250.2,548.9 L1250.7,548.8 L1251.2,548.8 L1251.7,548.7 L1252.2,548.7 L1252.7,548.6 L1253.2,548.6 L1253.7,548.5 L1254.2,548.5 L1254.7,548.4 L1255.2,548.3 L1255.7,548.3 L1256.2,548.2 L1256.7,548.2 L1257.2,548.1 L1257.7,548.1 L1258.2,548.0 L1258.7,548.0 L1259.2,547.9 L1259.7,547.9 L1260.2,547.8 L1260.7,547.7 L1261.2,547.7 L1261.7,547.6 L1262.2,547.6 L1262.7,547.6 L1263.2,547.6 L1263.7,547.6 L1264.2,547.6 L1264.7,547.6 L1265.2,547.5 L1265.7,547.5 L1266.2,547.5 L1266.7,547.5 L1267.2,547.5 L1267.7,547.5 L1268.2,547.5 L1268.7,547.5 L1269.2,547.5 L1269.7,547.5 L1270.2,547.5 L1270.7,547.5 L1271.2,547.5 L1271.7,547.4 L1272.2,547.4 L1272.7,547.4 L1273.2,547.4 L1273.7,547.4 L1274.2,547.4 L1274.7,547.4 L1275.2,547.4 L1275.7,547.4 L1276.2,547.4 L1276.7,547.4 L1277.2,547.4 L1277.7,547.4 L1278.2,547.3 L1278.7,547.3 L1279.2,547.3 L1279.7,547.3 L1280.2,547.3 L1280.7,547.3 L1281.2,547.3 L1281.7,547.3 L1282.2,547.3 L1282.7,547.3 L1283.2,547.3 L1283.7,547.3 L1284.2,547.2 L1284.7,547.2 L1285.2,547.2 L1285.7,547.2 L1286.2,547.2 L1286.7,547.2 L1287.2,547.2 L1287.7,547.2 L1288.2,547.2 L1288.7,547.2 L1289.2,547.2 L1289.7,547.2 L1290.2,547.2 L1290.7,547.1 L1291.2,547.1 L1291.7,547.1 L1292.2,547.1 L1292.7,547.1 L1293.2,547.1 L1293.7,547.1 L1294.2,547.1 L1294.7,547.1 L1295.2,547.1 L1295.7,547.1 L1296.2,547.1 L1296.7,547.1 L1297.2,547.0 L1297.7,547.0 L1298.2,547.0 L1298.7,547.0 L1299.2,547.0 L1299.7,547.0 L1300.2,547.0 L1300.7,546.9 L1301.2,546.9 L1301.7,546.9 L1302.2,546.8 L1302.7,546.8 L1303.2,546.8 L1303.7,546.7 L1304.2,546.7 L1304.7,546.6 L1305.2,546.6 L1305.7,546.6 L1306.2,546.5 L1306.7,546.5 L1307.2,546.5 L1307.7,546.4 L1308.2,546.4 L1308.7,546.3 L1309.2,546.3 L1309.7,546.3 L1310.2,546.2 L1310.7,546.2 L1311.2,546.2 L1311.7,546.1 L1312.2,546.1 L1312.7,546.0 L1313.2,546.0 L1313.7,546.0 L1314.2,545.9 L1314.7,545.9 L1315.2,545.9 L1315.7,545.8 L1316.2,545.8 L1316.7,545.7 L1317.2,545.7 L1317.7,545.7 L1318.2,545.6 L1318.7,545.6 L1319.2,545.6 L1319.7,545.5 L1320.2,545.5 L1320.7,545.4 L1321.2,545.4 L1321.7,545.4 L1322.2,545.3 L1322.7,545.3 L1323.2,545.3 L1323.7,545.2 L1324.2,545.2 L1324.7,545.1 L1325.2,545.1 L1325.7,545.1 L1326.2,545.0 L1326.7,545.0 L1327.2,545.0 L1327.7,544.9 L1328.2,544.9 L1328.7,544.8 L1329.2,544.8 L1329.7,544.8 L1330.2,544.7 L1330.7,544.7 L1331.2,544.7 L1331.7,544.6 L1332.2,544.6 L1332.7,544.5 L1333.2,544.5 L1333.7,544.5 L1334.2,544.4 L1334.7,544.4 L1335.2,544.4 L1335.7,544.3 L1336.2,544.3 L1336.7,544.2 L1337.2,544.2 L1337.7,544.2 L1338.2,544.1 L1338.7,544.1 L1339.2,544.1 L1339.7,544.0 L1340.2,544.0 L1340.7,543.9 L1341.2,543.9 L1341.7,543.9 L1342.2,543.8 L1342.7,543.8 L1343.2,543.8 L1343.7,543.7 L1344.2,543.7 L1344.7,543.6 L1345.2,543.6 L1345.7,543.6 L1346.2,543.5 L1346.7,543.5 L1347.2,543.5 L1347.7,543.4 L1348.2,543.4 L1348.7,543.3 L1349.2,543.3 L1349.7,543.3 L1350.2,543.2 L1350.7,543.2 L1351.2,543.2 L1351.7,543.1 L1352.2,543.1 L1352.7,543.0 L1353.2,543.0 L1353.7,543.0 L1354.2,542.9 L1354.7,542.9 L1355.2,542.9 L1355.7,542.8 L1356.2,542.8 L1356.7,542.7 L1357.2,542.7 L1357.7,542.7 L1358.2,542.6 L1358.7,542.6 L1359.2,542.6 L1359.7,542.5 L1360.2,542.5 L1360.7,542.5 L1361.2,542.4 L1361.7,542.4 L1362.2,542.4 L1362.7,542.4 L1363.2,542.3 L1363.7,542.3 L1364.2,542.3 L1364.7,542.3 L1365.2,542.2 L1365.7,542.2 L1366.2,542.2 L1366.7,542.2 L1367.2,542.1 L1367.7,542.1 L1368.2,542.1 L1368.7,542.0 L1369.2,542.0 L1369.7,542.0 L1370.2,542.0 L1370.7,541.9 L1371.2,541.9 L1371.7,541.9 L1372.2,541.9 L1372.7,541.8 L1373.2,541.8 L1373.7,541.8 L1374.2,541.8 L1374.7,541.7 L1375.2,541.7 L1375.7,541.7 L1376.2,541.7 L1376.7,541.6 L1377.2,541.6 L1377.7,541.6 L1378.2,541.6 L1378.7,541.5 L1379.2,541.5 L1379.7,541.5 L1380.2,541.5 L1380.7,541.4 L1381.2,541.4 L1381.7,541.4 L1382.2,541.3 L1382.7,541.3 L1383.2,541.3 L1383.7,541.3 L1384.2,541.2 L1384.7,541.2 L1385.2,541.2 L1385.7,541.2 L1386.2,541.1 L1386.7,541.1 L1387.2,541.1 L1387.7,541.1 L1388.2,541.0 L1388.7,541.0 L1389.2,541.0 L1389.7,541.0 L1390.2,540.9 L1390.7,540.9 L1391.2,540.9 L1391.7,540.9 L1392.2,540.8 L1392.7,540.8 L1393.2,540.8 L1393.7,540.8 L1394.2,540.7 L1394.7,540.7 L1395.2,540.7 L1395.7,540.6 L1396.2,540.6 L1396.7,540.6 L1397.2,540.6 L1397.7,540.5 L1398.2,540.5 L1398.7,540.5 L1399.2,540.5 L1399.7,540.4 L1400.2,540.4 L1400.7,540.4 L1401.2,540.4 L1401.7,540.3 L1402.2,540.3 L1402.7,540.3 L1403.2,540.3 L1403.7,540.2 L1404.2,540.2 L1404.7,540.2 L1405.2,540.2 L1405.7,540.1 L1406.2,540.1 L1406.7,540.1 L1407.2,540.1 L1407.7,540.0 L1408.2,540.0 L1408.7,540.0 L1409.2,539.9 L1409.7,539.9 L1410.2,539.9 L1410.7,539.9 L1411.2,539.8 L1411.7,539.8 L1412.2,539.8 L1412.7,539.8 L1413.2,539.7 L1413.7,539.7 L1414.2,539.7 L1414.7,539.7 L1415.2,539.6 L1415.7,539.6 L1416.2,539.6 L1416.7,539.6 L1417.2,539.5 L1417.7,539.5 L1418.2,539.5 L1418.7,539.5 L1419.2,539.4 L1419.7,539.4 L1420.2,539.4 L1420.7,539.3 L1421.2,539.3 L1421.7,539.3 L1422.2,539.3 L1422.7,539.2 L1423.2,539.2 L1423.7,539.2 L1424.2,539.2 L1424.7,539.1 L1425.2,539.1 L1425.7,539.1 L1426.2,539.1 L1426.7,539.0 L1427.2,539.0 L1427.7,539.0 L1428.2,539.0 L1428.7,538.9 L1429.2,538.9 L1429.7,538.9 L1430.2,538.9 L1430.7,538.8 L1431.2,538.8 L1431.7,538.8 L1432.2,538.8 L1432.7,538.7 L1433.2,538.7 L1433.7,538.7 L1434.2,538.6 L1434.7,538.6 L1435.2,538.6 L1435.7,538.6 L1436.2,538.5 L1436.7,538.5 L1437.2,538.5 L1437.7,538.5 L1438.2,538.4 L1438.7,538.4" fill="none" stroke="#a3178f" stroke-width="2.5" stroke-linejoin="round"/>
<path d="M1012.6,634.3 L1013.1,634.3 L1013.6,634.3 L1014.1,634.3 L1014.6,634.3 L1015.1,634.3 L1015.6,634.3 L1016.1,634.3 L1016.6,634.3 L1017.1,634.3 L1017.6,634.3 L1018.1,634.3 L1018.6,634.3 L1019.1,634.3 L1019.6,634.3 L1020.1,634.3 L1020.6,634.3 L1021.1,634.3 L1021.6,634.3 L1022.1,634.3 L1022.6,634.3 L1023.1,634.3 L1023.6,634.3 L1024.1,634.2 L1024.6,634.2 L1025.1,634.2 L1025.6,634.2 L1026.1,634.2 L1026.6,634.2 L1027.1,634.2 L1027.6,634.2 L1028.1,634.2 L1028.6,634.2 L1029.1,634.2 L1029.6,634.2 L1030.1,634.2 L1030.6,634.2 L1031.1,634.2 L1031.6,634.2 L1032.1,634.2 L1032.6,634.2 L1033.1,634.2 L1033.6,634.2 L1034.1,634.2 L1034.6,634.2 L1035.1,634.2 L1035.6,634.2 L1036.1,634.2 L1036.6,634.2 L1037.1,634.2 L1037.6,634.2 L1038.1,634.2 L1038.6,634.2 L1039.1,634.2 L1039.6,634.2 L1040.1,634.2 L1040.6,634.2 L1041.1,634.2 L1041.6,634.2 L1042.1,634.2 L1042.6,634.2 L1043.1,634.2 L1043.6,634.2 L1044.1,634.2 L1044.6,634.2 L1045.1,634.2 L1045.6,634.2 L1046.1,634.2 L1046.6,634.1 L1047.1,634.1 L1047.6,634.1 L1048.1,634.1 L1048.6,634.1 L1049.1,634.1 L1049.6,634.1 L1050.1,634.1 L1050.6,634.1 L1051.1,634.1 L1051.6,634.1 L1052.1,634.1 L1052.6,634.1 L1053.1,634.1 L1053.6,634.1 L1054.1,634.1 L1054.6,634.1 L1055.1,634.1 L1055.6,634.1 L1056.1,634.1 L1056.6,634.1 L1057.1,634.1 L1057.6,634.1 L1058.1,634.1 L1058.6,634.1 L1059.1,634.1 L1059.6,634.1 L1060.1,634.1 L1060.6,634.1 L1061.1,634.1 L1061.6,634.1 L1062.1,634.1 L1062.6,634.1 L1063.1,634.1 L1063.6,634.1 L1064.1,634.1 L1064.6,634.1 L1065.1,634.1 L1065.6,634.1 L1066.1,634.1 L1066.6,634.1 L1067.1,634.1 L1067.6,634.1 L1068.1,634.1 L1068.6,634.1 L1069.1,634.0 L1069.6,634.0 L1070.1,634.0 L1070.6,634.0 L1071.1,634.0 L1071.6,634.0 L1072.1,634.0 L1072.6,634.0 L1073.1,634.0 L1073.6,634.0 L1074.1,634.0 L1074.6,634.0 L1075.1,634.0 L1075.6,634.0 L1076.1,634.0 L1076.6,634.0 L1077.1,634.0 L1077.6,634.0 L1078.1,634.0 L1078.6,634.0 L1079.1,634.0 L1079.6,634.0 L1080.1,634.0 L1080.6,634.0 L1081.1,633.9 L1081.6,633.9 L1082.1,633.9 L1082.6,633.9 L1083.1,633.8 L1083.6,633.8 L1084.1,633.8 L1084.6,633.8 L1085.1,633.7 L1085.6,633.7 L1086.1,633.7 L1086.6,633.7 L1087.1,633.6 L1087.6,633.6 L1088.1,633.6 L1088.6,633.5 L1089.1,633.5 L1089.6,633.5 L1090.1,633.4 L1090.6,633.4 L1091.1,633.3 L1091.6,633.2 L1092.1,633.2 L1092.6,633.1 L1093.1,633.0 L1093.6,632.9 L1094.1,632.7 L1094.6,632.6 L1095.1,632.4 L1095.6,632.2 L1096.1,632.0 L1096.6,631.8 L1097.1,631.6 L1097.6,631.4 L1098.1,631.1 L1098.6,630.8 L1099.1,630.6 L1099.6,630.3 L1100.1,630.0 L1100.6,629.8 L1101.1,629.6 L1101.6,629.3 L1102.1,629.2 L1102.6,629.0 L1103.1,628.9 L1103.6,628.8 L1104.1,628.8 L1104.6,628.8 L1105.1,628.8 L1105.6,628.9 L1106.1,629.0 L1106.6,629.1 L1107.1,629.3 L1107.6,629.5 L1108.1,629.7 L1108.6,629.9 L1109.1,630.1 L1109.6,630.3 L1110.1,630.5 L1110.6,630.7 L1111.1,630.9 L1111.6,631.1 L1112.1,631.3 L1112.6,631.4 L1113.1,631.5 L1113.6,631.6 L1114.1,631.7 L1114.6,631.8 L1115.1,631.8 L1115.6,631.9 L1116.1,631.9 L1116.6,631.9 L1117.1,631.9 L1117.6,631.9 L1118.1,631.9 L1118.6,631.9 L1119.1,631.9 L1119.6,631.9 L1120.1,631.9 L1120.6,631.9 L1121.1,631.9 L1121.6,631.8 L1122.1,631.7 L1122.6,631.6 L1123.1,631.5 L1123.6,631.3 L1124.1,631.0 L1124.6,630.7 L1125.1,630.3 L1125.6,629.8 L1126.1,629.2 L1126.6,628.5 L1127.1,627.7 L1127.6,626.7 L1128.1,625.6 L1128.6,624.4 L1129.1,623.0 L1129.6,621.5 L1130.1,619.9 L1130.6,618.3 L1131.1,616.6 L1131.6,614.9 L1132.1,613.3 L1132.6,611.8 L1133.1,610.4 L1133.6,609.2 L1134.1,608.3 L1134.6,607.6 L1135.1,607.2 L1135.6,607.1 L1136.1,607.2 L1136.6,607.4 L1137.1,607.7 L1137.6,608.1 L1138.1,608.6 L1138.6,609.2 L1139.1,609.9 L1139.6,610.6 L1140.1,611.4 L1140.6,612.3 L1141.1,613.2 L1141.6,614.2 L1142.1,615.2 L1142.6,616.2 L1143.1,617.2 L1143.6,618.2 L1144.1,619.2 L1144.6,620.2 L1145.1,621.2 L1145.6,622.1 L1146.1,623.0 L1146.6,623.8 L1147.1,624.6 L1147.6,625.4 L1148.1,626.1 L1148.6,626.8 L1149.1,627.4 L1149.6,628.0 L1150.1,628.5 L1150.6,628.9 L1151.1,629.4 L1151.6,629.7 L1152.1,630.1 L1152.6,630.4 L1153.1,630.7 L1153.6,630.9 L1154.1,631.1 L1154.6,631.3 L1155.1,631.4 L1155.6,631.6 L1156.1,631.7 L1156.6,631.8 L1157.1,631.9 L1157.6,632.0 L1158.1,632.0 L1158.6,632.1 L1159.1,632.1 L1159.6,632.2 L1160.1,632.2 L1160.6,632.2 L1161.1,632.2 L1161.6,632.2 L1162.1,632.2 L1162.6,632.2 L1163.1,632.1 L1163.6,632.1 L1164.1,632.1 L1164.6,632.1 L1165.1,632.1 L1165.6,632.1 L1166.1,632.0 L1166.6,632.0 L1167.1,632.0 L1167.6,632.0 L1168.1,632.0 L1168.6,632.0 L1169.1,631.9 L1169.6,631.9 L1170.1,631.9 L1170.6,631.9 L1171.1,631.9 L1171.6,631.8 L1172.1,631.8 L1172.6,631.8 L1173.1,631.8 L1173.6,631.8 L1174.1,631.7 L1174.6,631.7 L1175.1,631.7 L1175.6,631.7 L1176.1,631.7 L1176.6,631.6 L1177.1,631.6 L1177.6,631.6 L1178.1,631.6 L1178.6,631.6 L1179.1,631.5 L1179.6,631.5 L1180.1,631.5 L1180.6,631.5 L1181.1,631.5 L1181.6,631.4 L1182.1,631.4 L1182.6,631.4 L1183.1,631.4 L1183.6,631.4 L1184.1,631.3 L1184.6,631.3 L1185.1,631.3 L1185.6,631.3 L1186.1,631.3 L1186.6,631.2 L1187.1,631.2 L1187.6,631.2 L1188.1,631.2 L1188.6,631.2 L1189.1,631.1 L1189.6,631.1 L1190.1,631.1 L1190.6,631.1 L1191.1,631.1 L1191.6,631.0 L1192.1,631.0 L1192.6,631.0 L1193.1,631.0 L1193.6,631.0 L1194.1,630.9 L1194.6,630.9 L1195.1,630.9 L1195.6,630.9 L1196.1,630.9 L1196.6,630.8 L1197.1,630.8 L1197.6,630.8 L1198.1,630.8 L1198.6,630.8 L1199.1,630.7 L1199.6,630.7 L1200.1,630.7 L1200.6,630.7 L1201.1,630.7 L1201.6,630.6 L1202.1,630.6 L1202.6,630.6 L1203.1,630.6 L1203.6,630.6 L1204.1,630.5 L1204.6,630.5 L1205.1,630.5 L1205.6,630.5 L1206.1,630.5 L1206.6,630.4 L1207.1,630.4 L1207.6,630.4 L1208.1,630.4 L1208.6,630.4 L1209.1,630.3 L1209.6,630.3 L1210.1,630.3 L1210.6,630.3 L1211.1,630.3 L1211.6,630.2 L1212.1,630.2 L1212.6,630.2 L1213.1,630.2 L1213.6,630.2 L1214.1,630.1 L1214.6,630.1 L1215.1,630.1 L1215.6,630.1 L1216.1,630.1 L1216.6,630.0 L1217.1,630.0 L1217.6,630.0 L1218.1,630.0 L1218.6,630.0 L1219.1,629.9 L1219.6,629.9 L1220.1,629.9 L1220.6,629.9 L1221.1,629.9 L1221.6,629.8 L1222.1,629.8 L1222.6,629.8 L1223.1,629.8 L1223.6,629.8 L1224.1,629.7 L1224.6,629.7 L1225.1,629.7 L1225.6,629.7 L1226.1,629.6 L1226.6,629.6 L1227.1,629.6 L1227.6,629.5 L1228.1,629.5 L1228.6,629.4 L1229.1,629.3 L1229.6,629.2 L1230.1,629.1 L1230.6,628.9 L1231.1,628.7 L1231.6,628.4 L1232.1,628.1 L1232.6,627.7 L1233.1,627.3 L1233.6,626.7 L1234.1,626.0 L1234.6,625.1 L1235.1,624.1 L1235.6,622.9 L1236.1,621.5 L1236.6,619.8 L1237.1,617.8 L1237.6,615.5 L1238.1,612.8 L1238.6,609.8 L1239.1,606.3 L1239.6,602.4 L1240.1,598.1 L1240.6,593.3 L1241.1,588.0 L1241.6,582.3 L1242.1,576.2 L1242.6,569.6 L1243.1,562.7 L1243.6,555.6 L1244.1,548.2 L1244.6,540.6 L1245.1,533.0 L1245.6,525.5 L1246.1,518.2 L1246.6,511.1 L1247.1,504.5 L1247.6,498.4 L1248.1,493.0 L1248.6,488.2 L1249.1,484.4 L1249.6,481.4 L1250.1,479.4 L1250.6,478.4 L1251.1,478.4 L1251.6,478.9 L1252.1,479.9 L1252.6,481.4 L1253.1,483.4 L1253.6,485.9 L1254.1,488.8 L1254.6,492.1 L1255.1,495.8 L1255.6,499.8 L1256.1,504.1 L1256.6,508.7 L1257.1,513.5 L1257.6,518.4 L1258.1,523.5 L1258.6,528.7 L1259.1,534.0 L1259.6,539.2 L1260.1,544.5 L1260.6,549.7 L1261.1,554.8 L1261.6,559.7 L1262.1,564.6 L1262.6,569.3 L1263.1,573.8 L1263.6,578.1 L1264.1,582.1 L1264.6,586.0 L1265.1,589.7 L1265.6,593.1 L1266.1,596.3 L1266.6,599.2 L1267.1,601.9 L1267.6,604.5 L1268.1,606.8 L1268.6,608.8 L1269.1,610.7 L1269.6,612.5 L1270.1,614.0 L1270.6,615.4 L1271.1,616.6 L1271.6,617.7 L1272.1,618.7 L1272.6,619.5 L1273.1,620.2 L1273.6,620.9 L1274.1,621.4 L1274.6,621.9 L1275.1,622.3 L1275.6,622.6 L1276.1,622.9 L1276.6,623.2 L1277.1,623.4 L1277.6,623.5 L1278.1,623.6 L1278.6,623.8 L1279.1,623.9 L1279.6,624.0 L1280.1,624.1 L1280.6,624.2 L1281.1,624.2 L1281.6,624.3 L1282.1,624.3 L1282.6,624.3 L1283.1,624.3 L1283.6,624.4 L1284.1,624.4 L1284.6,624.4 L1285.1,624.4 L1285.6,624.4 L1286.1,624.4 L1286.6,624.4 L1287.1,624.4 L1287.6,624.4 L1288.1,624.4 L1288.6,624.4 L1289.1,624.4 L1289.6,624.4 L1290.1,624.4 L1290.6,624.4 L1291.1,624.4 L1291.6,624.4 L1292.1,624.4 L1292.6,624.4 L1293.1,624.4 L1293.6,624.4 L1294.1,624.4 L1294.6,624.3 L1295.1,624.3 L1295.6,624.3 L1296.1,624.3 L1296.6,624.3 L1297.1,624.3 L1297.6,624.3 L1298.1,624.3 L1298.6,624.3 L1299.1,624.3 L1299.6,624.3 L1300.1,624.3 L1300.6,624.2 L1301.1,624.2 L1301.6,624.1 L1302.1,624.0 L1302.6,624.0 L1303.1,623.9 L1303.6,623.9 L1304.1,623.8 L1304.6,623.7 L1305.1,623.7 L1305.6,623.6 L1306.1,623.6 L1306.6,623.5 L1307.1,623.4 L1307.6,623.4 L1308.1,623.3 L1308.6,623.3 L1309.1,623.2 L1309.6,623.1 L1310.1,623.1 L1310.6,623.0 L1311.1,623.0 L1311.6,622.9 L1312.1,622.8 L1312.6,622.8 L1313.1,622.7 L1313.6,622.7 L1314.1,622.6 L1314.6,622.5 L1315.1,622.5 L1315.6,622.4 L1316.1,622.4 L1316.6,622.3 L1317.1,622.2 L1317.6,622.2 L1318.1,622.1 L1318.6,622.1 L1319.1,622.0 L1319.6,621.9 L1320.1,621.9 L1320.6,621.8 L1321.1,621.7 L1321.6,621.7 L1322.1,621.6 L1322.6,621.5 L1323.1,621.4 L1323.6,621.3 L1324.1,621.2 L1324.6,621.0 L1325.1,620.9 L1325.6,620.7 L1326.1,620.5 L1326.6,620.3 L1327.1,620.0 L1327.6,619.8 L1328.1,619.5 L1328.6,619.2 L1329.1,618.9 L1329.6,618.7 L1330.1,618.4 L1330.6,618.1 L1331.1,617.9 L1331.6,617.7 L1332.1,617.5 L1332.6,617.4 L1333.1,617.3 L1333.6,617.3 L1334.1,617.3 L1334.6,617.3 L1335.1,617.3 L1335.6,617.4 L1336.1,617.5 L1336.6,617.6 L1337.1,617.7 L1337.6,617.8 L1338.1,617.9 L1338.6,618.1 L1339.1,618.2 L1339.6,618.3 L1340.1,618.4 L1340.6,618.5 L1341.1,618.7 L1341.6,618.8 L1342.1,618.8 L1342.6,618.9 L1343.1,619.0 L1343.6,619.1 L1344.1,619.1 L1344.6,619.1 L1345.1,619.2 L1345.6,619.2 L1346.1,619.2 L1346.6,619.2 L1347.1,619.2 L1347.6,619.2 L1348.1,619.2 L1348.6,619.2 L1349.1,619.1 L1349.6,619.1 L1350.1,619.1 L1350.6,619.1 L1351.1,619.1 L1351.6,619.1 L1352.1,619.1 L1352.6,619.0 L1353.1,619.0 L1353.6,619.0 L1354.1,619.0 L1354.6,619.0 L1355.1,618.9 L1355.6,618.9 L1356.1,618.9 L1356.6,618.9 L1357.1,618.9 L1357.6,618.9 L1358.1,618.8 L1358.6,618.8 L1359.1,618.8 L1359.6,618.8 L1360.1,618.8 L1360.6,618.7 L1361.1,618.7 L1361.6,618.7 L1362.1,618.7 L1362.6,618.7 L1363.1,618.6 L1363.6,618.6 L1364.1,618.6 L1364.6,618.6 L1365.1,618.6 L1365.6,618.6 L1366.1,618.5 L1366.6,618.5 L1367.1,618.5 L1367.6,618.5 L1368.1,618.5 L1368.6,618.4 L1369.1,618.4 L1369.6,618.4 L1370.1,618.4 L1370.6,618.4 L1371.1,618.4 L1371.6,618.3 L1372.1,618.3 L1372.6,618.3 L1373.1,618.3 L1373.6,618.3 L1374.1,618.2 L1374.6,618.2 L1375.1,618.2 L1375.6,618.2 L1376.1,618.2 L1376.6,618.1 L1377.1,618.1 L1377.6,618.1 L1378.1,618.1 L1378.6,618.1 L1379.1,618.1 L1379.6,618.0 L1380.1,618.0 L1380.6,618.0 L1381.1,618.0 L1381.6,618.0 L1382.1,617.9 L1382.6,617.9 L1383.1,617.9 L1383.6,617.9 L1384.1,617.9 L1384.6,617.9 L1385.1,617.8 L1385.6,617.8 L1386.1,617.8 L1386.6,617.8 L1387.1,617.8 L1387.6,617.7 L1388.1,617.7 L1388.6,617.7 L1389.1,617.7 L1389.6,617.7 L1390.1,617.7 L1390.6,617.6 L1391.1,617.6 L1391.6,617.6 L1392.1,617.6 L1392.6,617.6 L1393.1,617.5 L1393.6,617.5 L1394.1,617.5 L1394.6,617.5 L1395.1,617.5 L1395.6,617.4 L1396.1,617.4 L1396.6,617.4 L1397.1,617.4 L1397.6,617.4 L1398.1,617.4 L1398.6,617.3 L1399.1,617.3 L1399.6,617.3 L1400.1,617.3 L1400.6,617.3 L1401.1,617.2 L1401.6,617.2 L1402.1,617.2 L1402.6,617.2 L1403.1,617.2 L1403.6,617.2 L1404.1,617.1 L1404.6,617.1 L1405.1,617.1 L1405.6,617.1 L1406.1,617.1 L1406.6,617.0 L1407.1,617.0 L1407.6,617.0 L1408.1,617.0 L1408.6,617.0 L1409.1,617.0 L1409.6,616.9 L1410.1,616.9 L1410.6,616.9 L1411.1,616.9 L1411.6,616.9 L1412.1,616.8 L1412.6,616.8 L1413.1,616.8 L1413.6,616.8 L1414.1,616.8 L1414.6,616.7 L1415.1,616.7 L1415.6,616.7 L1415.9,652 L1012.6,652 Z" fill="#fff" stroke="none"/>
<path d="M1012.6,634.3 L1013.1,634.3 L1013.6,634.3 L1014.1,634.3 L1014.6,634.3 L1015.1,634.3 L1015.6,634.3 L1016.1,634.3 L1016.6,634.3 L1017.1,634.3 L1017.6,634.3 L1018.1,634.3 L1018.6,634.3 L1019.1,634.3 L1019.6,634.3 L1020.1,634.3 L1020.6,634.3 L1021.1,634.3 L1021.6,634.3 L1022.1,634.3 L1022.6,634.3 L1023.1,634.3 L1023.6,634.3 L1024.1,634.2 L1024.6,634.2 L1025.1,634.2 L1025.6,634.2 L1026.1,634.2 L1026.6,634.2 L1027.1,634.2 L1027.6,634.2 L1028.1,634.2 L1028.6,634.2 L1029.1,634.2 L1029.6,634.2 L1030.1,634.2 L1030.6,634.2 L1031.1,634.2 L1031.6,634.2 L1032.1,634.2 L1032.6,634.2 L1033.1,634.2 L1033.6,634.2 L1034.1,634.2 L1034.6,634.2 L1035.1,634.2 L1035.6,634.2 L1036.1,634.2 L1036.6,634.2 L1037.1,634.2 L1037.6,634.2 L1038.1,634.2 L1038.6,634.2 L1039.1,634.2 L1039.6,634.2 L1040.1,634.2 L1040.6,634.2 L1041.1,634.2 L1041.6,634.2 L1042.1,634.2 L1042.6,634.2 L1043.1,634.2 L1043.6,634.2 L1044.1,634.2 L1044.6,634.2 L1045.1,634.2 L1045.6,634.2 L1046.1,634.2 L1046.6,634.1 L1047.1,634.1 L1047.6,634.1 L1048.1,634.1 L1048.6,634.1 L1049.1,634.1 L1049.6,634.1 L1050.1,634.1 L1050.6,634.1 L1051.1,634.1 L1051.6,634.1 L1052.1,634.1 L1052.6,634.1 L1053.1,634.1 L1053.6,634.1 L1054.1,634.1 L1054.6,634.1 L1055.1,634.1 L1055.6,634.1 L1056.1,634.1 L1056.6,634.1 L1057.1,634.1 L1057.6,634.1 L1058.1,634.1 L1058.6,634.1 L1059.1,634.1 L1059.6,634.1 L1060.1,634.1 L1060.6,634.1 L1061.1,634.1 L1061.6,634.1 L1062.1,634.1 L1062.6,634.1 L1063.1,634.1 L1063.6,634.1 L1064.1,634.1 L1064.6,634.1 L1065.1,634.1 L1065.6,634.1 L1066.1,634.1 L1066.6,634.1 L1067.1,634.1 L1067.6,634.1 L1068.1,634.1 L1068.6,634.1 L1069.1,634.0 L1069.6,634.0 L1070.1,634.0 L1070.6,634.0 L1071.1,634.0 L1071.6,634.0 L1072.1,634.0 L1072.6,634.0 L1073.1,634.0 L1073.6,634.0 L1074.1,634.0 L1074.6,634.0 L1075.1,634.0 L1075.6,634.0 L1076.1,634.0 L1076.6,634.0 L1077.1,634.0 L1077.6,634.0 L1078.1,634.0 L1078.6,634.0 L1079.1,634.0 L1079.6,634.0 L1080.1,634.0 L1080.6,634.0 L1081.1,633.9 L1081.6,633.9 L1082.1,633.9 L1082.6,633.9 L1083.1,633.8 L1083.6,633.8 L1084.1,633.8 L1084.6,633.8 L1085.1,633.7 L1085.6,633.7 L1086.1,633.7 L1086.6,633.7 L1087.1,633.6 L1087.6,633.6 L1088.1,633.6 L1088.6,633.5 L1089.1,633.5 L1089.6,633.5 L1090.1,633.4 L1090.6,633.4 L1091.1,633.3 L1091.6,633.2 L1092.1,633.2 L1092.6,633.1 L1093.1,633.0 L1093.6,632.9 L1094.1,632.7 L1094.6,632.6 L1095.1,632.4 L1095.6,632.2 L1096.1,632.0 L1096.6,631.8 L1097.1,631.6 L1097.6,631.4 L1098.1,631.1 L1098.6,630.8 L1099.1,630.6 L1099.6,630.3 L1100.1,630.0 L1100.6,629.8 L1101.1,629.6 L1101.6,629.3 L1102.1,629.2 L1102.6,629.0 L1103.1,628.9 L1103.6,628.8 L1104.1,628.8 L1104.6,628.8 L1105.1,628.8 L1105.6,628.9 L1106.1,629.0 L1106.6,629.1 L1107.1,629.3 L1107.6,629.5 L1108.1,629.7 L1108.6,629.9 L1109.1,630.1 L1109.6,630.3 L1110.1,630.5 L1110.6,630.7 L1111.1,630.9 L1111.6,631.1 L1112.1,631.3 L1112.6,631.4 L1113.1,631.5 L1113.6,631.6 L1114.1,631.7 L1114.6,631.8 L1115.1,631.8 L1115.6,631.9 L1116.1,631.9 L1116.6,631.9 L1117.1,631.9 L1117.6,631.9 L1118.1,631.9 L1118.6,631.9 L1119.1,631.9 L1119.6,631.9 L1120.1,631.9 L1120.6,631.9 L1121.1,631.9 L1121.6,631.8 L1122.1,631.7 L1122.6,631.6 L1123.1,631.5 L1123.6,631.3 L1124.1,631.0 L1124.6,630.7 L1125.1,630.3 L1125.6,629.8 L1126.1,629.2 L1126.6,628.5 L1127.1,627.7 L1127.6,626.7 L1128.1,625.6 L1128.6,624.4 L1129.1,623.0 L1129.6,621.5 L1130.1,619.9 L1130.6,618.3 L1131.1,616.6 L1131.6,614.9 L1132.1,613.3 L1132.6,611.8 L1133.1,610.4 L1133.6,609.2 L1134.1,608.3 L1134.6,607.6 L1135.1,607.2 L1135.6,607.1 L1136.1,607.2 L1136.6,607.4 L1137.1,607.7 L1137.6,608.1 L1138.1,608.6 L1138.6,609.2 L1139.1,609.9 L1139.6,610.6 L1140.1,611.4 L1140.6,612.3 L1141.1,613.2 L1141.6,614.2 L1142.1,615.2 L1142.6,616.2 L1143.1,617.2 L1143.6,618.2 L1144.1,619.2 L1144.6,620.2 L1145.1,621.2 L1145.6,622.1 L1146.1,623.0 L1146.6,623.8 L1147.1,624.6 L1147.6,625.4 L1148.1,626.1 L1148.6,626.8 L1149.1,627.4 L1149.6,628.0 L1150.1,628.5 L1150.6,628.9 L1151.1,629.4 L1151.6,629.7 L1152.1,630.1 L1152.6,630.4 L1153.1,630.7 L1153.6,630.9 L1154.1,631.1 L1154.6,631.3 L1155.1,631.4 L1155.6,631.6 L1156.1,631.7 L1156.6,631.8 L1157.1,631.9 L1157.6,632.0 L1158.1,632.0 L1158.6,632.1 L1159.1,632.1 L1159.6,632.2 L1160.1,632.2 L1160.6,632.2 L1161.1,632.2 L1161.6,632.2 L1162.1,632.2 L1162.6,632.2 L1163.1,632.1 L1163.6,632.1 L1164.1,632.1 L1164.6,632.1 L1165.1,632.1 L1165.6,632.1 L1166.1,632.0 L1166.6,632.0 L1167.1,632.0 L1167.6,632.0 L1168.1,632.0 L1168.6,632.0 L1169.1,631.9 L1169.6,631.9 L1170.1,631.9 L1170.6,631.9 L1171.1,631.9 L1171.6,631.8 L1172.1,631.8 L1172.6,631.8 L1173.1,631.8 L1173.6,631.8 L1174.1,631.7 L1174.6,631.7 L1175.1,631.7 L1175.6,631.7 L1176.1,631.7 L1176.6,631.6 L1177.1,631.6 L1177.6,631.6 L1178.1,631.6 L1178.6,631.6 L1179.1,631.5 L1179.6,631.5 L1180.1,631.5 L1180.6,631.5 L1181.1,631.5 L1181.6,631.4 L1182.1,631.4 L1182.6,631.4 L1183.1,631.4 L1183.6,631.4 L1184.1,631.3 L1184.6,631.3 L1185.1,631.3 L1185.6,631.3 L1186.1,631.3 L1186.6,631.2 L1187.1,631.2 L1187.6,631.2 L1188.1,631.2 L1188.6,631.2 L1189.1,631.1 L1189.6,631.1 L1190.1,631.1 L1190.6,631.1 L1191.1,631.1 L1191.6,631.0 L1192.1,631.0 L1192.6,631.0 L1193.1,631.0 L1193.6,631.0 L1194.1,630.9 L1194.6,630.9 L1195.1,630.9 L1195.6,630.9 L1196.1,630.9 L1196.6,630.8 L1197.1,630.8 L1197.6,630.8 L1198.1,630.8 L1198.6,630.8 L1199.1,630.7 L1199.6,630.7 L1200.1,630.7 L1200.6,630.7 L1201.1,630.7 L1201.6,630.6 L1202.1,630.6 L1202.6,630.6 L1203.1,630.6 L1203.6,630.6 L1204.1,630.5 L1204.6,630.5 L1205.1,630.5 L1205.6,630.5 L1206.1,630.5 L1206.6,630.4 L1207.1,630.4 L1207.6,630.4 L1208.1,630.4 L1208.6,630.4 L1209.1,630.3 L1209.6,630.3 L1210.1,630.3 L1210.6,630.3 L1211.1,630.3 L1211.6,630.2 L1212.1,630.2 L1212.6,630.2 L1213.1,630.2 L1213.6,630.2 L1214.1,630.1 L1214.6,630.1 L1215.1,630.1 L1215.6,630.1 L1216.1,630.1 L1216.6,630.0 L1217.1,630.0 L1217.6,630.0 L1218.1,630.0 L1218.6,630.0 L1219.1,629.9 L1219.6,629.9 L1220.1,629.9 L1220.6,629.9 L1221.1,629.9 L1221.6,629.8 L1222.1,629.8 L1222.6,629.8 L1223.1,629.8 L1223.6,629.8 L1224.1,629.7 L1224.6,629.7 L1225.1,629.7 L1225.6,629.7 L1226.1,629.6 L1226.6,629.6 L1227.1,629.6 L1227.6,629.5 L1228.1,629.5 L1228.6,629.4 L1229.1,629.3 L1229.6,629.2 L1230.1,629.1 L1230.6,628.9 L1231.1,628.7 L1231.6,628.4 L1232.1,628.1 L1232.6,627.7 L1233.1,627.3 L1233.6,626.7 L1234.1,626.0 L1234.6,625.1 L1235.1,624.1 L1235.6,622.9 L1236.1,621.5 L1236.6,619.8 L1237.1,617.8 L1237.6,615.5 L1238.1,612.8 L1238.6,609.8 L1239.1,606.3 L1239.6,602.4 L1240.1,598.1 L1240.6,593.3 L1241.1,588.0 L1241.6,582.3 L1242.1,576.2 L1242.6,569.6 L1243.1,562.7 L1243.6,555.6 L1244.1,548.2 L1244.6,540.6 L1245.1,533.0 L1245.6,525.5 L1246.1,518.2 L1246.6,511.1 L1247.1,504.5 L1247.6,498.4 L1248.1,493.0 L1248.6,488.2 L1249.1,484.4 L1249.6,481.4 L1250.1,479.4 L1250.6,478.4 L1251.1,478.4 L1251.6,478.9 L1252.1,479.9 L1252.6,481.4 L1253.1,483.4 L1253.6,485.9 L1254.1,488.8 L1254.6,492.1 L1255.1,495.8 L1255.6,499.8 L1256.1,504.1 L1256.6,508.7 L1257.1,513.5 L1257.6,518.4 L1258.1,523.5 L1258.6,528.7 L1259.1,534.0 L1259.6,539.2 L1260.1,544.5 L1260.6,549.7 L1261.1,554.8 L1261.6,559.7 L1262.1,564.6 L1262.6,569.3 L1263.1,573.8 L1263.6,578.1 L1264.1,582.1 L1264.6,586.0 L1265.1,589.7 L1265.6,593.1 L1266.1,596.3 L1266.6,599.2 L1267.1,601.9 L1267.6,604.5 L1268.1,606.8 L1268.6,608.8 L1269.1,610.7 L1269.6,612.5 L1270.1,614.0 L1270.6,615.4 L1271.1,616.6 L1271.6,617.7 L1272.1,618.7 L1272.6,619.5 L1273.1,620.2 L1273.6,620.9 L1274.1,621.4 L1274.6,621.9 L1275.1,622.3 L1275.6,622.6 L1276.1,622.9 L1276.6,623.2 L1277.1,623.4 L1277.6,623.5 L1278.1,623.6 L1278.6,623.8 L1279.1,623.9 L1279.6,624.0 L1280.1,624.1 L1280.6,624.2 L1281.1,624.2 L1281.6,624.3 L1282.1,624.3 L1282.6,624.3 L1283.1,624.3 L1283.6,624.4 L1284.1,624.4 L1284.6,624.4 L1285.1,624.4 L1285.6,624.4 L1286.1,624.4 L1286.6,624.4 L1287.1,624.4 L1287.6,624.4 L1288.1,624.4 L1288.6,624.4 L1289.1,624.4 L1289.6,624.4 L1290.1,624.4 L1290.6,624.4 L1291.1,624.4 L1291.6,624.4 L1292.1,624.4 L1292.6,624.4 L1293.1,624.4 L1293.6,624.4 L1294.1,624.4 L1294.6,624.3 L1295.1,624.3 L1295.6,624.3 L1296.1,624.3 L1296.6,624.3 L1297.1,624.3 L1297.6,624.3 L1298.1,624.3 L1298.6,624.3 L1299.1,624.3 L1299.6,624.3 L1300.1,624.3 L1300.6,624.2 L1301.1,624.2 L1301.6,624.1 L1302.1,624.0 L1302.6,624.0 L1303.1,623.9 L1303.6,623.9 L1304.1,623.8 L1304.6,623.7 L1305.1,623.7 L1305.6,623.6 L1306.1,623.6 L1306.6,623.5 L1307.1,623.4 L1307.6,623.4 L1308.1,623.3 L1308.6,623.3 L1309.1,623.2 L1309.6,623.1 L1310.1,623.1 L1310.6,623.0 L1311.1,623.0 L1311.6,622.9 L1312.1,622.8 L1312.6,622.8 L1313.1,622.7 L1313.6,622.7 L1314.1,622.6 L1314.6,622.5 L1315.1,622.5 L1315.6,622.4 L1316.1,622.4 L1316.6,622.3 L1317.1,622.2 L1317.6,622.2 L1318.1,622.1 L1318.6,622.1 L1319.1,622.0 L1319.6,621.9 L1320.1,621.9 L1320.6,621.8 L1321.1,621.7 L1321.6,621.7 L1322.1,621.6 L1322.6,621.5 L1323.1,621.4 L1323.6,621.3 L1324.1,621.2 L1324.6,621.0 L1325.1,620.9 L1325.6,620.7 L1326.1,620.5 L1326.6,620.3 L1327.1,620.0 L1327.6,619.8 L1328.1,619.5 L1328.6,619.2 L1329.1,618.9 L1329.6,618.7 L1330.1,618.4 L1330.6,618.1 L1331.1,617.9 L1331.6,617.7 L1332.1,617.5 L1332.6,617.4 L1333.1,617.3 L1333.6,617.3 L1334.1,617.3 L1334.6,617.3 L1335.1,617.3 L1335.6,617.4 L1336.1,617.5 L1336.6,617.6 L1337.1,617.7 L1337.6,617.8 L1338.1,617.9 L1338.6,618.1 L1339.1,618.2 L1339.6,618.3 L1340.1,618.4 L1340.6,618.5 L1341.1,618.7 L1341.6,618.8 L1342.1,618.8 L1342.6,618.9 L1343.1,619.0 L1343.6,619.1 L1344.1,619.1 L1344.6,619.1 L1345.1,619.2 L1345.6,619.2 L1346.1,619.2 L1346.6,619.2 L1347.1,619.2 L1347.6,619.2 L1348.1,619.2 L1348.6,619.2 L1349.1,619.1 L1349.6,619.1 L1350.1,619.1 L1350.6,619.1 L1351.1,619.1 L1351.6,619.1 L1352.1,619.1 L1352.6,619.0 L1353.1,619.0 L1353.6,619.0 L1354.1,619.0 L1354.6,619.0 L1355.1,618.9 L1355.6,618.9 L1356.1,618.9 L1356.6,618.9 L1357.1,618.9 L1357.6,618.9 L1358.1,618.8 L1358.6,618.8 L1359.1,618.8 L1359.6,618.8 L1360.1,618.8 L1360.6,618.7 L1361.1,618.7 L1361.6,618.7 L1362.1,618.7 L1362.6,618.7 L1363.1,618.6 L1363.6,618.6 L1364.1,618.6 L1364.6,618.6 L1365.1,618.6 L1365.6,618.6 L1366.1,618.5 L1366.6,618.5 L1367.1,618.5 L1367.6,618.5 L1368.1,618.5 L1368.6,618.4 L1369.1,618.4 L1369.6,618.4 L1370.1,618.4 L1370.6,618.4 L1371.1,618.4 L1371.6,618.3 L1372.1,618.3 L1372.6,618.3 L1373.1,618.3 L1373.6,618.3 L1374.1,618.2 L1374.6,618.2 L1375.1,618.2 L1375.6,618.2 L1376.1,618.2 L1376.6,618.1 L1377.1,618.1 L1377.6,618.1 L1378.1,618.1 L1378.6,618.1 L1379.1,618.1 L1379.6,618.0 L1380.1,618.0 L1380.6,618.0 L1381.1,618.0 L1381.6,618.0 L1382.1,617.9 L1382.6,617.9 L1383.1,617.9 L1383.6,617.9 L1384.1,617.9 L1384.6,617.9 L1385.1,617.8 L1385.6,617.8 L1386.1,617.8 L1386.6,617.8 L1387.1,617.8 L1387.6,617.7 L1388.1,617.7 L1388.6,617.7 L1389.1,617.7 L1389.6,617.7 L1390.1,617.7 L1390.6,617.6 L1391.1,617.6 L1391.6,617.6 L1392.1,617.6 L1392.6,617.6 L1393.1,617.5 L1393.6,617.5 L1394.1,617.5 L1394.6,617.5 L1395.1,617.5 L1395.6,617.4 L1396.1,617.4 L1396.6,617.4 L1397.1,617.4 L1397.6,617.4 L1398.1,617.4 L1398.6,617.3 L1399.1,617.3 L1399.6,617.3 L1400.1,617.3 L1400.6,617.3 L1401.1,617.2 L1401.6,617.2 L1402.1,617.2 L1402.6,617.2 L1403.1,617.2 L1403.6,617.2 L1404.1,617.1 L1404.6,617.1 L1405.1,617.1 L1405.6,617.1 L1406.1,617.1 L1406.6,617.0 L1407.1,617.0 L1407.6,617.0 L1408.1,617.0 L1408.6,617.0 L1409.1,617.0 L1409.6,616.9 L1410.1,616.9 L1410.6,616.9 L1411.1,616.9 L1411.6,616.9 L1412.1,616.8 L1412.6,616.8 L1413.1,616.8 L1413.6,616.8 L1414.1,616.8 L1414.6,616.7 L1415.1,616.7 L1415.6,616.7" fill="none" stroke="#a3178f" stroke-width="2.5" stroke-linejoin="round"/>
<line x1="1010.0" y1="650.0" x2="1123.5" y2="246.5" stroke="#000" stroke-width="2.2" />
<line x1="1131.0" y1="639.0" x2="1242.0" y2="247.0" stroke="#000" stroke-width="2.6" stroke-dasharray="14 12.6"/>
<line x1="1249.0" y1="639.0" x2="1360.0" y2="247.0" stroke="#000" stroke-width="2.6" stroke-dasharray="14 12.6"/>
<line x1="1009.5" y1="159.4" x2="1009.5" y2="651.0" stroke="#000" stroke-width="2.2" />
<line x1="1008.4" y1="650.0" x2="1412.4" y2="650.0" stroke="#000" stroke-width="2.2" />
<line x1="1002.5" y1="160.4" x2="1009.5" y2="160.4" stroke="#000" stroke-width="2.2" />
<text x="993.4" y="170.9" font-size="34" text-anchor="end">100</text>
<line x1="1002.5" y1="282.9" x2="1009.5" y2="282.9" stroke="#000" stroke-width="2.2" />
<text x="993.4" y="293.4" font-size="34" text-anchor="end">75</text>
<line x1="1002.5" y1="405.4" x2="1009.5" y2="405.4" stroke="#000" stroke-width="2.2" />
<text x="993.4" y="415.9" font-size="34" text-anchor="end">50</text>
<line x1="1002.5" y1="527.9" x2="1009.5" y2="527.9" stroke="#000" stroke-width="2.2" />
<text x="993.4" y="538.4" font-size="34" text-anchor="end">25</text>
<line x1="1002.5" y1="650.4" x2="1009.5" y2="650.4" stroke="#000" stroke-width="2.2" />
<text x="993.4" y="660.9" font-size="34" text-anchor="end">0</text>
<line x1="1006.5" y1="609.6" x2="1009.5" y2="609.6" stroke="#000" stroke-width="2" />
<line x1="1006.5" y1="568.7" x2="1009.5" y2="568.7" stroke="#000" stroke-width="2" />
<line x1="1006.5" y1="487.1" x2="1009.5" y2="487.1" stroke="#000" stroke-width="2" />
<line x1="1006.5" y1="446.2" x2="1009.5" y2="446.2" stroke="#000" stroke-width="2" />
<line x1="1006.5" y1="364.6" x2="1009.5" y2="364.6" stroke="#000" stroke-width="2" />
<line x1="1006.5" y1="323.7" x2="1009.5" y2="323.7" stroke="#000" stroke-width="2" />
<line x1="1006.5" y1="242.1" x2="1009.5" y2="242.1" stroke="#000" stroke-width="2" />
<line x1="1006.5" y1="201.2" x2="1009.5" y2="201.2" stroke="#000" stroke-width="2" />
<line x1="1010.0" y1="650.0" x2="1010.0" y2="657.0" stroke="#000" stroke-width="2.2" />
<line x1="1042.1" y1="650.0" x2="1042.1" y2="654.0" stroke="#000" stroke-width="2" />
<line x1="1074.2" y1="650.0" x2="1074.2" y2="654.0" stroke="#000" stroke-width="2" />
<line x1="1106.3" y1="650.0" x2="1106.3" y2="654.0" stroke="#000" stroke-width="2" />
<line x1="1138.4" y1="650.0" x2="1138.4" y2="654.0" stroke="#000" stroke-width="2" />
<line x1="1170.5" y1="650.0" x2="1170.5" y2="657.0" stroke="#000" stroke-width="2.2" />
<line x1="1202.6" y1="650.0" x2="1202.6" y2="654.0" stroke="#000" stroke-width="2" />
<line x1="1234.7" y1="650.0" x2="1234.7" y2="654.0" stroke="#000" stroke-width="2" />
<line x1="1266.8" y1="650.0" x2="1266.8" y2="654.0" stroke="#000" stroke-width="2" />
<line x1="1298.9" y1="650.0" x2="1298.9" y2="654.0" stroke="#000" stroke-width="2" />
<line x1="1331.0" y1="650.0" x2="1331.0" y2="657.0" stroke="#000" stroke-width="2.2" />
<line x1="1363.1" y1="650.0" x2="1363.1" y2="654.0" stroke="#000" stroke-width="2" />
<line x1="1395.2" y1="650.0" x2="1395.2" y2="654.0" stroke="#000" stroke-width="2" />
<text x="1010.4" y="693.5" font-size="33.5" text-anchor="middle">10.0</text>
<text x="1170.9" y="693.5" font-size="33.5" text-anchor="middle">11.0</text>
<text x="1331.4" y="693.5" font-size="33.5" text-anchor="middle">12.0</text>
<text x="1211.5" y="738.1" font-size="33.6" text-anchor="middle">Time (min)</text>
<text x="922.7" y="406.3" font-size="33" text-anchor="middle" transform="rotate(-90 922.7 406.3)">Absorbance at 280 nm</text>
<text x="1432.3" y="231.8" font-size="33.6">Std: apigenin</text>
<text x="1412.3" y="306.4" font-size="33.6">Std: naringenin</text>
<text x="1393.9" y="375.3" font-size="33.6">Boiled FLR + apigenin</text>
<text x="1371.1" y="454.5" font-size="33.6">FLR + apigenin</text>
<text x="1350.9" y="526.9" font-size="33.6">Boiled FLR + naringenin</text>
<text x="1328.1" y="604.7" font-size="33.6">FLR + naringenin</text>
<text x="62.2" y="740.7" font-size="60" font-weight="bold">c</text>
<line x1="234.7" y1="783.6" x2="234.7" y2="1285.1" stroke="#000" stroke-width="3.9" />
<line x1="232.8" y1="1283.2" x2="827.8" y2="1283.2" stroke="#000" stroke-width="3.9" />
<line x1="226.0" y1="1283.2" x2="234.7" y2="1283.2" stroke="#000" stroke-width="3.9" />
<text x="223.5" y="1297.5" font-size="38.5" text-anchor="end">0.000</text>
<line x1="226.0" y1="1158.8" x2="234.7" y2="1158.8" stroke="#000" stroke-width="3.9" />
<text x="223.5" y="1173.1" font-size="38.5" text-anchor="end">0.005</text>
<line x1="226.0" y1="1034.4" x2="234.7" y2="1034.4" stroke="#000" stroke-width="3.9" />
<text x="223.5" y="1048.7" font-size="38.5" text-anchor="end">0.010</text>
<line x1="226.0" y1="909.9" x2="234.7" y2="909.9" stroke="#000" stroke-width="3.9" />
<text x="223.5" y="924.2" font-size="38.5" text-anchor="end">0.015</text>
<line x1="226.0" y1="785.5" x2="234.7" y2="785.5" stroke="#000" stroke-width="3.9" />
<text x="223.5" y="799.8" font-size="38.5" text-anchor="end">0.020</text>
<line x1="230.2" y1="1221.0" x2="234.7" y2="1221.0" stroke="#000" stroke-width="3.9" />
<line x1="230.2" y1="1096.6" x2="234.7" y2="1096.6" stroke="#000" stroke-width="3.9" />
<line x1="230.2" y1="972.1" x2="234.7" y2="972.1" stroke="#000" stroke-width="3.9" />
<line x1="230.2" y1="847.7" x2="234.7" y2="847.7" stroke="#000" stroke-width="3.9" />
<line x1="234.7" y1="1283.2" x2="234.7" y2="1292.2" stroke="#000" stroke-width="3.9" />
<text x="234.7" y="1330.5" font-size="38.5" text-anchor="middle">0</text>
<line x1="319.2" y1="1283.2" x2="319.2" y2="1292.2" stroke="#000" stroke-width="3.9" />
<text x="319.2" y="1330.5" font-size="38.5" text-anchor="middle">10</text>
<line x1="403.7" y1="1283.2" x2="403.7" y2="1292.2" stroke="#000" stroke-width="3.9" />
<text x="403.7" y="1330.5" font-size="38.5" text-anchor="middle">20</text>
<line x1="488.2" y1="1283.2" x2="488.2" y2="1292.2" stroke="#000" stroke-width="3.9" />
<text x="488.2" y="1330.5" font-size="38.5" text-anchor="middle">30</text>
<line x1="572.7" y1="1283.2" x2="572.7" y2="1292.2" stroke="#000" stroke-width="3.9" />
<text x="572.7" y="1330.5" font-size="38.5" text-anchor="middle">40</text>
<line x1="657.2" y1="1283.2" x2="657.2" y2="1292.2" stroke="#000" stroke-width="3.9" />
<text x="657.2" y="1330.5" font-size="38.5" text-anchor="middle">50</text>
<line x1="741.7" y1="1283.2" x2="741.7" y2="1292.2" stroke="#000" stroke-width="3.9" />
<text x="741.7" y="1330.5" font-size="38.5" text-anchor="middle">60</text>
<line x1="826.2" y1="1283.2" x2="826.2" y2="1292.2" stroke="#000" stroke-width="3.9" />
<text x="826.2" y="1330.5" font-size="38.5" text-anchor="middle">70</text>
<text x="532.0" y="1380.5" font-size="38.3" text-anchor="middle">[Apigenin] (µM)</text>
<text x="104.0" y="1019.5" font-size="37.5" text-anchor="middle" transform="rotate(-90 104 1019.5)">Rate (s <tspan font-size="26" dy="-13">−1</tspan><tspan dy="13">)</tspan></text>
<path d="M234.7,1283.2 L235.1,1280.8 L235.5,1278.3 L236.0,1276.0 L236.4,1273.6 L236.8,1271.3 L237.2,1269.0 L237.7,1266.7 L238.1,1264.5 L238.5,1262.2 L238.9,1260.0 L239.3,1257.9 L239.8,1255.7 L240.2,1253.6 L240.6,1251.5 L241.0,1249.4 L241.5,1247.3 L241.9,1245.3 L242.3,1243.3 L242.7,1241.3 L243.1,1239.3 L243.6,1237.4 L244.0,1235.5 L244.4,1233.5 L244.8,1231.7 L245.3,1229.8 L245.7,1227.9 L246.1,1226.1 L246.5,1224.3 L247.0,1222.5 L247.4,1220.7 L247.8,1219.0 L248.2,1217.2 L248.6,1215.5 L249.1,1213.8 L249.5,1212.1 L249.9,1210.5 L250.3,1208.8 L250.8,1207.2 L251.2,1205.5 L251.6,1203.9 L252.0,1202.3 L252.4,1200.8 L252.9,1199.2 L253.3,1197.7 L253.7,1196.1 L254.1,1194.6 L254.6,1193.1 L255.0,1191.6 L255.4,1190.1 L255.8,1188.7 L256.2,1187.2 L256.7,1185.8 L257.1,1184.4 L257.5,1183.0 L257.9,1181.6 L258.4,1180.2 L258.8,1178.8 L259.2,1177.4 L259.6,1176.1 L260.0,1174.8 L260.5,1173.4 L260.9,1172.1 L261.3,1170.8 L261.7,1169.5 L262.2,1168.3 L262.6,1167.0 L263.0,1165.7 L263.4,1164.5 L263.9,1163.3 L264.3,1162.0 L264.7,1160.8 L265.1,1159.6 L265.5,1158.4 L266.0,1157.2 L266.4,1156.1 L266.8,1154.9 L267.2,1153.7 L267.7,1152.6 L268.1,1151.4 L268.5,1150.3 L268.9,1149.2 L269.3,1148.1 L269.8,1147.0 L270.2,1145.9 L270.6,1144.8 L271.0,1143.7 L271.5,1142.7 L271.9,1141.6 L272.3,1140.6 L272.7,1139.5 L273.1,1138.5 L273.6,1137.5 L274.0,1136.4 L274.4,1135.4 L274.8,1134.4 L275.3,1133.4 L275.7,1132.4 L276.1,1131.5 L276.5,1130.5 L276.9,1129.5 L277.4,1128.6 L279.5,1123.9 L281.6,1119.4 L283.7,1115.0 L285.8,1110.8 L287.9,1106.7 L290.0,1102.8 L292.2,1099.0 L294.3,1095.4 L296.4,1091.8 L298.5,1088.4 L300.6,1085.0 L302.7,1081.8 L304.8,1078.6 L306.9,1075.6 L309.1,1072.6 L311.2,1069.8 L313.3,1067.0 L315.4,1064.3 L317.5,1061.6 L319.6,1059.1 L321.7,1056.6 L323.8,1054.1 L326.0,1051.8 L328.1,1049.4 L330.2,1047.2 L332.3,1045.0 L334.4,1042.9 L336.5,1040.8 L338.6,1038.7 L340.7,1036.8 L342.9,1034.8 L345.0,1032.9 L347.1,1031.1 L349.2,1029.3 L351.3,1027.5 L353.4,1025.8 L355.5,1024.1 L357.6,1022.4 L359.8,1020.8 L361.9,1019.2 L364.0,1017.7 L366.1,1016.2 L368.2,1014.7 L370.3,1013.2 L372.4,1011.8 L374.5,1010.4 L376.7,1009.0 L378.8,1007.7 L380.9,1006.4 L383.0,1005.1 L385.1,1003.8 L387.2,1002.6 L389.3,1001.4 L391.4,1000.2 L393.6,999.0 L395.7,997.8 L397.8,996.7 L399.9,995.6 L402.0,994.5 L404.1,993.4 L406.2,992.4 L408.3,991.3 L410.5,990.3 L412.6,989.3 L414.7,988.3 L416.8,987.4 L418.9,986.4 L421.0,985.5 L423.1,984.6 L425.2,983.7 L427.4,982.8 L429.5,981.9 L431.6,981.0 L433.7,980.2 L435.8,979.3 L437.9,978.5 L440.0,977.7 L442.1,976.9 L444.3,976.1 L446.4,975.3 L448.5,974.6 L450.6,973.8 L452.7,973.1 L454.8,972.4 L456.9,971.6 L459.0,970.9 L461.2,970.2 L463.3,969.5 L465.4,968.9 L467.5,968.2 L469.6,967.5 L471.7,966.9 L473.8,966.2 L475.9,965.6 L478.1,965.0 L480.2,964.4 L482.3,963.7 L484.4,963.1 L486.5,962.6 L488.6,962.0 L490.7,961.4 L492.8,960.8 L495.0,960.3 L497.1,959.7 L499.2,959.1 L501.3,958.6 L503.4,958.1 L505.5,957.5 L507.6,957.0 L509.7,956.5 L511.9,956.0 L514.0,955.5 L516.1,955.0 L518.2,954.5 L520.3,954.0 L522.4,953.5 L524.5,953.1 L526.6,952.6 L528.8,952.1 L530.9,951.7 L533.0,951.2 L535.1,950.8 L537.2,950.3 L539.3,949.9 L541.4,949.5 L543.5,949.0 L545.7,948.6 L547.8,948.2 L549.9,947.8 L552.0,947.4 L554.1,947.0 L556.2,946.6 L558.3,946.2 L560.4,945.8 L562.6,945.4 L564.7,945.0 L566.8,944.6 L568.9,944.2 L571.0,943.9 L573.1,943.5 L575.2,943.1 L577.3,942.8 L579.5,942.4 L581.6,942.1 L583.7,941.7 L585.8,941.4 L587.9,941.0 L590.0,940.7 L592.1,940.4 L594.2,940.0 L596.4,939.7 L598.5,939.4 L600.6,939.0 L602.7,938.7 L604.8,938.4 L606.9,938.1 L609.0,937.8 L611.1,937.5 L613.3,937.2 L615.4,936.9 L617.5,936.6 L619.6,936.3 L621.7,936.0 L623.8,935.7 L625.9,935.4 L628.0,935.1 L630.2,934.8 L632.3,934.5 L634.4,934.3 L636.5,934.0 L638.6,933.7 L640.7,933.4 L642.8,933.2 L644.9,932.9 L647.1,932.7 L649.2,932.4 L651.3,932.1 L653.4,931.9 L655.5,931.6 L657.6,931.4 L659.7,931.1 L661.8,930.9 L664.0,930.6 L666.1,930.4 L668.2,930.1 L670.3,929.9 L672.4,929.7 L674.5,929.4 L676.6,929.2 L678.7,929.0 L680.9,928.7 L683.0,928.5 L685.1,928.3 L687.2,928.0 L689.3,927.8 L691.4,927.6 L693.5,927.4 L695.6,927.2 L697.8,926.9 L699.9,926.7 L702.0,926.5 L704.1,926.3 L706.2,926.1 L708.3,925.9 L710.4,925.7 L712.5,925.5 L714.7,925.3 L716.8,925.1 L718.9,924.9 L721.0,924.7 L723.1,924.5 L725.2,924.3 L727.3,924.1 L729.4,923.9 L731.6,923.7 L733.7,923.5 L735.8,923.3 L737.9,923.1 L740.0,923.0" stroke="#ff0000" stroke-width="3.8" fill="none" stroke-linejoin="round"/>
<line x1="251.6" y1="1203.5" x2="251.6" y2="1211.5" stroke="#000" stroke-width="2.6" />
<line x1="245.8" y1="1203.5" x2="257.4" y2="1203.5" stroke="#000" stroke-width="2.6" />
<line x1="245.8" y1="1211.5" x2="257.4" y2="1211.5" stroke="#000" stroke-width="2.6" />
<rect x="245.7" y="1201.6" width="11.8" height="11.8" fill="#000" />
<line x1="268.5" y1="1166.5" x2="268.5" y2="1176.0" stroke="#000" stroke-width="2.6" />
<line x1="262.7" y1="1166.5" x2="274.3" y2="1166.5" stroke="#000" stroke-width="2.6" />
<line x1="262.7" y1="1176.0" x2="274.3" y2="1176.0" stroke="#000" stroke-width="2.6" />
<rect x="262.6" y="1165.4" width="11.8" height="11.8" fill="#000" />
<line x1="285.4" y1="1126.4" x2="285.4" y2="1153.3" stroke="#000" stroke-width="2.6" />
<line x1="279.6" y1="1126.4" x2="291.2" y2="1126.4" stroke="#000" stroke-width="2.6" />
<line x1="279.6" y1="1153.3" x2="291.2" y2="1153.3" stroke="#000" stroke-width="2.6" />
<rect x="279.5" y="1133.4" width="11.8" height="11.8" fill="#000" />
<line x1="319.2" y1="971.6" x2="319.2" y2="1051.5" stroke="#000" stroke-width="2.6" />
<line x1="313.4" y1="971.6" x2="325.0" y2="971.6" stroke="#000" stroke-width="2.6" />
<line x1="313.4" y1="1051.5" x2="325.0" y2="1051.5" stroke="#000" stroke-width="2.6" />
<rect x="313.3" y="1005.7" width="11.8" height="11.8" fill="#000" />
<line x1="403.7" y1="968.0" x2="403.7" y2="995.6" stroke="#000" stroke-width="2.6" />
<line x1="397.9" y1="968.0" x2="409.5" y2="968.0" stroke="#000" stroke-width="2.6" />
<line x1="397.9" y1="995.6" x2="409.5" y2="995.6" stroke="#000" stroke-width="2.6" />
<rect x="397.8" y="976.1" width="11.8" height="11.8" fill="#000" />
<line x1="572.7" y1="924.0" x2="572.7" y2="1000.0" stroke="#000" stroke-width="2.6" />
<line x1="566.9" y1="924.0" x2="578.5" y2="924.0" stroke="#000" stroke-width="2.6" />
<line x1="566.9" y1="1000.0" x2="578.5" y2="1000.0" stroke="#000" stroke-width="2.6" />
<rect x="566.8" y="956.1" width="11.8" height="11.8" fill="#000" />
<line x1="741.7" y1="913.0" x2="741.7" y2="935.0" stroke="#000" stroke-width="2.6" />
<line x1="735.9" y1="913.0" x2="747.5" y2="913.0" stroke="#000" stroke-width="2.6" />
<line x1="735.9" y1="935.0" x2="747.5" y2="935.0" stroke="#000" stroke-width="2.6" />
<rect x="735.8" y="918.1" width="11.8" height="11.8" fill="#000" />
<text x="345.0" y="1164.6" font-size="38.1"><tspan font-style="italic">K</tspan><tspan font-style="italic" font-size="27" dy="8">m</tspan><tspan dy="-8"> = 8.36 ± 1.34 µM</tspan></text>
<text x="345.0" y="1246.2" font-size="38.1"><tspan font-style="italic">k</tspan><tspan font-style="italic" font-size="27" dy="8">cat</tspan><tspan dy="-8"> = 0.0165 ± 0.0009 s</tspan><tspan font-size="25" dy="-15">-1</tspan></text>
<line x1="1050.2" y1="783.3" x2="1050.2" y2="1285.3" stroke="#000" stroke-width="3.9" />
<line x1="1048.3" y1="1283.4" x2="1641.5" y2="1283.4" stroke="#000" stroke-width="3.9" />
<line x1="1041.3" y1="1283.4" x2="1050.2" y2="1283.4" stroke="#000" stroke-width="3.9" />
<text x="1038.5" y="1297.7" font-size="38.5" text-anchor="end">0.00</text>
<line x1="1041.3" y1="1117.3" x2="1050.2" y2="1117.3" stroke="#000" stroke-width="3.9" />
<text x="1038.5" y="1131.6" font-size="38.5" text-anchor="end">0.02</text>
<line x1="1041.3" y1="951.3" x2="1050.2" y2="951.3" stroke="#000" stroke-width="3.9" />
<text x="1038.5" y="965.6" font-size="38.5" text-anchor="end">0.04</text>
<line x1="1041.3" y1="785.2" x2="1050.2" y2="785.2" stroke="#000" stroke-width="3.9" />
<text x="1038.5" y="799.5" font-size="38.5" text-anchor="end">0.06</text>
<line x1="1045.5" y1="1200.4" x2="1050.2" y2="1200.4" stroke="#000" stroke-width="3.9" />
<line x1="1045.5" y1="1034.3" x2="1050.2" y2="1034.3" stroke="#000" stroke-width="3.9" />
<line x1="1045.5" y1="868.2" x2="1050.2" y2="868.2" stroke="#000" stroke-width="3.9" />
<line x1="1050.2" y1="1283.4" x2="1050.2" y2="1292.4" stroke="#000" stroke-width="3.9" />
<text x="1050.2" y="1330.5" font-size="38.5" text-anchor="middle">0</text>
<line x1="1134.6" y1="1283.4" x2="1134.6" y2="1292.4" stroke="#000" stroke-width="3.9" />
<text x="1134.6" y="1330.5" font-size="38.5" text-anchor="middle">10</text>
<line x1="1219.0" y1="1283.4" x2="1219.0" y2="1292.4" stroke="#000" stroke-width="3.9" />
<text x="1219.0" y="1330.5" font-size="38.5" text-anchor="middle">20</text>
<line x1="1303.4" y1="1283.4" x2="1303.4" y2="1292.4" stroke="#000" stroke-width="3.9" />
<text x="1303.4" y="1330.5" font-size="38.5" text-anchor="middle">30</text>
<line x1="1387.8" y1="1283.4" x2="1387.8" y2="1292.4" stroke="#000" stroke-width="3.9" />
<text x="1387.8" y="1330.5" font-size="38.5" text-anchor="middle">40</text>
<line x1="1472.2" y1="1283.4" x2="1472.2" y2="1292.4" stroke="#000" stroke-width="3.9" />
<text x="1472.2" y="1330.5" font-size="38.5" text-anchor="middle">50</text>
<line x1="1556.6" y1="1283.4" x2="1556.6" y2="1292.4" stroke="#000" stroke-width="3.9" />
<text x="1556.6" y="1330.5" font-size="38.5" text-anchor="middle">60</text>
<line x1="1641.0" y1="1283.4" x2="1641.0" y2="1292.4" stroke="#000" stroke-width="3.9" />
<text x="1641.0" y="1330.5" font-size="38.5" text-anchor="middle">70</text>
<text x="1347.5" y="1380.5" font-size="38.3" text-anchor="middle">[Naringenin] (µM)</text>
<text x="937.0" y="1019.5" font-size="37.5" text-anchor="middle" transform="rotate(-90 937 1019.5)">Rate (s <tspan font-size="26" dy="-13">−1</tspan><tspan dy="13">)</tspan></text>
<path d="M1050.2,1283.4 L1050.6,1281.5 L1051.0,1279.5 L1051.5,1277.6 L1051.9,1275.7 L1052.3,1273.8 L1052.7,1272.0 L1053.2,1270.1 L1053.6,1268.3 L1054.0,1266.5 L1054.4,1264.6 L1054.8,1262.8 L1055.3,1261.1 L1055.7,1259.3 L1056.1,1257.5 L1056.5,1255.8 L1057.0,1254.1 L1057.4,1252.4 L1057.8,1250.7 L1058.2,1249.0 L1058.6,1247.3 L1059.1,1245.6 L1059.5,1244.0 L1059.9,1242.3 L1060.3,1240.7 L1060.8,1239.1 L1061.2,1237.5 L1061.6,1235.9 L1062.0,1234.3 L1062.4,1232.8 L1062.9,1231.2 L1063.3,1229.7 L1063.7,1228.1 L1064.1,1226.6 L1064.5,1225.1 L1065.0,1223.6 L1065.4,1222.1 L1065.8,1220.6 L1066.2,1219.2 L1066.7,1217.7 L1067.1,1216.3 L1067.5,1214.8 L1067.9,1213.4 L1068.3,1212.0 L1068.8,1210.6 L1069.2,1209.2 L1069.6,1207.8 L1070.0,1206.4 L1070.5,1205.0 L1070.9,1203.7 L1071.3,1202.3 L1071.7,1201.0 L1072.1,1199.6 L1072.6,1198.3 L1073.0,1197.0 L1073.4,1195.7 L1073.8,1194.4 L1074.3,1193.1 L1074.7,1191.8 L1075.1,1190.5 L1075.5,1189.3 L1075.9,1188.0 L1076.4,1186.8 L1076.8,1185.5 L1077.2,1184.3 L1077.6,1183.1 L1078.1,1181.9 L1078.5,1180.7 L1078.9,1179.5 L1079.3,1178.3 L1079.7,1177.1 L1080.2,1175.9 L1080.6,1174.7 L1081.0,1173.6 L1081.4,1172.4 L1081.8,1171.3 L1082.3,1170.1 L1082.7,1169.0 L1083.1,1167.9 L1083.5,1166.7 L1084.0,1165.6 L1084.4,1164.5 L1084.8,1163.4 L1085.2,1162.3 L1085.6,1161.2 L1086.1,1160.1 L1086.5,1159.1 L1086.9,1158.0 L1087.3,1156.9 L1087.8,1155.9 L1088.2,1154.8 L1088.6,1153.8 L1089.0,1152.8 L1089.4,1151.7 L1089.9,1150.7 L1090.3,1149.7 L1090.7,1148.7 L1091.1,1147.7 L1091.6,1146.7 L1092.0,1145.7 L1092.4,1144.7 L1092.8,1143.7 L1094.9,1138.9 L1097.0,1134.2 L1099.2,1129.6 L1101.3,1125.2 L1103.4,1120.9 L1105.5,1116.7 L1107.6,1112.6 L1109.7,1108.6 L1111.8,1104.7 L1113.9,1100.9 L1116.0,1097.2 L1118.1,1093.6 L1120.3,1090.1 L1122.4,1086.7 L1124.5,1083.3 L1126.6,1080.0 L1128.7,1076.8 L1130.8,1073.7 L1132.9,1070.7 L1135.0,1067.7 L1137.1,1064.8 L1139.2,1061.9 L1141.4,1059.1 L1143.5,1056.4 L1145.6,1053.7 L1147.7,1051.1 L1149.8,1048.5 L1151.9,1046.0 L1154.0,1043.6 L1156.1,1041.2 L1158.2,1038.8 L1160.3,1036.5 L1162.5,1034.2 L1164.6,1032.0 L1166.7,1029.8 L1168.8,1027.7 L1170.9,1025.6 L1173.0,1023.5 L1175.1,1021.5 L1177.2,1019.5 L1179.3,1017.5 L1181.4,1015.6 L1183.6,1013.7 L1185.7,1011.9 L1187.8,1010.1 L1189.9,1008.3 L1192.0,1006.5 L1194.1,1004.8 L1196.2,1003.1 L1198.3,1001.4 L1200.4,999.8 L1202.5,998.2 L1204.7,996.6 L1206.8,995.0 L1208.9,993.5 L1211.0,992.0 L1213.1,990.5 L1215.2,989.1 L1217.3,987.6 L1219.4,986.2 L1221.5,984.8 L1223.6,983.4 L1225.8,982.1 L1227.9,980.7 L1230.0,979.4 L1232.1,978.1 L1234.2,976.9 L1236.3,975.6 L1238.4,974.4 L1240.5,973.1 L1242.6,971.9 L1244.7,970.7 L1246.9,969.6 L1249.0,968.4 L1251.1,967.3 L1253.2,966.2 L1255.3,965.1 L1257.4,964.0 L1259.5,962.9 L1261.6,961.8 L1263.7,960.8 L1265.8,959.7 L1268.0,958.7 L1270.1,957.7 L1272.2,956.7 L1274.3,955.7 L1276.4,954.8 L1278.5,953.8 L1280.6,952.9 L1282.7,951.9 L1284.8,951.0 L1286.9,950.1 L1289.1,949.2 L1291.2,948.3 L1293.3,947.4 L1295.4,946.6 L1297.5,945.7 L1299.6,944.9 L1301.7,944.0 L1303.8,943.2 L1305.9,942.4 L1308.0,941.6 L1310.2,940.8 L1312.3,940.0 L1314.4,939.2 L1316.5,938.5 L1318.6,937.7 L1320.7,937.0 L1322.8,936.2 L1324.9,935.5 L1327.0,934.7 L1329.1,934.0 L1331.3,933.3 L1333.4,932.6 L1335.5,931.9 L1337.6,931.2 L1339.7,930.5 L1341.8,929.9 L1343.9,929.2 L1346.0,928.5 L1348.1,927.9 L1350.2,927.2 L1352.4,926.6 L1354.5,926.0 L1356.6,925.3 L1358.7,924.7 L1360.8,924.1 L1362.9,923.5 L1365.0,922.9 L1367.1,922.3 L1369.2,921.7 L1371.3,921.1 L1373.5,920.6 L1375.6,920.0 L1377.7,919.4 L1379.8,918.9 L1381.9,918.3 L1384.0,917.8 L1386.1,917.2 L1388.2,916.7 L1390.3,916.1 L1392.4,915.6 L1394.6,915.1 L1396.7,914.6 L1398.8,914.0 L1400.9,913.5 L1403.0,913.0 L1405.1,912.5 L1407.2,912.0 L1409.3,911.5 L1411.4,911.1 L1413.5,910.6 L1415.7,910.1 L1417.8,909.6 L1419.9,909.2 L1422.0,908.7 L1424.1,908.2 L1426.2,907.8 L1428.3,907.3 L1430.4,906.9 L1432.5,906.4 L1434.6,906.0 L1436.8,905.5 L1438.9,905.1 L1441.0,904.7 L1443.1,904.3 L1445.2,903.8 L1447.3,903.4 L1449.4,903.0 L1451.5,902.6 L1453.6,902.2 L1455.7,901.8 L1457.9,901.4 L1460.0,901.0 L1462.1,900.6 L1464.2,900.2 L1466.3,899.8 L1468.4,899.4 L1470.5,899.0 L1472.6,898.6 L1474.7,898.3 L1476.8,897.9 L1479.0,897.5 L1481.1,897.2 L1483.2,896.8 L1485.3,896.4 L1487.4,896.1 L1489.5,895.7 L1491.6,895.4 L1493.7,895.0 L1495.8,894.7 L1497.9,894.3 L1500.1,894.0 L1502.2,893.6 L1504.3,893.3 L1506.4,893.0 L1508.5,892.6 L1510.6,892.3 L1512.7,892.0 L1514.8,891.6 L1516.9,891.3 L1519.0,891.0 L1521.2,890.7 L1523.3,890.4 L1525.4,890.0 L1527.5,889.7 L1529.6,889.4 L1531.7,889.1 L1533.8,888.8 L1535.9,888.5 L1538.0,888.2 L1540.1,887.9 L1542.3,887.6 L1544.4,887.3 L1546.5,887.0 L1548.6,886.7 L1550.7,886.5 L1552.8,886.2 L1554.9,885.9" stroke="#ff0000" stroke-width="3.8" fill="none" stroke-linejoin="round"/>
<circle cx="1067.1" cy="1240.0" r="6.2" fill="#000"/>
<line x1="1083.9" y1="1147.1" x2="1083.9" y2="1167.7" stroke="#000" stroke-width="2.6" />
<line x1="1078.1" y1="1147.1" x2="1089.7" y2="1147.1" stroke="#000" stroke-width="2.6" />
<line x1="1078.1" y1="1167.7" x2="1089.7" y2="1167.7" stroke="#000" stroke-width="2.6" />
<circle cx="1083.9" cy="1157.4" r="6.2" fill="#000"/>
<line x1="1100.8" y1="1106.8" x2="1100.8" y2="1122.3" stroke="#000" stroke-width="2.6" />
<line x1="1095.0" y1="1106.8" x2="1106.6" y2="1106.8" stroke="#000" stroke-width="2.6" />
<line x1="1095.0" y1="1122.3" x2="1106.6" y2="1122.3" stroke="#000" stroke-width="2.6" />
<circle cx="1100.8" cy="1114.5" r="6.2" fill="#000"/>
<circle cx="1134.6" cy="1061.4" r="6.2" fill="#000"/>
<line x1="1219.0" y1="1000.8" x2="1219.0" y2="1024.0" stroke="#000" stroke-width="2.6" />
<line x1="1213.2" y1="1000.8" x2="1224.8" y2="1000.8" stroke="#000" stroke-width="2.6" />
<line x1="1213.2" y1="1024.0" x2="1224.8" y2="1024.0" stroke="#000" stroke-width="2.6" />
<circle cx="1219.0" cy="1012.6" r="6.2" fill="#000"/>
<line x1="1387.8" y1="860.3" x2="1387.8" y2="933.6" stroke="#000" stroke-width="2.6" />
<line x1="1382.0" y1="860.3" x2="1393.6" y2="860.3" stroke="#000" stroke-width="2.6" />
<line x1="1382.0" y1="933.6" x2="1393.6" y2="933.6" stroke="#000" stroke-width="2.6" />
<circle cx="1387.8" cy="896.5" r="6.2" fill="#000"/>
<line x1="1556.6" y1="859.3" x2="1556.6" y2="927.4" stroke="#000" stroke-width="2.6" />
<line x1="1550.8" y1="859.3" x2="1562.4" y2="859.3" stroke="#000" stroke-width="2.6" />
<line x1="1550.8" y1="927.4" x2="1562.4" y2="927.4" stroke="#000" stroke-width="2.6" />
<circle cx="1556.6" cy="893.4" r="6.2" fill="#000"/>
<text x="1171.5" y="1169.8" font-size="38.1"><tspan font-style="italic">K</tspan><tspan font-style="italic" font-size="27" dy="8">m</tspan><tspan dy="-8"> = 12.27 ± 1.46 µM</tspan></text>
<text x="1174.5" y="1243.6" font-size="38.1"><tspan font-style="italic">k</tspan><tspan font-style="italic" font-size="27" dy="8">cat</tspan><tspan dy="-8"> = 0.0577 ± 0.0025 s</tspan><tspan font-size="25" dy="-15">-1</tspan></text>
<text x="61.8" y="1469.8" font-size="60" font-weight="bold">d</text>
<rect x="196.0" y="1428.0" width="548.0" height="855.0" fill="#d0e1eb" />
<rect x="744.0" y="1428.0" width="517.0" height="855.0" fill="#e4e9fa" />
<rect x="1261.0" y="1428.0" width="262.5" height="855.0" fill="#e2eedb" />
<rect x="1523.5" y="1428.0" width="196.5" height="573.0" fill="#fde3d8" />
<rect x="1523.5" y="2001.0" width="196.5" height="282.0" fill="#fdf3da" />
<text x="233.2" y="1486.1" font-size="32.3" font-weight="bold">Flavone</text>
<text x="781.1" y="1486.8" font-size="32.3" font-weight="bold">Flavonol</text>
<text x="1277.5" y="1485.3" font-size="32.3" font-weight="bold">Anthocyanidin</text>
<text x="1540.0" y="1485.3" font-size="32.3" font-weight="bold">Isoflavone</text>
<text x="1541.4" y="2059.2" font-size="32.3" font-weight="bold">Chromone</text>
<text x="1554.7" y="1598.4" font-size="26.6" font-weight="bold">daidzein</text>
<text x="400.3" y="1548.7" font-size="26.5" font-weight="bold" text-anchor="middle">R<tspan font-size="18" dy="-12.8">5</tspan></text>
<text x="459.9" y="1548.7" font-size="26.5" font-weight="bold" text-anchor="middle">R<tspan font-size="18" dy="-12.8">6</tspan></text>
<text x="519.8" y="1548.7" font-size="26.5" font-weight="bold" text-anchor="middle">R<tspan font-size="18" dy="-12.8">7</tspan></text>
<text x="579.9" y="1548.7" font-size="26.5" font-weight="bold" text-anchor="middle">R<tspan font-size="18" dy="-12.8">8</tspan></text>
<text x="641.2" y="1548.7" font-size="26.5" font-weight="bold" text-anchor="middle">R<tspan font-size="18" dy="-12.8">3'</tspan></text>
<text x="701.9" y="1548.7" font-size="26.5" font-weight="bold" text-anchor="middle">R<tspan font-size="18" dy="-12.8">4'</tspan></text>
<text x="366.5" y="1583.3" font-size="27" font-weight="bold" text-anchor="end">chrysin :</text>
<text x="399.1" y="1583.3" font-size="22" text-anchor="middle" fill="#2b3640">OH</text>
<text x="458.7" y="1583.3" font-size="22" text-anchor="middle" fill="#2b3640">H</text>
<text x="518.6" y="1583.3" font-size="22" text-anchor="middle" fill="#2b3640">OH</text>
<text x="578.7" y="1583.3" font-size="22" text-anchor="middle" fill="#2b3640">H</text>
<text x="640.0" y="1583.3" font-size="22" text-anchor="middle" fill="#2b3640">H</text>
<text x="700.7" y="1583.3" font-size="22" text-anchor="middle" fill="#2b3640">H</text>
<text x="366.5" y="1618.3" font-size="27" font-weight="bold" text-anchor="end">luteolin :</text>
<text x="399.1" y="1618.3" font-size="22" text-anchor="middle" fill="#2b3640">OH</text>
<text x="458.7" y="1618.3" font-size="22" text-anchor="middle" fill="#2b3640">H</text>
<text x="518.6" y="1618.3" font-size="22" text-anchor="middle" fill="#2b3640">OH</text>
<text x="578.7" y="1618.3" font-size="22" text-anchor="middle" fill="#2b3640">H</text>
<text x="640.0" y="1618.3" font-size="22" text-anchor="middle" fill="#2b3640">OH</text>
<text x="700.7" y="1618.3" font-size="22" text-anchor="middle" fill="#2b3640">OH</text>
<text x="366.5" y="1652.5" font-size="27" font-weight="bold" text-anchor="end">diosmetin :</text>
<text x="399.1" y="1652.5" font-size="22" text-anchor="middle" fill="#2b3640">OH</text>
<text x="458.7" y="1652.5" font-size="22" text-anchor="middle" fill="#2b3640">H</text>
<text x="518.6" y="1652.5" font-size="22" text-anchor="middle" fill="#2b3640">OH</text>
<text x="578.7" y="1652.5" font-size="22" text-anchor="middle" fill="#2b3640">H</text>
<text x="640.0" y="1652.5" font-size="22" text-anchor="middle" fill="#2b3640">OH</text>
<text x="700.7" y="1652.5" font-size="22" text-anchor="middle" fill="#2b3640">OCH<tspan font-size="13.5" dy="5">3</tspan></text>
<text x="366.5" y="1687.0" font-size="27" font-weight="bold" text-anchor="end">tangeretin :</text>
<text x="399.1" y="1687.0" font-size="22" text-anchor="middle" fill="#2b3640">OCH<tspan font-size="13.5" dy="5">3</tspan></text>
<text x="458.7" y="1687.0" font-size="22" text-anchor="middle" fill="#2b3640">OCH<tspan font-size="13.5" dy="5">3</tspan></text>
<text x="518.6" y="1687.0" font-size="22" text-anchor="middle" fill="#2b3640">OCH<tspan font-size="13.5" dy="5">3</tspan></text>
<text x="578.7" y="1687.0" font-size="22" text-anchor="middle" fill="#2b3640">OCH<tspan font-size="13.5" dy="5">3</tspan></text>
<text x="640.0" y="1687.0" font-size="22" text-anchor="middle" fill="#2b3640">H</text>
<text x="700.7" y="1687.0" font-size="22" text-anchor="middle" fill="#2b3640">OCH<tspan font-size="13.5" dy="5">3</tspan></text>
<text x="366.5" y="1722.2" font-size="27" font-weight="bold" text-anchor="end">nobiletin :</text>
<text x="399.1" y="1722.2" font-size="22" text-anchor="middle" fill="#2b3640">OCH<tspan font-size="13.5" dy="5">3</tspan></text>
<text x="458.7" y="1722.2" font-size="22" text-anchor="middle" fill="#2b3640">OCH<tspan font-size="13.5" dy="5">3</tspan></text>
<text x="518.6" y="1722.2" font-size="22" text-anchor="middle" fill="#2b3640">OCH<tspan font-size="13.5" dy="5">3</tspan></text>
<text x="578.7" y="1722.2" font-size="22" text-anchor="middle" fill="#2b3640">OCH<tspan font-size="13.5" dy="5">3</tspan></text>
<text x="640.0" y="1722.2" font-size="22" text-anchor="middle" fill="#2b3640">OCH<tspan font-size="13.5" dy="5">3</tspan></text>
<text x="700.7" y="1722.2" font-size="22" text-anchor="middle" fill="#2b3640">OCH<tspan font-size="13.5" dy="5">3</tspan></text>
<text x="1034.1" y="1546.2" font-size="26.5" font-weight="bold" text-anchor="middle">R<tspan font-size="18" dy="-12.8">3'</tspan></text>
<text x="1094.5" y="1546.2" font-size="26.5" font-weight="bold" text-anchor="middle">R<tspan font-size="18" dy="-12.8">4'</tspan></text>
<text x="1154.6" y="1546.2" font-size="26.5" font-weight="bold" text-anchor="middle">R<tspan font-size="18" dy="-12.8">5'</tspan></text>
<text x="1001.0" y="1581.9" font-size="27.8" font-weight="bold" text-anchor="end">morin :</text>
<text x="1032.9" y="1581.9" font-size="22" text-anchor="middle" fill="#2b3640">OH</text>
<text x="1093.3" y="1581.9" font-size="22" text-anchor="middle" fill="#2b3640">H</text>
<text x="1153.4" y="1581.9" font-size="22" text-anchor="middle" fill="#2b3640">OH</text>
<text x="1001.0" y="1616.9" font-size="27.8" font-weight="bold" text-anchor="end">kaempferol :</text>
<text x="1032.9" y="1616.9" font-size="22" text-anchor="middle" fill="#2b3640">H</text>
<text x="1093.3" y="1616.9" font-size="22" text-anchor="middle" fill="#2b3640">OH</text>
<text x="1153.4" y="1616.9" font-size="22" text-anchor="middle" fill="#2b3640">H</text>
<text x="1001.0" y="1651.0" font-size="27.8" font-weight="bold" text-anchor="end">quercetin :</text>
<text x="1032.9" y="1651.0" font-size="22" text-anchor="middle" fill="#2b3640">OH</text>
<text x="1093.3" y="1651.0" font-size="22" text-anchor="middle" fill="#2b3640">OH</text>
<text x="1153.4" y="1651.0" font-size="22" text-anchor="middle" fill="#2b3640">H</text>
<text x="1001.0" y="1687.0" font-size="27.8" font-weight="bold" text-anchor="end">myricetin :</text>
<text x="1032.9" y="1687.0" font-size="22" text-anchor="middle" fill="#2b3640">OH</text>
<text x="1093.3" y="1687.0" font-size="22" text-anchor="middle" fill="#2b3640">OH</text>
<text x="1153.4" y="1687.0" font-size="22" text-anchor="middle" fill="#2b3640">OH</text>
<text x="1001.0" y="1722.0" font-size="27.8" font-weight="bold" text-anchor="end">isorhamnetin :</text>
<text x="1032.9" y="1722.0" font-size="22" text-anchor="middle" fill="#2b3640">OCH<tspan font-size="13.5" dy="5">3</tspan></text>
<text x="1093.3" y="1722.0" font-size="22" text-anchor="middle" fill="#2b3640">OH</text>
<text x="1153.4" y="1722.0" font-size="22" text-anchor="middle" fill="#2b3640">H</text>
<text x="1484.2" y="1547.4" font-size="26.5" font-weight="bold" text-anchor="middle">R<tspan font-size="18" dy="-12.8">5'</tspan></text>
<text x="1451.3" y="1583.4" font-size="25.7" font-weight="bold" text-anchor="end">cyanidin :</text>
<text x="1483.0" y="1583.4" font-size="22" text-anchor="middle" fill="#2b3640">H</text>
<text x="1451.3" y="1616.3" font-size="25.7" font-weight="bold" text-anchor="end">delphinidin :</text>
<text x="1483.0" y="1616.3" font-size="22" text-anchor="middle" fill="#2b3640">OH</text>
<line x1="173.0" y1="1802.0" x2="173.0" y2="2285.1" stroke="#000" stroke-width="3" />
<line x1="171.5" y1="2283.6" x2="1720.0" y2="2283.6" stroke="#000" stroke-width="3" />
<line x1="165.5" y1="2283.6" x2="173.0" y2="2283.6" stroke="#000" stroke-width="3" />
<text x="160.5" y="2298.1" font-size="40" text-anchor="end">0.000</text>
<line x1="165.5" y1="2187.6" x2="173.0" y2="2187.6" stroke="#000" stroke-width="3" />
<text x="160.5" y="2202.1" font-size="40" text-anchor="end">0.005</text>
<line x1="165.5" y1="2091.5" x2="173.0" y2="2091.5" stroke="#000" stroke-width="3" />
<text x="160.5" y="2106.0" font-size="40" text-anchor="end">0.010</text>
<line x1="165.5" y1="1995.5" x2="173.0" y2="1995.5" stroke="#000" stroke-width="3" />
<text x="160.5" y="2010.0" font-size="40" text-anchor="end">0.015</text>
<line x1="165.5" y1="1899.4" x2="173.0" y2="1899.4" stroke="#000" stroke-width="3" />
<text x="160.5" y="1913.9" font-size="40" text-anchor="end">0.020</text>
<line x1="165.5" y1="1803.4" x2="173.0" y2="1803.4" stroke="#000" stroke-width="3" />
<text x="160.5" y="1817.9" font-size="40" text-anchor="end">0.025</text>
<text x="44.5" y="2035.0" font-size="41" text-anchor="middle" transform="rotate(-90 44.5 2035)">Rate (s<tspan font-size="27" dy="-15">-1</tspan><tspan dy="15">)</tspan></text>
<rect x="228.6" y="1933.8" width="54.8" height="349.8" fill="#779dd0" stroke="#000" stroke-width="3" />
<line x1="256.0" y1="1933.8" x2="256.0" y2="1916.8" stroke="#000" stroke-width="4.5" />
<line x1="243.0" y1="1916.8" x2="269.0" y2="1916.8" stroke="#000" stroke-width="5" />
<rect x="336.9" y="2076.6" width="54.8" height="207.0" fill="#779dd0" stroke="#000" stroke-width="3" />
<line x1="364.3" y1="2076.6" x2="364.3" y2="2053.9" stroke="#000" stroke-width="4.5" />
<line x1="351.3" y1="2053.9" x2="377.3" y2="2053.9" stroke="#000" stroke-width="5" />
<rect x="445.2" y="2250.4" width="54.8" height="33.2" fill="#779dd0" stroke="#000" stroke-width="3" />
<line x1="472.6" y1="2250.4" x2="472.6" y2="2249.0" stroke="#000" stroke-width="4.5" />
<line x1="459.6" y1="2249.0" x2="485.6" y2="2249.0" stroke="#000" stroke-width="5" />
<line x1="553.5" y1="2282.6" x2="608.3" y2="2282.6" stroke="#000" stroke-width="2" />
<line x1="580.9" y1="2282.0" x2="580.9" y2="2273.8" stroke="#000" stroke-width="4.5" />
<line x1="567.9" y1="2273.8" x2="593.9" y2="2273.8" stroke="#000" stroke-width="5" />
<line x1="661.8" y1="2282.6" x2="716.6" y2="2282.6" stroke="#000" stroke-width="2" />
<line x1="689.2" y1="2282.5" x2="689.2" y2="2277.0" stroke="#000" stroke-width="4.5" />
<line x1="676.2" y1="2277.0" x2="702.2" y2="2277.0" stroke="#000" stroke-width="5" />
<rect x="770.1" y="1992.8" width="54.8" height="290.8" fill="#779dd0" stroke="#000" stroke-width="3" />
<line x1="797.5" y1="1992.8" x2="797.5" y2="1956.0" stroke="#000" stroke-width="4.5" />
<line x1="784.5" y1="1956.0" x2="810.5" y2="1956.0" stroke="#000" stroke-width="5" />
<rect x="878.4" y="2003.5" width="54.8" height="280.1" fill="#779dd0" stroke="#000" stroke-width="3" />
<line x1="905.8" y1="2003.5" x2="905.8" y2="1942.0" stroke="#000" stroke-width="4.5" />
<line x1="892.8" y1="1942.0" x2="918.8" y2="1942.0" stroke="#000" stroke-width="5" />
<rect x="986.7" y="2131.6" width="54.8" height="152.0" fill="#779dd0" stroke="#000" stroke-width="3" />
<line x1="1014.1" y1="2131.6" x2="1014.1" y2="2129.5" stroke="#000" stroke-width="4.5" />
<line x1="1001.1" y1="2129.5" x2="1027.1" y2="2129.5" stroke="#000" stroke-width="5" />
<rect x="1095.0" y="2244.9" width="54.8" height="38.7" fill="#779dd0" stroke="#000" stroke-width="3" />
<line x1="1122.4" y1="2244.9" x2="1122.4" y2="2242.0" stroke="#000" stroke-width="4.5" />
<line x1="1109.4" y1="2242.0" x2="1135.4" y2="2242.0" stroke="#000" stroke-width="5" />
<rect x="1203.3" y="2247.2" width="54.8" height="36.4" fill="#779dd0" stroke="#000" stroke-width="3" />
<line x1="1230.7" y1="2247.2" x2="1230.7" y2="2244.0" stroke="#000" stroke-width="4.5" />
<line x1="1217.7" y1="2244.0" x2="1243.7" y2="2244.0" stroke="#000" stroke-width="5" />
<line x1="1311.6" y1="2282.6" x2="1366.4" y2="2282.6" stroke="#000" stroke-width="2" />
<line x1="1339.0" y1="2283.0" x2="1339.0" y2="2281.0" stroke="#000" stroke-width="4.5" />
<line x1="1326.0" y1="2281.0" x2="1352.0" y2="2281.0" stroke="#000" stroke-width="5" />
<line x1="1419.9" y1="2282.6" x2="1474.7" y2="2282.6" stroke="#000" stroke-width="2" />
<line x1="1447.3" y1="2283.0" x2="1447.3" y2="2274.0" stroke="#000" stroke-width="4.5" />
<line x1="1434.3" y1="2274.0" x2="1460.3" y2="2274.0" stroke="#000" stroke-width="5" />
<rect x="1528.2" y="2281.5" width="54.8" height="2.1" fill="#779dd0" stroke="#000" stroke-width="3" />
<line x1="1555.6" y1="2281.5" x2="1555.6" y2="2277.5" stroke="#000" stroke-width="4.5" />
<line x1="1542.6" y1="2277.5" x2="1568.6" y2="2277.5" stroke="#000" stroke-width="5" />
<line x1="1636.5" y1="2282.6" x2="1691.3" y2="2282.6" stroke="#000" stroke-width="2" />
<line x1="1663.9" y1="2282.5" x2="1663.9" y2="2269.0" stroke="#000" stroke-width="4.5" />
<line x1="1650.9" y1="2269.0" x2="1676.9" y2="2269.0" stroke="#000" stroke-width="5" />
<circle cx="249.4" cy="1923.6" r="4.6" fill="none" stroke="#000" stroke-width="2.6"/>
<circle cx="262.6" cy="1926.6" r="4.6" fill="none" stroke="#000" stroke-width="2.6"/>
<circle cx="256.2" cy="1953.8" r="4.6" fill="none" stroke="#000" stroke-width="2.6"/>
<circle cx="364.6" cy="2071.0" r="4.6" fill="none" stroke="#000" stroke-width="2.6"/>
<circle cx="364.6" cy="2101.9" r="4.6" fill="none" stroke="#000" stroke-width="2.6"/>
<circle cx="458.0" cy="2248.5" r="4.6" fill="none" stroke="#000" stroke-width="2.6"/>
<circle cx="472.3" cy="2254.2" r="4.6" fill="none" stroke="#000" stroke-width="2.6"/>
<circle cx="487.4" cy="2251.5" r="4.6" fill="none" stroke="#000" stroke-width="2.6"/>
<circle cx="581.0" cy="2270.5" r="4.6" fill="none" stroke="#000" stroke-width="2.6"/>
<circle cx="689.0" cy="2275.0" r="4.6" fill="none" stroke="#000" stroke-width="2.6"/>
<circle cx="797.6" cy="1952.2" r="4.6" fill="none" stroke="#000" stroke-width="2.6"/>
<circle cx="797.6" cy="2003.5" r="4.6" fill="none" stroke="#000" stroke-width="2.6"/>
<circle cx="797.6" cy="2023.0" r="4.6" fill="none" stroke="#000" stroke-width="2.6"/>
<circle cx="905.8" cy="1935.0" r="4.6" fill="none" stroke="#000" stroke-width="2.6"/>
<circle cx="905.8" cy="2019.8" r="4.6" fill="none" stroke="#000" stroke-width="2.6"/>
<circle cx="905.8" cy="2054.3" r="4.6" fill="none" stroke="#000" stroke-width="2.6"/>
<circle cx="1000.4" cy="2127.0" r="4.6" fill="none" stroke="#000" stroke-width="2.6"/>
<circle cx="1014.3" cy="2134.0" r="4.6" fill="none" stroke="#000" stroke-width="2.6"/>
<circle cx="1028.3" cy="2131.6" r="4.6" fill="none" stroke="#000" stroke-width="2.6"/>
<circle cx="1109.0" cy="2241.0" r="4.6" fill="none" stroke="#000" stroke-width="2.6"/>
<circle cx="1123.0" cy="2251.4" r="4.6" fill="none" stroke="#000" stroke-width="2.6"/>
<circle cx="1137.8" cy="2242.5" r="4.6" fill="none" stroke="#000" stroke-width="2.6"/>
<circle cx="1217.0" cy="2243.5" r="4.6" fill="none" stroke="#000" stroke-width="2.6"/>
<circle cx="1231.0" cy="2252.8" r="4.6" fill="none" stroke="#000" stroke-width="2.6"/>
<circle cx="1244.0" cy="2245.0" r="4.6" fill="none" stroke="#000" stroke-width="2.6"/>
<circle cx="1338.6" cy="2278.6" r="4.6" fill="none" stroke="#000" stroke-width="2.6"/>
<circle cx="1447.5" cy="2271.0" r="4.6" fill="none" stroke="#000" stroke-width="2.6"/>
<circle cx="1547.6" cy="2284.7" r="4.6" fill="none" stroke="#000" stroke-width="2.6"/>
<circle cx="1563.8" cy="2275.5" r="4.6" fill="none" stroke="#000" stroke-width="2.6"/>
<circle cx="1657.8" cy="2274.9" r="4.6" fill="none" stroke="#000" stroke-width="2.6"/>
<circle cx="1671.0" cy="2274.9" r="4.6" fill="none" stroke="#000" stroke-width="2.6"/>
<line x1="256.0" y1="2283.6" x2="256.0" y2="2297.0" stroke="#000" stroke-width="3" />
<text x="270.5" y="2330.0" font-size="40" text-anchor="end" transform="rotate(-45 270.5 2330)">Chrysin</text>
<line x1="364.3" y1="2283.6" x2="364.3" y2="2297.0" stroke="#000" stroke-width="3" />
<text x="378.8" y="2330.0" font-size="40" text-anchor="end" transform="rotate(-45 378.8 2330)">Luteolin</text>
<line x1="472.6" y1="2283.6" x2="472.6" y2="2297.0" stroke="#000" stroke-width="3" />
<text x="487.1" y="2330.0" font-size="40" text-anchor="end" transform="rotate(-45 487.1 2330)">Diosmetin</text>
<line x1="580.9" y1="2283.6" x2="580.9" y2="2297.0" stroke="#000" stroke-width="3" />
<text x="595.4" y="2330.0" font-size="40" text-anchor="end" transform="rotate(-45 595.4 2330)">Tangeretin</text>
<line x1="689.2" y1="2283.6" x2="689.2" y2="2297.0" stroke="#000" stroke-width="3" />
<text x="703.7" y="2330.0" font-size="40" text-anchor="end" transform="rotate(-45 703.7 2330)">Nobiletin</text>
<line x1="797.5" y1="2283.6" x2="797.5" y2="2297.0" stroke="#000" stroke-width="3" />
<text x="812.0" y="2330.0" font-size="40" text-anchor="end" transform="rotate(-45 812.0 2330)">Morin</text>
<line x1="905.8" y1="2283.6" x2="905.8" y2="2297.0" stroke="#000" stroke-width="3" />
<text x="920.3" y="2330.0" font-size="40" text-anchor="end" transform="rotate(-45 920.3 2330)">Kaempferol</text>
<line x1="1014.1" y1="2283.6" x2="1014.1" y2="2297.0" stroke="#000" stroke-width="3" />
<text x="1028.6" y="2330.0" font-size="40" text-anchor="end" transform="rotate(-45 1028.6 2330)">Quercetin</text>
<line x1="1122.4" y1="2283.6" x2="1122.4" y2="2297.0" stroke="#000" stroke-width="3" />
<text x="1136.9" y="2330.0" font-size="40" text-anchor="end" transform="rotate(-45 1136.9 2330)">Myricetin</text>
<line x1="1230.7" y1="2283.6" x2="1230.7" y2="2297.0" stroke="#000" stroke-width="3" />
<text x="1245.2" y="2330.0" font-size="40" text-anchor="end" transform="rotate(-45 1245.1999999999998 2330)">Isorhamnetin</text>
<line x1="1339.0" y1="2283.6" x2="1339.0" y2="2297.0" stroke="#000" stroke-width="3" />
<text x="1353.5" y="2330.0" font-size="40" text-anchor="end" transform="rotate(-45 1353.5 2330)">Cyanidin</text>
<line x1="1447.3" y1="2283.6" x2="1447.3" y2="2297.0" stroke="#000" stroke-width="3" />
<text x="1461.8" y="2330.0" font-size="40" text-anchor="end" transform="rotate(-45 1461.8 2330)">Delphinidin</text>
<line x1="1555.6" y1="2283.6" x2="1555.6" y2="2297.0" stroke="#000" stroke-width="3" />
<text x="1570.1" y="2330.0" font-size="40" text-anchor="end" transform="rotate(-45 1570.1 2330)">Daidzein</text>
<line x1="1663.9" y1="2283.6" x2="1663.9" y2="2297.0" stroke="#000" stroke-width="3" />
<text x="1678.4" y="2330.0" font-size="40" text-anchor="end" transform="rotate(-45 1678.3999999999999 2330)">Chromone</text>
<text x="946.0" y="2516.7" font-size="40" text-anchor="middle">Substrates</text>
<path d="M460.3,1852.7 L492.2,1871.2 M461.3,1860.9 L484.6,1874.4 M492.2,1871.2 L492.2,1908.3 M492.2,1908.3 L460.3,1926.9 M484.6,1905.2 L461.3,1918.7 M460.3,1926.9 L428.4,1908.3 M428.4,1908.3 L428.4,1871.2 M435.0,1903.3 L435.0,1876.2 M428.4,1871.2 L460.3,1852.7 M492.2,1871.2 L515.9,1857.5 M532.3,1857.5 L556.0,1871.2 M556.0,1871.2 L556.0,1908.3 M549.4,1876.2 L549.4,1903.3 M556.0,1908.3 L524.1,1926.9 M524.1,1926.9 L492.2,1908.3 M520.7,1926.9 L520.7,1954.5 M527.5,1926.9 L527.5,1954.5 M556.0,1871.2 L587.9,1852.7 M587.9,1852.7 L587.9,1815.6 M587.9,1815.6 L619.8,1797.0 M595.5,1818.8 L618.8,1805.3 M619.8,1797.0 L651.7,1815.6 M651.7,1815.6 L651.7,1852.7 M645.1,1820.6 L645.1,1847.7 M651.7,1852.7 L619.8,1871.2 M619.8,1871.2 L587.9,1852.7 M618.8,1863.0 L595.5,1849.5" stroke="#27353f" stroke-width="2.1" fill="none" stroke-linecap="round" stroke-linejoin="round"/>
<text x="524.1" y="1859.7" font-size="19.5" text-anchor="middle" fill="#27353f">O</text>
<text x="524.1" y="1971.0" font-size="19.5" text-anchor="middle" fill="#27353f">O</text>
<text x="453.8" y="1824.7" font-size="19.5" text-anchor="start" fill="#27353f">R<tspan font-size="13" dy="-8">8</tspan></text>
<text x="388.3" y="1860.2" font-size="19.5" text-anchor="start" fill="#27353f">R<tspan font-size="13" dy="-8">7</tspan></text>
<text x="379.6" y="1942.4" font-size="19.5" text-anchor="start" fill="#27353f">R<tspan font-size="13" dy="-8">6</tspan></text>
<text x="453.8" y="1968.9" font-size="19.5" text-anchor="start" fill="#27353f">R<tspan font-size="13" dy="-8">5</tspan></text>
<text x="612.8" y="1769.5" font-size="19.5" text-anchor="start" fill="#27353f">R<tspan font-size="13" dy="-8">3'</tspan></text>
<text x="674.9" y="1805.6" font-size="19.5" text-anchor="start" fill="#27353f">R<tspan font-size="13" dy="-8">4'</tspan></text>
<path d="M460.3,1852.7 L460.3,1828.2 M428.4,1871.2 L407.8,1859.7 M428.4,1908.3 L404.6,1921.9 M460.3,1926.9 L460.3,1947.4 M619.8,1797.0 L619.8,1773.5 M651.7,1815.6 L670.9,1804.6" stroke="#27353f" stroke-width="2.1" fill="none" stroke-linecap="round"/>
<path d="M1008.0,1853.1 L1039.9,1871.7 M1009.0,1861.3 L1032.3,1874.8 M1039.9,1871.7 L1039.9,1908.8 M1039.9,1908.8 L1008.0,1927.3 M1032.3,1905.6 L1009.0,1919.1 M1008.0,1927.3 L976.1,1908.8 M976.1,1908.8 L976.1,1871.7 M982.7,1903.8 L982.7,1876.7 M976.1,1871.7 L1008.0,1853.1 M1039.9,1871.7 L1063.6,1857.9 M1080.0,1857.9 L1103.7,1871.7 M1103.7,1871.7 L1103.7,1908.8 M1097.1,1876.7 L1097.1,1903.8 M1103.7,1908.8 L1071.8,1927.3 M1071.8,1927.3 L1039.9,1908.8 M1068.4,1927.3 L1068.4,1954.9 M1075.2,1927.3 L1075.2,1954.9 M1103.7,1871.7 L1135.6,1853.1 M1135.6,1853.1 L1135.6,1816.0 M1135.6,1816.0 L1167.5,1797.5 M1143.2,1819.2 L1166.5,1805.7 M1167.5,1797.5 L1199.4,1816.0 M1199.4,1816.0 L1199.4,1853.1 M1192.8,1821.0 L1192.8,1848.1 M1199.4,1853.1 L1167.5,1871.6 M1167.5,1871.6 L1135.6,1853.1 M1166.5,1863.4 L1143.2,1849.9" stroke="#2b303c" stroke-width="2.1" fill="none" stroke-linecap="round" stroke-linejoin="round"/>
<text x="1071.8" y="1860.1" font-size="19.5" text-anchor="middle" fill="#2b303c">O</text>
<text x="1071.8" y="1971.4" font-size="19.5" text-anchor="middle" fill="#2b303c">O</text>
<text x="952.6" y="1861.2" font-size="19.5" text-anchor="end" fill="#2b303c">HO</text>
<text x="1000.8" y="1968.3" font-size="19.5" fill="#2b303c">OH</text>
<text x="1127.1" y="1932.5" font-size="19.5" fill="#2b303c">OH</text>
<text x="1160.5" y="1769.0" font-size="19.5" text-anchor="start" fill="#2b303c">R<tspan font-size="13" dy="-8">3'</tspan></text>
<text x="1223.2" y="1805.4" font-size="19.5" text-anchor="start" fill="#2b303c">R<tspan font-size="13" dy="-8">4'</tspan></text>
<text x="1223.2" y="1877.8" font-size="19.5" text-anchor="start" fill="#2b303c">R<tspan font-size="13" dy="-8">5'</tspan></text>
<path d="M976.1,1871.7 L955.1,1859.8 M1008.0,1927.3 L1008.0,1950.8 M1103.7,1908.8 L1124.1,1920.0 M1167.5,1797.5 L1167.5,1773.0 M1199.4,1816.0 L1219.7,1804.7 M1199.4,1853.1 L1219.7,1864.8" stroke="#2b303c" stroke-width="2.1" fill="none" stroke-linecap="round"/>
<path d="M1341.9,1690.8 L1381.2,1690.8 M1346.9,1697.4 L1376.2,1697.4 M1381.2,1690.8 L1399.2,1721.9 M1399.2,1721.9 L1381.2,1753.0 M1391.0,1722.9 L1378.0,1745.4 M1381.2,1753.0 L1341.9,1753.0 M1341.9,1753.0 L1323.9,1721.9 M1345.1,1745.4 L1332.1,1722.9 M1323.9,1721.9 L1341.9,1690.8 M1381.2,1753.0 L1394.4,1775.9 M1394.6,1792.4 L1381.2,1816.8 M1386.4,1793.6 L1377.8,1809.2 M1381.2,1816.8 L1341.9,1816.8 M1341.9,1816.8 L1323.9,1784.1 M1345.3,1809.2 L1332.1,1785.3 M1323.9,1784.1 L1341.9,1753.0 M1381.2,1816.8 L1399.2,1848.7 M1399.2,1848.7 L1436.0,1848.7 M1436.0,1848.7 L1454.0,1880.7 M1432.7,1856.3 L1445.8,1879.6 M1454.0,1880.7 L1436.0,1912.6 M1436.0,1912.6 L1399.2,1912.6 M1431.0,1906.0 L1404.2,1906.0 M1399.2,1912.6 L1380.3,1880.7 M1380.3,1880.7 L1399.2,1848.7 M1388.5,1879.8 L1402.3,1856.4" stroke="#1e2a1e" stroke-width="2.1" fill="none" stroke-linecap="round" stroke-linejoin="round"/>
<path d="M1381.2,1690.8 L1394.2,1667.8 M1323.9,1721.9 L1299.3,1721.9 M1341.9,1816.8 L1330.4,1838.9 M1454.0,1880.7 L1477.7,1880.7 M1436.0,1912.6 L1448.3,1934.7 M1399.2,1912.6 L1386.0,1934.7" stroke="#1e2a1e" stroke-width="2.1" fill="none" stroke-linecap="round"/>
<text x="1393.0" y="1636.0" font-size="19.5" fill="#1e2a1e" transform="rotate(90 1393.0 1636.0)">HO</text>
<text x="1281.0" y="1715.5" font-size="19.5" fill="#1e2a1e" transform="rotate(90 1281.0 1715.5)">OH</text>
<text x="1317.0" y="1843.0" font-size="19.5" fill="#1e2a1e" transform="rotate(90 1317.0 1843.0)">OH</text>
<text x="1448.0" y="1939.5" font-size="19.5" fill="#1e2a1e" transform="rotate(90 1448.0 1939.5)">OH</text>
<text x="1373.5" y="1939.5" font-size="19.5" fill="#1e2a1e" transform="rotate(90 1373.5 1939.5)">OH</text>
<text x="1483.0" y="1875.5" font-size="19.5" fill="#1e2a1e" transform="rotate(90 1483.0 1875.5)">R<tspan font-size="13" dy="-8">5'</tspan></text>
<text x="1392.5" y="1777.5" font-size="19.5" fill="#1e2a1e" transform="rotate(90 1392.5 1777.5)">O<tspan font-size="13" dy="-7">+</tspan></text>
<path d="M1632.8,1692.7 L1671.2,1692.7 M1671.2,1692.7 L1690.0,1725.4 M1668.0,1700.3 L1681.8,1724.4 M1690.0,1725.4 L1671.2,1758.1 M1671.2,1758.1 L1632.8,1758.1 M1666.2,1751.5 L1637.8,1751.5 M1632.8,1758.1 L1614.0,1725.4 M1614.0,1725.4 L1632.8,1692.7 M1622.2,1724.4 L1636.0,1700.3 M1632.8,1758.1 L1614.0,1790.8 M1614.0,1790.8 L1575.6,1790.8 M1609.0,1797.4 L1580.6,1797.4 M1575.6,1790.8 L1560.9,1815.4 M1560.9,1831.6 L1575.6,1856.2 M1575.6,1856.2 L1614.0,1856.2 M1614.0,1856.2 L1632.8,1823.5 M1632.8,1823.5 L1614.0,1790.8 M1632.8,1826.9 L1660.9,1826.9 M1632.8,1820.1 L1660.9,1820.1 M1614.0,1856.2 L1632.8,1889.0 M1610.8,1863.8 L1624.6,1887.9 M1632.8,1889.0 L1614.0,1921.6 M1614.0,1921.6 L1575.6,1921.6 M1609.0,1915.0 L1580.6,1915.0 M1575.6,1921.6 L1556.0,1889.0 M1556.0,1889.0 L1575.6,1856.2 M1564.2,1888.1 L1578.7,1863.9" stroke="#3a2722" stroke-width="2.1" fill="none" stroke-linecap="round" stroke-linejoin="round"/>
<path d="M1671.2,1692.7 L1684.3,1669.0 M1575.6,1921.6 L1562.5,1944.5" stroke="#3a2722" stroke-width="2.1" fill="none" stroke-linecap="round"/>
<text x="1682.5" y="1638.0" font-size="19.5" fill="#3a2722" transform="rotate(90 1682.5 1638.0)">HO</text>
<text x="1549.5" y="1948.5" font-size="19.5" fill="#3a2722" transform="rotate(90 1549.5 1948.5)">OH</text>
<text x="1549.5" y="1817.0" font-size="19.5" fill="#3a2722" transform="rotate(90 1549.5 1817.0)">O</text>
<text x="1664.0" y="1817.0" font-size="19.5" fill="#3a2722" transform="rotate(90 1664.0 1817.0)">O</text>
<path d="M1590.9,2128.7 L1621.9,2146.6 M1591.9,2136.9 L1614.3,2149.8 M1621.9,2146.6 L1621.9,2182.4 M1621.9,2182.4 L1590.9,2200.3 M1614.3,2179.2 L1591.9,2192.1 M1590.9,2200.3 L1559.2,2182.4 M1559.2,2182.4 L1559.2,2146.6 M1565.8,2177.4 L1565.8,2151.6 M1559.2,2146.6 L1590.9,2128.7 M1621.9,2146.6 L1644.7,2133.5 M1661.1,2133.5 L1683.9,2146.6 M1683.9,2146.6 L1683.9,2182.4 M1677.3,2151.6 L1677.3,2177.4 M1683.9,2182.4 L1652.9,2200.3 M1652.9,2200.3 L1621.9,2182.4 M1649.5,2200.3 L1649.5,2225.3 M1656.3,2200.3 L1656.3,2225.3" stroke="#2f2a1c" stroke-width="2.1" fill="none" stroke-linecap="round" stroke-linejoin="round"/>
<text x="1652.9" y="2135.7" font-size="19.5" text-anchor="middle" fill="#2f2a1c">O</text>
<text x="1652.9" y="2241.8" font-size="19.5" text-anchor="middle" fill="#2f2a1c">O</text>
</svg>
</body></html>
